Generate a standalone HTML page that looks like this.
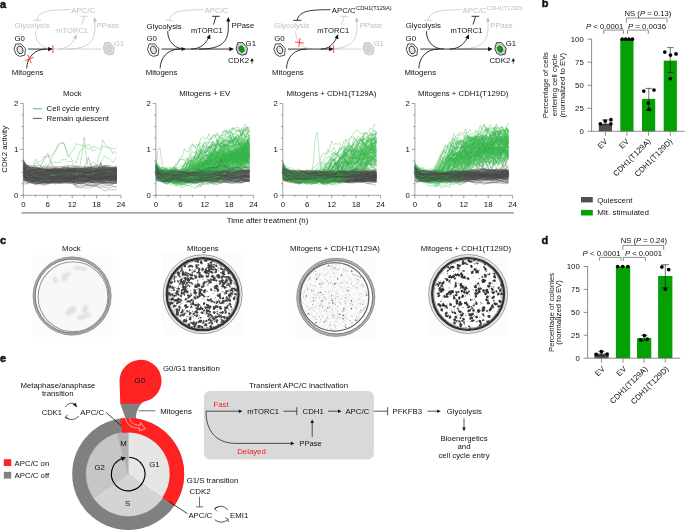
<!DOCTYPE html>
<html><head><meta charset="utf-8"><title>Figure</title>
<style>
html,body{margin:0;padding:0;background:#fff;}
body{width:685px;height:530px;overflow:hidden;font-family:"Liberation Sans",sans-serif;}
svg{display:block;font-family:"Liberation Sans",sans-serif;will-change:transform;}
</style></head><body>
<svg width="685" height="530" viewBox="0 0 685 530">
<defs>
<marker id="ab" markerWidth="7" markerHeight="6" refX="3.4" refY="2.1" orient="auto" markerUnits="userSpaceOnUse"><path d="M0,0 L4.6,2.1 L0,4.2 Z" fill="#111"/></marker>
<marker id="ag" markerWidth="7" markerHeight="6" refX="3.4" refY="2.1" orient="auto" markerUnits="userSpaceOnUse"><path d="M0,0 L4.4,2.0 L0,4.0 Z" fill="#c0c0c0"/></marker>
<filter id="bl" x="-5%" y="-5%" width="110%" height="110%"><feGaussianBlur stdDeviation="0.42"/></filter>
<filter id="bl2" x="-5%" y="-5%" width="110%" height="110%"><feGaussianBlur stdDeviation="0.8"/></filter>
</defs>
<g id="panel-a">
<text x="0.0" y="8.2" font-size="11" fill="#111" text-anchor="start" font-weight="bold" stroke="#111" stroke-width="0.45">a</text>
<text x="71.2" y="12.8" font-size="7.8" fill="#c0c0c0" text-anchor="start" >APC/C</text>
<text x="14.5" y="28.2" font-size="7.8" fill="#c0c0c0" text-anchor="start" >Glycolysis</text>
<text x="56.2" y="33.0" font-size="7.8" fill="#c0c0c0" text-anchor="start" textLength="31.9" lengthAdjust="spacingAndGlyphs" >mTORC1</text>
<text x="96.7" y="28.1" font-size="7.8" fill="#c0c0c0" text-anchor="start" textLength="22.6" lengthAdjust="spacingAndGlyphs" >PPase</text>
<text x="14.5" y="40.8" font-size="7.8" fill="#111" text-anchor="start" >G0</text>
<text x="11.8" y="75.3" font-size="7.8" fill="#111" text-anchor="start" >Mitogens</text>
<path d="M70.5,9.7 C51.7,9.7 38.7,10.5 37.0,20" fill="none" stroke="#c0c0c0" stroke-width="0.7"/>
<path d="M33.1,20.3 H41.1" fill="none" stroke="#c0c0c0" stroke-width="0.7"/>
<path d="M81.9,24.6 L84.4,16.4" fill="none" stroke="#c0c0c0" stroke-width="0.7"/>
<path d="M80.5,16.3 L88.1,16.3" fill="none" stroke="#c0c0c0" stroke-width="0.7"/>
<path d="M65.7,49.05 C83.7,49.05 94.9,45 94.9,28 V18.2" fill="none" stroke="#c0c0c0" stroke-width="0.7" marker-end="url(#ag)"/>
<path d="M35.3,31.2 C35.3,42 42.7,49.05 52.7,49.05" fill="none" stroke="#c0c0c0" stroke-width="0.7"/>
<path d="M52.7,49.05 H101.7" fill="none" stroke="#c0c0c0" stroke-width="0.7"/>
<path d="M104.7,42.6 L110.0,42.6 L114.2,47.7 L113.4,54.0 L108.9,55.1 L105.1,53.4 L103.3,48.3 Z" fill="#dbdbdb" stroke="#c8c8c8" stroke-width="1.0" stroke-linejoin="round"/>
<ellipse cx="108.7" cy="48.7" rx="2.6" ry="3.6" transform="rotate(-25 108.7 48.7)" fill="#d6d6d6" stroke="#c2c2c2" stroke-width="0.5"/>
<text x="113.7" y="46.0" font-size="7.8" fill="#c0c0c0" text-anchor="start" >G1</text>
<path d="M57.7,49.05 C67.2,49.05 72.9,43.5 76.3,35.4" fill="none" stroke="#c0c0c0" stroke-width="0.7" marker-end="url(#ag)"/>
<path d="M28.1,49.05 H51.5" fill="none" stroke="#111" stroke-width="0.85" marker-end="url(#ab)"/>
<path d="M52.9,45.2 V52.9" stroke="#ff7a7a" stroke-width="1.5"/>
<path d="M26.7,68.4 C27.1,58 33.7,49.05 46.7,49.05" fill="none" stroke="#111" stroke-width="0.85"/>
<path d="M15.7,44.0 L21.2,43.9 L25.5,48.8 L24.7,55.2 L19.8,56.4 L16.2,54.4 L14.1,49.4 Z" fill="#fff" stroke="#111" stroke-width="0.75" stroke-linejoin="round"/>
<ellipse cx="20.0" cy="49.9" rx="2.9" ry="4.0" transform="rotate(-18 20.0 49.9)" fill="#e4e4e4" stroke="#111" stroke-width="0.75"/>
<g transform="translate(29.5,58.9) rotate(-22)" stroke="#ff2626" stroke-width="0.8"><path d="M-4.5,0 H4.5 M0,-4.5 V4.5"/></g>
<text x="204.6" y="12.8" font-size="7.8" fill="#c0c0c0" text-anchor="start" >APC/C</text>
<text x="146.6" y="28.9" font-size="7.8" fill="#111" text-anchor="start" >Glycolysis</text>
<text x="190.9" y="32.6" font-size="7.8" fill="#111" text-anchor="start" textLength="31.9" lengthAdjust="spacingAndGlyphs" >mTORC1</text>
<text x="231.6" y="28.1" font-size="7.8" fill="#111" text-anchor="start" textLength="22.6" lengthAdjust="spacingAndGlyphs" >PPase</text>
<text x="146.4" y="40.8" font-size="7.8" fill="#111" text-anchor="start" >G0</text>
<text x="145.7" y="75.3" font-size="7.8" fill="#111" text-anchor="start" >Mitogens</text>
<path d="M203.9,9.7 C185.1,9.7 171.1,10.5 169.4,20" fill="none" stroke="#c0c0c0" stroke-width="0.7"/>
<path d="M165.5,20.3 H173.5" fill="none" stroke="#c0c0c0" stroke-width="0.7"/>
<path d="M213.5,24.6 L216.0,16.4" fill="none" stroke="#111" stroke-width="0.85"/>
<path d="M212.1,16.3 L219.7,16.3" fill="none" stroke="#111" stroke-width="0.85"/>
<path d="M199.1,49.05 C217.1,49.05 228.3,45 228.3,28 V18.2" fill="none" stroke="#111" stroke-width="0.85" marker-end="url(#ab)"/>
<path d="M167.7,31.2 C167.7,42 175.1,49.05 185.1,49.05" fill="none" stroke="#111" stroke-width="0.85"/>
<path d="M191.1,49.05 C200.6,49.05 206.3,43.5 209.7,35.4" fill="none" stroke="#111" stroke-width="0.85" marker-end="url(#ab)"/>
<path d="M161.5,49.05 H232.7" fill="none" stroke="#111" stroke-width="0.85" marker-end="url(#ab)"/>
<path d="M181.6,47.1 L185.4,49.05 L181.6,50.9 Z" fill="#111"/>
<path d="M237.8,42.7 L242.9,42.7 L247.5,48.2 L246.4,54.1 L241.8,55.2 L238.2,53.5 L236.1,48.7 Z" fill="#fff" stroke="#111" stroke-width="0.85" stroke-linejoin="round"/>
<path d="M238.6,44.0 L242.7,44.0 L246.4,48.4 L245.5,53.1 L241.8,54.0 L239.0,52.6 L237.3,48.8 Z" fill="#e4e4e4" stroke="#8a8a8a" stroke-width="0.5" stroke-linejoin="round"/>
<ellipse cx="241.5" cy="49.1" rx="2.6" ry="3.5" transform="rotate(-25 241.5 49.1)" fill="#0a9a12" stroke="#075c0c" stroke-width="0.5"/>
<text x="245.6" y="45.7" font-size="7.8" fill="#111" text-anchor="start" >G1</text>
<text x="228.1" y="63.4" font-size="7.8" fill="#111" text-anchor="start" textLength="21.0" lengthAdjust="spacingAndGlyphs" >CDK2</text>
<path d="M252.0,63.7 V60" stroke="#111" stroke-width="0.7"/><path d="M250.2,61.2 L252.0,58.0 L253.8,61.2 Z" fill="#111"/>
<path d="M160.1,68.4 C160.5,58 167.1,49.05 180.1,49.05" fill="none" stroke="#111" stroke-width="0.85"/>
<path d="M149.1,44.0 L154.6,43.9 L158.9,48.8 L158.1,55.2 L153.2,56.4 L149.6,54.4 L147.5,49.4 Z" fill="#fff" stroke="#111" stroke-width="0.75" stroke-linejoin="round"/>
<ellipse cx="153.4" cy="49.9" rx="2.9" ry="4.0" transform="rotate(-18 153.4 49.9)" fill="#e4e4e4" stroke="#111" stroke-width="0.75"/>
<text x="331.8" y="12.8" font-size="7.8" fill="#111" text-anchor="start" >APC/C</text>
<text x="356.1" y="9.9" font-size="5.6" fill="#111" text-anchor="start" >CDH1(T129A)</text>
<text x="274.3" y="28.2" font-size="7.8" fill="#c0c0c0" text-anchor="start" >Glycolysis</text>
<text x="317.3" y="33.0" font-size="7.8" fill="#111" text-anchor="start" textLength="31.9" lengthAdjust="spacingAndGlyphs" >mTORC1</text>
<text x="359.7" y="28.1" font-size="7.8" fill="#c0c0c0" text-anchor="start" textLength="22.6" lengthAdjust="spacingAndGlyphs" >PPase</text>
<text x="274.3" y="40.8" font-size="7.8" fill="#111" text-anchor="start" >G0</text>
<text x="272.1" y="75.3" font-size="7.8" fill="#111" text-anchor="start" >Mitogens</text>
<path d="M330.3,9.7 C311.5,9.7 299.0,10.5 297.3,20" fill="none" stroke="#111" stroke-width="0.85"/>
<path d="M293.4,20.3 H301.4" fill="none" stroke="#111" stroke-width="0.85"/>
<path d="M341.7,24.6 L344.2,16.4" fill="none" stroke="#c0c0c0" stroke-width="0.7"/>
<path d="M340.3,16.3 L347.9,16.3" fill="none" stroke="#c0c0c0" stroke-width="0.7"/>
<path d="M325.5,49.05 C345.7,49.05 356.9,45 356.9,28 V18.2" fill="none" stroke="#c0c0c0" stroke-width="0.7" marker-end="url(#ag)"/>
<path d="M295.6,31.2 C295.6,42 303.0,49.05 313.0,49.05" fill="none" stroke="#c0c0c0" stroke-width="0.7"/>
<path d="M333.6,49.05 H361.5" fill="none" stroke="#c0c0c0" stroke-width="0.7"/>
<path d="M364.5,42.6 L369.8,42.6 L374.0,47.7 L373.2,54.0 L368.7,55.1 L364.9,53.4 L363.1,48.3 Z" fill="#dbdbdb" stroke="#c8c8c8" stroke-width="1.0" stroke-linejoin="round"/>
<ellipse cx="368.5" cy="48.7" rx="2.6" ry="3.6" transform="rotate(-25 368.5 48.7)" fill="#d6d6d6" stroke="#c2c2c2" stroke-width="0.5"/>
<text x="373.5" y="46.0" font-size="7.8" fill="#c0c0c0" text-anchor="start" >G1</text>
<path d="M320.7,49.05 C329.4,49.05 334.3,43.5 337.7,35.4" fill="none" stroke="#111" stroke-width="0.85" marker-end="url(#ab)"/>
<path d="M287.9,49.05 H332.4" fill="none" stroke="#111" stroke-width="0.85" marker-end="url(#ab)"/>
<path d="M333.6,45.1 V53.0" stroke="#f22" stroke-width="0.8"/>
<path d="M286.5,68.4 C286.9,58 293.5,49.05 306.5,49.05" fill="none" stroke="#111" stroke-width="0.85"/>
<path d="M275.5,44.0 L281.0,43.9 L285.3,48.8 L284.5,55.2 L279.6,56.4 L276.0,54.4 L273.9,49.4 Z" fill="#fff" stroke="#111" stroke-width="0.75" stroke-linejoin="round"/>
<ellipse cx="279.8" cy="49.9" rx="2.9" ry="4.0" transform="rotate(-18 279.8 49.9)" fill="#e4e4e4" stroke="#111" stroke-width="0.75"/>
<g transform="translate(299.4,42.5) rotate(8)" stroke="#ff2626" stroke-width="0.8"><path d="M-4.5,0 H4.5 M0,-4.5 V4.5"/></g>
<text x="462.6" y="12.8" font-size="7.8" fill="#c0c0c0" text-anchor="start" >APC/C</text>
<text x="486.8" y="9.9" font-size="5.6" fill="#c0c0c0" text-anchor="start" >CDH1(T129D)</text>
<text x="405.8" y="28.2" font-size="7.8" fill="#111" text-anchor="start" >Glycolysis</text>
<text x="450.6" y="33.0" font-size="7.8" fill="#111" text-anchor="start" textLength="31.9" lengthAdjust="spacingAndGlyphs" >mTORC1</text>
<text x="490.3" y="28.1" font-size="7.8" fill="#c0c0c0" text-anchor="start" textLength="22.6" lengthAdjust="spacingAndGlyphs" >PPase</text>
<text x="405.6" y="40.8" font-size="7.8" fill="#111" text-anchor="start" >G0</text>
<text x="404.4" y="75.3" font-size="7.8" fill="#111" text-anchor="start" >Mitogens</text>
<path d="M462.6,9.7 C443.8,9.7 429.8,10.5 428.1,20" fill="none" stroke="#c0c0c0" stroke-width="0.7"/>
<path d="M424.2,20.3 H432.2" fill="none" stroke="#c0c0c0" stroke-width="0.7"/>
<path d="M473.0,24.6 L475.5,16.4" fill="none" stroke="#111" stroke-width="0.85"/>
<path d="M471.6,16.3 L479.2,16.3" fill="none" stroke="#111" stroke-width="0.85"/>
<path d="M457.8,49.05 C476.8,49.05 488.0,45 488.0,28 V18.2" fill="none" stroke="#c0c0c0" stroke-width="0.7" marker-end="url(#ag)"/>
<path d="M426.4,31.2 C426.4,42 433.8,49.05 443.8,49.05" fill="none" stroke="#111" stroke-width="0.85"/>
<path d="M449.8,49.05 C459.3,49.05 465.0,43.5 468.4,35.4" fill="none" stroke="#111" stroke-width="0.85" marker-end="url(#ab)"/>
<path d="M420.2,49.05 H491.4" fill="none" stroke="#111" stroke-width="0.85" marker-end="url(#ab)"/>
<path d="M496.5,42.7 L501.6,42.7 L506.2,48.2 L505.1,54.1 L500.5,55.2 L496.9,53.5 L494.8,48.7 Z" fill="#fff" stroke="#111" stroke-width="0.85" stroke-linejoin="round"/>
<path d="M497.3,44.0 L501.4,44.0 L505.1,48.4 L504.2,53.1 L500.5,54.0 L497.7,52.6 L496.0,48.8 Z" fill="#e4e4e4" stroke="#8a8a8a" stroke-width="0.5" stroke-linejoin="round"/>
<ellipse cx="500.2" cy="49.1" rx="2.6" ry="3.5" transform="rotate(-25 500.2 49.1)" fill="#0a9a12" stroke="#075c0c" stroke-width="0.5"/>
<text x="505.8" y="45.7" font-size="7.8" fill="#111" text-anchor="start" >G1</text>
<text x="489.4" y="63.4" font-size="7.8" fill="#111" text-anchor="start" textLength="21.0" lengthAdjust="spacingAndGlyphs" >CDK2</text>
<path d="M513.3,63.7 V60" stroke="#111" stroke-width="0.7"/><path d="M511.5,61.2 L513.3,58.0 L515.0,61.2 Z" fill="#111"/>
<path d="M418.8,68.4 C419.2,58 425.8,49.05 438.8,49.05" fill="none" stroke="#111" stroke-width="0.85"/>
<path d="M407.8,44.0 L413.3,43.9 L417.6,48.8 L416.8,55.2 L411.9,56.4 L408.3,54.4 L406.2,49.4 Z" fill="#fff" stroke="#111" stroke-width="0.75" stroke-linejoin="round"/>
<ellipse cx="412.1" cy="49.9" rx="2.9" ry="4.0" transform="rotate(-18 412.1 49.9)" fill="#e4e4e4" stroke="#111" stroke-width="0.75"/>
</g>
<g id="plots">
<path transform="translate(23.30,195.3) scale(2.03542,-0.22950)" d="M0,117L1,106L2,102L3,107L4,107L5,129L6,159L7,142L8,147L9,151L10,168L11,168L12,166L13,171L14,175L15,185L16,200L17,220L18,226L19,225L20,226L21,198L22,167L23,180L24,193L25,202L26,225L27,222L28,221L29,216L30,218L31,216L32,223L33,211L34,210L35,211L36,207L37,205L38,198L39,214L40,212L41,208L42,209L43,205L44,205L45,202L46,210M0,112L1,101L2,93L3,93L4,93L5,90L6,97L7,101L8,100L9,104L10,98L11,108L12,129L13,140L14,162L15,179L16,195L17,209L18,223L19,233L20,227L21,201L22,178L23,167L24,152L25,150L26,140L27,172L28,196L29,199L30,213L31,210L32,200L33,207L34,193L35,196L36,195M0,106L1,102L2,101L3,99L4,104L5,120L6,140L7,140L8,134L9,127L10,123L11,135L12,130L13,132L14,143L15,145L16,143L17,143L18,145L19,157L20,154L21,158L22,146L23,148L24,146L25,123L26,101M26,112L27,120L28,135L29,189L30,253L31,159L32,119L33,131L34,144L35,144L36,129L37,164L38,191L39,242L40,225L41,215L42,204L43,201L44,181L45,191L46,184" fill="none" stroke="#36b44a" stroke-width="0.34" stroke-linejoin="round" vector-effect="non-scaling-stroke" opacity="1.0"/>
<path transform="translate(23.30,195.3) scale(2.03542,-0.22950)" d="M0,83L1,77L2,71L3,71L4,77L6,78L8,81L10,79L12,79L14,78L16,69L18,75L20,76L22,78L24,69L26,63L28,63L30,65L32,70L34,71L36,74L38,71L40,73L42,75L44,72L46,80M0,110L1,102L2,101L3,99L4,95L6,90L8,90L10,98L12,93L14,96L16,98L18,91L20,94L22,101L24,91L26,92L28,94L30,92L32,97L34,98L36,92L38,99L40,102L42,106L44,110L46,108M0,122L1,110L2,104L3,103L4,111L6,100L8,97L10,102L12,111L14,112L16,102L18,93L20,100L22,100L24,98L26,106L28,111L30,110L32,110L34,111L36,116L38,115L40,114L42,113L44,104L46,110M0,128L1,102L2,94L3,96L4,87L6,94L8,95L10,92L12,93L14,95L16,94L18,98L20,93L22,91L24,96L26,95L28,91L30,96L32,102L34,97L36,90L38,92L40,93L42,93L44,101L46,95M0,102L1,95L2,89L3,85L4,83L6,83L8,81L10,81L12,83L14,81L16,84L18,84L20,91L22,88L24,82L26,80L28,79L30,83L32,80L34,82L36,89L38,74L40,71L42,76L44,79L46,80M0,126L1,119L2,111L3,108L4,106L6,127L8,118L10,97L12,105L14,100L16,102L18,108L20,111L22,116L24,104L26,104L28,103L30,107L32,112L34,98L36,106L38,100L40,106L42,100L44,103L46,110M0,126L1,115L2,117L3,108L4,101L6,101L8,100L10,102L12,102L14,106L16,110L18,100L20,93L22,96L24,97L26,96L28,92L30,86L32,93L34,88L36,90L38,94L40,97L42,94L44,100L46,88M0,144L1,132L2,129L3,130L4,123L6,116L8,121L10,107L12,107L14,106L16,107L18,109L20,123L22,120L24,115L26,110L28,116L30,114L32,120L34,112L36,114L38,117L40,116L42,119L44,114L46,113M0,122L1,118L2,118L3,112L4,116L6,111L8,106L10,107L12,114L14,113L16,113L18,113L20,113L22,110L24,104L26,109L28,107L30,108L32,104L34,107L36,110L38,110L40,108L42,109L44,110L46,119M0,132L1,120L2,106L3,103L4,101L6,96L8,93L10,96L12,105L14,102L16,110L18,100L20,102L22,108L24,115L26,108L28,108L30,109L32,106L34,107L36,107L38,108L40,104L42,99L44,104L46,104M0,102L1,83L2,78L3,70L4,54L6,57L8,61L10,59L12,56L14,61L16,60L18,64L20,61L22,68L24,72L26,69L28,66L30,65L32,61L34,74L36,99L38,64L40,71L42,67L44,68L46,66M0,118L1,98L2,95L3,96L4,83L6,78L8,80L10,80L12,78L14,75L16,86L18,88L20,79L22,73L24,83L26,86L28,91L30,90L32,82L34,82L36,71L38,71L40,74L42,78L44,75L46,76M0,67L1,66L2,62L3,57L4,54L6,56L8,56L10,58L12,58L14,60L16,59L18,54L20,58L22,64L24,64L26,62L28,64L30,59L32,52L34,56L36,54L38,61L40,57L42,48L44,50L46,62M0,98L1,90L2,92L3,90L4,85L6,85L8,90L10,90L12,91L14,82L16,81L18,84L20,81L22,86L24,86L26,88L28,85L30,94L32,95L34,89L36,86L38,96L40,89L42,90L44,91L46,88M0,92L1,80L2,78L3,75L4,72L6,70L8,67L10,70L12,64L14,62L16,63L18,58L20,59L22,53L24,55L26,62L28,66L30,66L32,65L34,59L36,69L38,70L40,73L42,66L44,65L46,57M0,122L1,97L2,83L3,79L4,78L6,74L8,78L10,82L12,86L14,88L16,93L18,95L20,85L22,82L24,78L26,76L28,79L30,81L32,84L34,77L36,74L38,78L40,79L42,79L44,81L46,78M0,110L1,93L2,91L3,95L4,90L6,95L8,98L10,93L12,96L14,97L16,101L18,105L20,104L22,100L24,101L26,102L28,107L30,107L32,104L34,99L36,100L38,100L40,98L42,101L44,102L46,105M0,157L1,138L2,132L3,114L4,111L6,112L8,115L10,125L12,122L14,125L16,124L18,124L20,122L22,118L24,119L26,112L28,118L30,112L32,114L34,123L36,118L38,117L40,120L42,118L44,112L46,114M0,115L1,97L2,88L3,80L4,84L6,76L8,79L10,75L12,73L14,78L16,83L18,81L20,77L22,81L24,80L26,81L28,87L30,89L32,83L34,92L36,88L38,88L40,83L42,82L44,75L46,86M0,135L1,114L2,104L3,98L4,95L6,89L8,91L10,86L12,89L14,92L16,95L18,94L20,90L22,93L24,92L26,100L28,102L30,99L32,95L34,93L36,90L38,91L40,94L42,97L44,100L46,108M0,148L1,131L2,122L3,118L4,114L6,113L8,112L10,115L12,105L14,103L16,107L18,104L20,102L22,109L24,107L26,112L28,115L30,115L32,116L34,114L36,107L38,109L40,112L42,110L44,111L46,115M0,148L1,131L2,130L3,124L4,123L6,115L8,114L10,114L12,106L14,115L16,118L18,108L20,114L22,113L24,115L26,116L28,108L30,109L32,117L34,113L36,109L38,104L40,103L42,108L44,118L46,118M0,111L1,106L2,96L3,90L4,93L6,94L8,89L10,90L12,90L14,94L16,94L18,94L20,93L22,99L24,103L26,99L28,101L30,96L32,96L34,99L36,105L38,100L40,98L42,98L44,91L46,93M0,133L1,117L2,104L3,104L4,99L6,94L8,96L10,89L12,88L14,91L16,97L18,95L20,97L22,93L24,95L26,103L28,97L30,106L32,99L34,98L36,97L38,101L40,93L42,85L44,92L46,96M0,73L1,70L2,75L3,65L4,63L6,48L8,58L10,59L12,66L14,75L16,71L18,68L20,65L22,62L24,62L26,67L28,67L30,68L32,68L34,72L36,73L38,71L40,74L42,72L44,66L46,74M0,71L1,71L2,67L3,67L4,64L6,61L8,53L10,60L12,60L14,59L16,61L18,62L20,64L22,62L24,62L26,53L28,55L30,61L32,68L34,65L36,64L38,72L40,68L42,70L44,76L46,72M0,118L1,120L2,128L3,119L4,114L6,115L8,110L10,113L12,116L14,113L16,115L18,108L20,113L22,106L24,106L26,106L28,107L30,114L32,114L34,112L36,115L38,121L40,118L42,118L44,122L46,120M0,148L1,132L2,125L3,121L4,115L6,107L8,108L10,113L12,107L14,103L16,106L18,99L20,102L22,103L24,108L26,106L28,104L30,105L32,107L34,105L36,107L38,112L40,117L42,122L44,114L46,111M0,100L1,87L2,88L3,87L4,78L6,82L8,88L10,79L12,85L14,86L16,88L18,88L20,93L22,89L24,91L26,87L28,89L30,84L32,84L34,92L36,91L38,87L40,81L42,79L44,82L46,87M0,94L1,80L2,79L3,76L4,72L6,69L8,69L10,73L12,74L14,68L16,72L18,73L20,69L22,75L24,73L26,73L28,77L30,82L32,77L34,79L36,74L38,85L40,80L42,84L44,79L46,82M0,87L1,79L2,87L3,83L4,73L6,78L8,70L10,77L12,74L14,76L16,82L18,80L20,72L22,67L24,76L26,79L28,74L30,79L32,80L34,81L36,69L38,71L40,77L42,80L44,82L46,69M0,150L1,133L2,127L3,119L4,121L6,114L8,115L10,113L12,114L14,112L16,106L18,115L20,117L22,114L24,116L26,121L28,116L30,116L32,119L34,121L36,119L38,110L40,119L42,121L44,121L46,120M0,112L1,100L2,91L3,93L4,87L6,91L8,87L10,91L12,98L14,97L16,93L18,93L20,94L22,87L24,88L26,91L28,91L30,93L32,98L34,101L36,103L38,103L40,100L42,99L44,97L46,96M0,87L1,86L2,88L3,86L4,95L6,80L8,81L10,75L12,83L14,96L16,81L18,83L20,86L22,85L24,88L26,77L28,84L30,86L32,86L34,83L36,87L38,84L40,86L42,83L44,74L46,79M0,104L1,96L2,97L3,101L4,91L6,80L8,86L10,93L12,94L14,95L16,89L18,85L20,89L22,84L24,77L26,77L28,92L30,99L32,91L34,87L36,88L38,85L40,92L42,90L44,84L46,92M0,107L1,101L2,93L3,86L4,86L6,89L8,94L10,97L12,101L14,102L16,99L18,97L20,90L22,94L24,100L26,104L28,103L30,103L32,107L34,106L36,109L38,110L40,109L42,113L44,107L46,105M0,100L1,85L2,80L3,76L4,76L6,65L8,62L10,65L12,71L14,70L16,64L18,64L20,62L22,60L24,70L26,67L28,67L30,78L32,79L34,77L36,72L38,73L40,79L42,79L44,82L46,78M0,86L1,76L2,73L3,67L4,66L6,69L8,77L10,76L12,74L14,65L16,75L18,72L20,71L22,65L24,66L26,63L28,66L30,69L32,69L34,71L36,67L38,74L40,70L42,62L44,65L46,64M0,125L1,121L2,116L3,110L4,108L6,105L8,104L10,107L12,106L14,95L16,99L18,97L20,103L22,101L24,104L26,114L28,106L30,101L32,97L34,90L36,89L38,97L40,98L42,94L44,93L46,101M0,102L1,91L2,81L3,76L4,80L6,80L8,73L10,73L12,71L14,70L16,66L18,60L20,60L22,56L24,65L26,68L28,62L30,70L32,72L34,62L36,89L38,141L40,107L42,69L44,69L46,70M0,131L1,121L2,120L3,118L4,113L6,113L8,109L10,107L12,106L14,109L16,106L18,101L20,98L22,110L24,99L26,101L28,101L30,102L32,98L34,103L36,104L38,100L40,100L42,96L44,101L46,110M0,71L1,75L2,71L3,69L4,62L6,63L8,65L10,62L12,59L14,62L16,65L18,62L20,67L22,65L24,67L26,73L28,68L30,67L32,66L34,65L36,67L38,60L40,64L42,59L44,59L46,66M0,98L1,81L2,70L3,75L4,64L6,61L8,63L10,59L12,54L14,57L16,58L18,51L20,52L22,52L24,54L26,58L28,62L30,56L32,57L34,55L36,50L38,57L40,56L42,56L44,49L46,55M0,103L1,87L2,82L3,81L4,75L6,79L8,79L10,81L12,83L14,91L16,85L18,79L20,80L22,78L24,68L26,80L28,81L30,73L32,72L34,76L36,76L38,76L40,78L42,83L44,86L46,85M0,109L1,98L2,89L3,84L4,84L6,74L8,73L10,80L12,82L14,79L16,82L18,90L20,94L22,85L24,83L26,75L28,77L30,74L32,75L34,80L36,81L38,81L40,76L42,83L44,83L46,78M0,103L1,97L2,93L3,87L4,81L6,75L8,74L10,81L12,84L14,84L16,82L18,82L20,85L22,75L24,77L26,81L28,78L30,79L32,81L34,78L36,76L38,75L40,75L42,80L44,86L46,86M0,114L1,108L2,109L3,107L4,105L6,104L8,100L10,104L12,103L14,100L16,102L18,106L20,106L22,96L24,97L26,101L28,105L30,102L32,105L34,109L36,110L38,102L40,102L42,102L44,103L46,105M0,129L1,108L2,100L3,102L4,105L6,106L8,96L10,103L12,100L14,103L16,100L18,104L20,101L22,100L24,99L26,95L28,97L30,101L32,96L34,98L36,95L38,92L40,89L42,102L44,103L46,101M0,115L1,104L2,104L3,104L4,110L6,105L8,105L10,107L12,108L14,109L16,108L18,103L20,110L22,116L24,113L26,108L28,112L30,107L32,108L34,102L36,110L38,105L40,108L42,106L44,105L46,102M0,132L1,125L2,121L3,120L4,120L6,118L8,118L10,119L12,111L14,111L16,112L18,112L20,115L22,110L24,106L26,107L28,112L30,110L32,102L34,113L36,120L38,122L40,119L42,118L44,113L46,111M0,128L1,122L2,125L3,122L4,116L6,112L8,116L10,112L12,108L14,112L16,114L18,111L20,109L22,113L24,106L26,107L28,108L30,119L32,114L34,117L36,116L38,121L40,125L42,121L44,120L46,115M0,117L1,104L2,96L3,84L4,85L6,86L8,87L10,88L12,93L14,101L16,91L18,86L20,90L22,80L24,79L26,79L28,78L30,77L32,76L34,77L36,83L38,92L40,83L42,87L44,89L46,90M0,133L1,128L2,121L3,111L4,110L6,113L8,109L10,111L12,105L14,110L16,111L18,110L20,109L22,109L24,115L26,118L28,106L30,103L32,105L34,107L36,103L38,110L40,121L42,111L44,106L46,108M0,77L1,72L2,69L3,66L4,68L6,67L8,68L10,66L12,73L14,71L16,69L18,75L20,72L22,71L24,70L26,61L28,67L30,106L32,87L34,70L36,66L38,61L40,65L42,64L44,71L46,67M0,108L1,100L2,87L3,81L4,74L6,78L8,71L10,75L12,81L14,85L16,78L18,83L20,78L22,75L24,71L26,79L28,87L30,82L32,78L34,78L36,90L38,91L40,85L42,76L44,76L46,84M0,98L1,98L2,90L3,95L4,86L6,83L8,88L10,86L12,92L14,92L16,88L18,93L20,97L22,87L24,98L26,98L28,100L30,90L32,88L34,89L36,96L38,89L40,88L42,82L44,86L46,92M0,100L1,83L2,70L3,64L4,62L6,64L8,65L10,73L12,72L14,65L16,73L18,75L20,72L22,67L24,59L26,58L28,66L30,63L32,59L34,64L36,67L38,70L40,72L42,77L44,70L46,74M0,73L1,69L2,71L3,72L4,69L6,64L8,60L10,59L12,59L14,61L16,74L18,72L20,72L22,64L24,62L26,103L28,118L30,61L32,66L34,62L36,66L38,54L40,57L42,60L44,61L46,64M0,155L1,138L2,125L3,121L4,121L6,117L8,117L10,153L12,182L14,137L16,114L18,117L20,124L22,131L24,129L26,125L28,126L30,124L32,117L34,126L36,131L38,122L40,130L42,129L44,125L46,118M0,105L1,96L2,99L3,100L4,98L6,99L8,96L10,96L12,97L14,99L16,98L18,97L20,97L22,94L24,105L26,105L28,104L30,112L32,112L34,100L36,102L38,105L40,110L42,112L44,110L46,100M0,125L1,114L2,110L3,109L4,106L6,100L8,107L10,113L12,110L14,112L16,111L18,112L20,111L22,106L24,108L26,111L28,105L30,114L32,120L34,122L36,124L38,120L40,113L42,107L44,103L46,104M0,126L1,104L2,94L3,89L4,84L6,79L8,77L10,73L12,75L14,75L16,77L18,73L20,74L22,75L24,78L26,72L28,75L30,80L32,80L34,77L36,74L38,73L40,77L42,83L44,79L46,74M0,113L1,106L2,94L3,89L4,92L6,86L8,89L10,92L12,91L14,87L16,89L18,89L20,92L22,89L24,95L26,87L28,89L30,90L32,96L34,92L36,95L38,92L40,96L42,102L44,97L46,98M0,72L1,65L2,65L3,66L4,65L6,52L8,51L10,59L12,52L14,59L16,66L18,66L20,67L22,62L24,55L26,56L28,56L30,57L32,61L34,59L36,60L38,62L40,61L42,69L44,67L46,65M0,76L1,64L2,59L3,55L4,60L6,52L8,56L10,56L12,51L14,53L16,54L18,57L20,55L22,57L24,49L26,47L28,54L30,60L32,59L34,55L36,61L38,50L40,49L42,55L44,59L46,54M0,119L1,115L2,98L3,105L4,107L6,96L8,103L10,95L12,104L14,106L16,116L18,109L20,108L22,112L24,107L26,104L28,104L30,105L32,101L34,106L36,110L38,110L40,117L42,113L44,117L46,112M0,112L1,108L2,106L3,104L4,96L6,99L8,100L10,102L12,100L14,103L16,109L18,108L20,106L22,113L24,116L26,117L28,119L30,114L32,112L34,116L36,111L38,110L40,111L42,112L44,110L46,114M0,86L1,69L2,59L3,56L4,59L6,65L8,57L10,59L12,55L14,54L16,55L18,59L20,60L22,65L24,58L26,62L28,65L30,63L32,63L34,59L36,54L38,71L40,78L42,68L44,62L46,68M0,98L1,87L2,85L3,93L4,87L6,81L8,79L10,83L12,79L14,75L16,82L18,76L20,71L22,75L24,78L26,73L28,70L30,77L32,78L34,72L36,84L38,91L40,97L42,93L44,87L46,85M0,116L1,95L2,85L3,85L4,76L6,79L8,78L10,83L12,77L14,77L16,75L18,84L20,85L22,79L24,77L26,79L28,78L30,81L32,75L34,74L36,85L38,88L40,81L42,88L44,90L46,77M0,120L1,118L2,105L3,107L4,110L6,105L8,113L10,112L12,106L14,108L16,106L18,112L20,109L22,108L24,117L26,113L28,112L30,112L32,110L34,115L36,110L38,110L40,120L42,110L44,108L46,111M0,99L1,86L2,76L3,87L4,85L6,76L8,84L10,87L12,80L14,72L16,84L18,81L20,78L22,80L24,78L26,84L28,80L30,80L32,83L34,88L36,82L38,79L40,87L42,85L44,88L46,87M0,98L1,105L2,96L3,93L4,96L6,101L8,96L10,96L12,93L14,90L16,99L18,98L20,96L22,98L24,102L26,106L28,104L30,103L32,103L34,106L36,105L38,97L40,98L42,96L44,105L46,103M0,86L1,83L2,85L3,78L4,74L6,79L8,77L10,78L12,82L14,76L16,81L18,78L20,75L22,74L24,85L26,85L28,84L30,78L32,85L34,77L36,75L38,82L40,85L42,81L44,83L46,80M0,86L1,75L2,72L3,67L4,70L6,73L8,76L10,84L12,77L14,80L16,80L18,80L20,73L22,75L24,76L26,75L28,76L30,71L32,71L34,75L36,73L38,76L40,82L42,80L44,76L46,78M0,108L1,94L2,88L3,74L4,75L6,76L8,73L10,68L12,73L14,72L16,77L18,74L20,74L22,78L24,81L26,83L28,78L30,86L32,78L34,74L36,74L38,80L40,80L42,87L44,86L46,85M0,117L1,105L2,101L3,105L4,106L6,105L8,106L10,101L12,101L14,99L16,97L18,97L20,95L22,98L24,103L26,104L28,104L30,119L32,164L34,107L36,93L38,102L40,104L42,94L44,99L46,99M0,106L1,91L2,88L3,81L4,78L6,76L8,85L10,89L12,85L14,76L16,79L18,80L20,82L22,84L24,81L26,85L28,87L30,85L32,82L34,79L36,98L38,142L40,83L42,76L44,72L46,78M0,90L1,74L2,66L3,64L4,62L6,56L8,63L10,57L12,63L14,65L16,56L18,62L20,62L22,58L24,67L26,70L28,56L30,62L32,59L34,52L36,58L38,53L40,55L42,57L44,57L46,54M0,100L1,85L2,76L3,67L4,53L6,53L8,53L10,53L12,57L14,61L16,59L18,65L20,66L22,69L24,71L26,74L28,69L30,64L32,65L34,70L36,59L38,65L40,63L42,67L44,69L46,66M0,128L1,115L2,107L3,101L4,95L6,101L8,104L10,103L12,103L14,109L16,109L18,110L20,108L22,111L24,108L26,104L28,109L30,111L32,107L34,109L36,110L38,112L40,125L42,120L44,116L46,113M0,92L1,91L2,92L3,96L4,103L6,97L8,90L10,85L12,92L14,88L16,88L18,92L20,91L22,91L24,91L26,82L28,84L30,88L32,83L34,79L36,85L38,85L40,88L42,80L44,83L46,81M0,87L1,79L2,78L3,73L4,79L6,77L8,70L10,65L12,66L14,59L16,69L18,69L20,68L22,70L24,69L26,76L28,80L30,80L32,79L34,80L36,78L38,75L40,78L42,76L44,77L46,81M0,136L1,124L2,113L3,106L4,102L6,105L8,99L10,105L12,110L14,100L16,104L18,108L20,102L22,105L24,104L26,107L28,110L30,110L32,97L34,103L36,111L38,104L40,115L42,109L44,102L46,97M0,97L1,89L2,83L3,87L4,87L6,93L8,93L10,91L12,94L14,99L16,94L18,93L20,90L22,87L24,84L26,85L28,81L30,84L32,85L34,88L36,93L38,100L40,94L42,92L44,93L46,89M0,88L1,78L2,72L3,70L4,63L6,65L8,70L10,72L12,75L14,75L16,76L18,69L20,67L22,60L24,74L26,80L28,75L30,70L32,71L34,66L36,72L38,80L40,68L42,65L44,71L46,75M0,79L1,76L2,75L3,82L4,72L6,79L8,72L10,69L12,64L14,67L16,74L18,75L20,77L22,75L24,78L26,73L28,78L30,78L32,75L34,83L36,90L38,85L40,90L42,90L44,92L46,93M0,140L1,129L2,113L3,115L4,111L6,109L8,112L10,112L12,112L14,109L16,106L18,106L20,106L22,104L24,112L26,118L28,108L30,107L32,112L34,101L36,108L38,109L40,112L42,115L44,118L46,109M0,129L1,121L2,118L3,119L4,106L6,110L8,106L10,104L12,103L14,106L16,110L18,104L20,107L22,106L24,102L26,107L28,102L30,101L32,102L34,103L36,100L38,99L40,106L42,106L44,106L46,105M0,81L1,76L2,69L3,67L4,82L6,74L8,78L10,77L12,76L14,66L16,79L18,101L20,97L22,71L24,66L26,76L28,82L30,71L32,70L34,68L36,70L38,64L40,61L42,66L44,65L46,73M0,101L1,96L2,89L3,89L4,96L6,91L8,84L10,85L12,82L14,81L16,84L18,86L20,84L22,88L24,86L26,80L28,86L30,84L32,90L34,86L36,88L38,89L40,76L42,74L44,74L46,85M0,82L1,69L2,64L3,63L4,63L6,64L8,62L10,58L12,57L14,61L16,54L18,52L20,55L22,56L24,58L26,49L28,54L30,57L32,63L34,56L36,59L38,64L40,67L42,72L44,75L46,67M0,103L1,86L2,79L3,73L4,78L6,78L8,83L10,82L12,77L14,82L16,77L18,75L20,76L22,77L24,83L26,79L28,80L30,80L32,75L34,72L36,75L38,79L40,81L42,83L44,83L46,81M0,107L1,95L2,88L3,85L4,85L6,82L8,82L10,76L12,81L14,79L16,84L18,73L20,75L22,80L24,72L26,76L28,80L30,83L32,77L34,82L36,84L38,80L40,85L42,85L44,85L46,83M0,77L1,67L2,66L3,61L4,61L6,61L8,59L10,48L12,52L14,55L16,56L18,53L20,60L22,58L24,55L26,52L28,55L30,51L32,49L34,60L36,64L38,65L40,67L42,65L44,54L46,60M0,122L1,101L2,92L3,90L4,85L6,87L8,84L10,86L12,84L14,77L16,74L18,91L20,88L22,91L24,93L26,96L28,93L30,86L32,85L34,76L36,78L38,84L40,75L42,79L44,85L46,90M0,128L1,119L2,101L3,102L4,99L6,92L8,100L10,85L12,87L14,89L16,98L18,103L20,107L22,101L24,101L26,102L28,100L30,97L32,94L34,90L36,85L38,95L40,91L42,82L44,86L46,88M0,99L1,98L2,95L3,97L4,110L6,106L8,99L10,106L12,106L14,106L16,105L18,106L20,105L22,108L24,108L26,109L28,102L30,100L32,96L34,101L36,103L38,99L40,101L42,110L44,111L46,100M0,82L1,78L2,70L3,73L4,72L6,72L8,69L10,63L12,61L14,63L16,62L18,54L20,65L22,62L24,63L26,68L28,59L30,69L32,67L34,71L36,69L38,71L40,71L42,71L44,63L46,60M0,91L1,87L2,87L3,77L4,78L6,77L8,76L10,74L12,73L14,71L16,70L18,85L20,90L22,86L24,87L26,81L28,69L30,66L32,73L34,83L36,82L38,78L40,79L42,76L44,73L46,76M0,118L1,112L2,103L3,109L4,95L6,96L8,90L10,91L12,93L14,97L16,101L18,97L20,92L22,93L24,96L26,94L28,99L30,106L32,97L34,99L36,104L38,94L40,97L42,98L44,93L46,102M0,80L1,75L2,72L3,64L4,62L6,63L8,52L10,66L12,64L14,61L16,55L18,61L20,63L22,62L24,62L26,61L28,60L30,63L32,62L34,68L36,68L38,69L40,71L42,76L44,76L46,75M0,88L1,80L2,71L3,66L4,70L6,76L8,77L10,70L12,71L14,73L16,70L18,73L20,73L22,70L24,67L26,73L28,76L30,72L32,72L34,113L36,104L38,77L40,82L42,78L44,73L46,78M0,121L1,103L2,90L3,85L4,76L6,80L8,77L10,83L12,87L14,83L16,78L18,81L20,85L22,79L24,80L26,77L28,86L30,87L32,78L34,78L36,80L38,79L40,81L42,84L44,84L46,82M0,92L1,84L2,85L3,87L4,86L6,84L8,73L10,72L12,84L14,79L16,86L18,92L20,92L22,92L24,96L26,95L28,94L30,98L32,96L34,105L36,96L38,94L40,94L42,95L44,93L46,103M0,86L1,81L2,73L3,75L4,68L6,69L8,65L10,74L12,76L14,84L16,79L18,76L20,74L22,128L24,80L26,77L28,75L30,78L32,79L34,74L36,73L38,67L40,67L42,69L44,77L46,76M0,112L1,108L2,112L3,108L4,109L6,103L8,102L10,98L12,100L14,106L16,107L18,105L20,108L22,106L24,107L26,108L28,109L30,97L32,95L34,103L36,103L38,114L40,109L42,105L44,111L46,111M0,81L1,75L2,71L3,71L4,75L6,72L8,74L10,72L12,77L14,65L16,68L18,72L20,70L22,77L24,78L26,84L28,86L30,86L32,82L34,77L36,77L38,76L40,79L42,78L44,92L46,82M0,89L1,76L2,75L3,73L4,64L6,67L8,65L10,64L12,69L14,72L16,70L18,80L20,79L22,73L24,74L26,72L28,63L30,59L32,58L34,72L36,71L38,70L40,68L42,74L44,73L46,79M0,77L1,74L2,66L3,66L4,65L6,65L8,74L10,75L12,79L14,81L16,82L18,83L20,77L22,79L24,76L26,73L28,79L30,87L32,78L34,84L36,84L38,77L40,78L42,79L44,79L46,76M0,85L1,79L2,67L3,65L4,65L6,68L8,67L10,68L12,67L14,75L16,62L18,63L20,74L22,72L24,62L26,64L28,59L30,60L32,64L34,73L36,73L38,74L40,77L42,75L44,69L46,69M0,96L1,88L2,88L3,87L4,88L6,94L8,94L10,92L12,86L14,83L16,87L18,85L20,88L22,84L24,87L26,88L28,93L30,90L32,88L34,90L36,90L38,97L40,93L42,89L44,88L46,91M0,121L1,100L2,84L3,80L4,79L6,67L8,70L10,66L12,72L14,80L16,83L18,74L20,81L22,83L24,79L26,81L28,86L30,81L32,80L34,77L36,82L38,72L40,81L42,76L44,81L46,74M0,140L1,121L2,119L3,112L4,111L6,108L8,115L10,110L12,109L14,116L16,113L18,114L20,108L22,109L24,99L26,103L28,103L30,99L32,97L34,107L36,110L38,104L40,114L42,110L44,109L46,111M0,104L1,84L2,85L3,81L4,80L6,78L8,78L10,73L12,70L14,69L16,70L18,74L20,69L22,78L24,74L26,72L28,76L30,77L32,75L34,70L36,68L38,64L40,73L42,78L44,85L46,83M0,132L1,133L2,117L3,110L4,107L6,113L8,119L10,116L12,119L14,118L16,119L18,116L20,116L22,117L24,122L26,130L28,118L30,121L32,121L34,125L36,128L38,128L40,129L42,122L44,115L46,125M0,75L1,70L2,61L3,64L4,59L6,55L8,50L10,52L12,59L14,56L16,49L18,62L20,68L22,67L24,61L26,55L28,49L30,55L32,62L34,56L36,56L38,56L40,55L42,58L44,67L46,60M0,90L1,94L2,90L3,87L4,89L6,86L8,84L10,86L12,94L14,93L16,95L18,88L20,82L22,94L24,92L26,86L28,89L30,94L32,87L34,86L36,91L38,89L40,95L42,100L44,100L46,97M0,78L1,80L2,88L3,80L4,79L6,80L8,81L10,77L12,74L14,79L16,80L18,80L20,75L22,78L24,80L26,78L28,80L30,88L32,75L34,78L36,73L38,69L40,71L42,76L44,77L46,72M0,108L1,112L2,104L3,102L4,99L6,97L8,99L10,99L12,103L14,98L16,94L18,106L20,105L22,108L24,112L26,112L28,109L30,101L32,96L34,105L36,108L38,110L40,102L42,95L44,96L46,96M0,141L1,131L2,124L3,115L4,118L6,123L8,114L10,113L12,109L14,103L16,111L18,115L20,120L22,120L24,110L26,112L28,111L30,109L32,107L34,115L36,115L38,125L40,124L42,114L44,120L46,125M0,146L1,121L2,110L3,102L4,109L6,113L8,110L10,104L12,106L14,109L16,102L18,100L20,103L22,109L24,109L26,111L28,105L30,96L32,102L34,101L36,104L38,104L40,108L42,105L44,112L46,111M0,70L1,61L2,67L3,65L4,65L6,64L8,59L10,56L12,54L14,61L16,62L18,69L20,67L22,72L24,69L26,60L28,68L30,66L32,69L34,67L36,63L38,63L40,57L42,54L44,53L46,54M0,111L1,92L2,85L3,77L4,75L6,72L8,69L10,70L12,64L14,69L16,69L18,66L20,67L22,72L24,70L26,74L28,76L30,83L32,75L34,75L36,78L38,84L40,82L42,84L44,75L46,74M0,149L1,125L2,122L3,119L4,125L6,121L8,117L10,110L12,112L14,118L16,120L18,124L20,125L22,122L24,123L26,122L28,115L30,124L32,124L34,118L36,120L38,122L40,126L42,130L44,114L46,120M0,119L1,104L2,90L3,85L4,85L6,88L8,96L10,93L12,88L14,77L16,86L18,86L20,86L22,83L24,88L26,81L28,85L30,87L32,90L34,96L36,93L38,93L40,96L42,88L44,88L46,90M0,68L1,57L2,51L3,54L4,57L6,61L8,64L10,60L12,65L14,67L16,66L18,66L20,59L22,62L24,57L26,54L28,56L30,59L32,60L34,60L36,57L38,61L40,59L42,55L44,59L46,68M0,98L1,81L2,74L3,82L4,75L6,74L8,72L10,61L12,58L14,55L16,61L18,64L20,73L22,69L24,69L26,69L28,69L30,79L32,76L34,79L36,81L38,73L40,75L42,71L44,71L46,71M0,147L1,139L2,131L3,129L4,129L6,127L8,130L10,118L12,125L14,121L16,111L18,110L20,106L22,110L24,106L26,106L28,111L30,114L32,112L34,113L36,114L38,115L40,116L42,116L44,120L46,112M0,104L1,100L2,103L3,99L4,96L6,97L8,95L10,87L12,92L14,92L16,91L18,96L20,97L22,94L24,86L26,83L28,89L30,92L32,97L34,98L36,97L38,92L40,90L42,93L44,91L46,98M0,139L1,117L2,109L3,103L4,98L6,90L8,85L10,95L12,101L14,110L16,99L18,102L20,101L22,104L24,100L26,103L28,106L30,106L32,110L34,105L36,110L38,103L40,109L42,93L44,96L46,94M0,75L1,60L2,54L3,61L4,60L6,49L8,53L10,49L12,58L14,62L16,57L18,62L20,56L22,60L24,61L26,58L28,51L30,52L32,43L34,46L36,42L38,53L40,50L42,42L44,50L46,54M0,65L1,47L2,52L3,57L4,53L6,47L8,50L10,44L12,48L14,54L16,61L18,59L20,58L22,60L24,64L26,58L28,51L30,49L32,45L34,45L36,48L38,51L40,53L42,53L44,52L46,54M0,142L1,136L2,128L3,124L4,118L6,121L8,117L10,112L12,113L14,112L16,118L18,116L20,117L22,116L24,118L26,115L28,121L30,114L32,114L34,113L36,118L38,119L40,121L42,119L44,116L46,113M0,75L1,69L2,63L3,58L4,60L6,63L8,72L10,69L12,75L14,78L16,68L18,72L20,74L22,76L24,71L26,72L28,67L30,66L32,65L34,73L36,69L38,71L40,69L42,64L44,66L46,68M0,116L1,105L2,96L3,88L4,90L6,93L8,92L10,94L12,88L14,94L16,97L18,98L20,95L22,97L24,98L26,103L28,103L30,103L32,99L34,103L36,107L38,103L40,105L42,105L44,104L46,98M0,120L1,113L2,111L3,112L4,112L6,108L8,111L10,112L12,115L14,111L16,110L18,109L20,106L22,109L24,112L26,118L28,114L30,115L32,119L34,116L36,115L38,115L40,111L42,108L44,115L46,116M0,85L1,73L2,76L3,79L4,81L6,73L8,74L10,68L12,71L14,68L16,69L18,75L20,74L22,71L24,70L26,71L28,68L30,69L32,71L34,77L36,65L38,61L40,59L42,66L44,78L46,75M0,110L1,99L2,90L3,85L4,87L6,83L8,88L10,87L12,88L14,98L16,91L18,93L20,86L22,91L24,93L26,90L28,92L30,96L32,98L34,92L36,89L38,92L40,83L42,81L44,84L46,87M0,66L1,64L2,65L3,63L4,64L6,67L8,62L10,61L12,55L14,65L16,61L18,56L20,64L22,64L24,70L26,68L28,77L30,77L32,75L34,73L36,71L38,74L40,82L42,76L44,69L46,73" fill="none" stroke="#4a4a4a" stroke-width="0.34" stroke-linejoin="round" vector-effect="non-scaling-stroke" opacity="1.0"/>
<path transform="translate(23.30,195.3) scale(2.03542,-0.22950)" d="M34,103L35,121L36,128L37,122L38,140L39,161L40,172L41,161L42,163L43,155L44,142L45,156L46,167M0,98L1,92L2,88L3,77L4,81L5,88L6,83L7,81L8,83L9,77L10,78L11,77L12,79L13,87L14,91L15,87L16,87L17,93L18,95L19,95L20,88L21,94L22,88L23,100L24,97L25,99L26,108L27,109L28,107L29,107L30,108L31,106L32,110L33,119L34,109L35,111L36,116L37,120L38,121L39,115L40,119L41,120L42,117L43,122L44,121L45,127L46,126" fill="none" stroke="#36b44a" stroke-width="0.34" stroke-linejoin="round" vector-effect="non-scaling-stroke" opacity="1.0"/>
<path transform="translate(23.30,195.3) scale(2.03542,-0.22950)" d="M24,60L26,36L28,45L30,40L32,42L34,43L36,37L38,34L40,41L42,42L44,40L46,34M24,60L26,34L28,35L30,32L32,31L34,37L36,42L38,31L40,19L42,25L44,24L46,24M24,60L26,44L28,35L30,41L32,44L34,38L36,46L38,44L40,35L42,31L44,38L46,38" fill="none" stroke="#4a4a4a" stroke-width="0.3" stroke-linejoin="round" vector-effect="non-scaling-stroke" opacity="1.0"/>
<path d="M23.3,103.5 V195.3M20.1,195.3 H23.3M21.5,183.8 H23.3M21.5,172.4 H23.3M21.5,160.9 H23.3M20.1,149.4 H23.3M21.5,137.9 H23.3M21.5,126.5 H23.3M21.5,115.0 H23.3M20.1,103.5 H23.3M22.5,195.3 H121.0M23.3,195.3 V198.5M35.5,195.3 V197.1M47.7,195.3 V198.5M59.9,195.3 V197.1M72.2,195.3 V198.5M84.4,195.3 V197.1M96.6,195.3 V198.5M108.8,195.3 V197.1M121.0,195.3 V198.5" fill="none" stroke="#666" stroke-width="0.6"/>
<text x="18.3" y="198.1" font-size="7.8" fill="#111" text-anchor="end" >0</text>
<text x="18.3" y="152.2" font-size="7.8" fill="#111" text-anchor="end" >1</text>
<text x="18.3" y="106.3" font-size="7.8" fill="#111" text-anchor="end" >2</text>
<text x="23.3" y="207.4" font-size="7.8" fill="#111" text-anchor="middle" >0</text>
<text x="47.7" y="207.4" font-size="7.8" fill="#111" text-anchor="middle" >6</text>
<text x="72.2" y="207.4" font-size="7.8" fill="#111" text-anchor="middle" >12</text>
<text x="96.6" y="207.4" font-size="7.8" fill="#111" text-anchor="middle" >18</text>
<text x="121.0" y="207.4" font-size="7.8" fill="#111" text-anchor="middle" >24</text>
<text x="72.4" y="95.6" font-size="7.8" fill="#111" text-anchor="middle" >Mock</text>
<path d="M32.9,108.8 H41.9" stroke="#36b44a" stroke-width="0.9"/>
<path d="M32.9,118.4 H41.9" stroke="#4a4a4a" stroke-width="0.9"/>
<text x="46.5" y="111.1" font-size="7.8" fill="#111" text-anchor="start" >Cell cycle entry</text>
<text x="46.5" y="120.9" font-size="7.8" fill="#111" text-anchor="start" >Remain quiescent</text>
<text transform="translate(7.0,149.3) rotate(-90)" font-size="7.8" fill="#111" text-anchor="middle">CDK2 activity</text>
<path transform="translate(155.90,195.3) scale(2.03542,-0.22950)" d="M0,85L1,81L2,76L3,75L4,76L6,84L8,75L10,79L12,84L14,76L16,78L18,88L20,89L22,73L24,76L26,71L28,77L30,77L32,78L34,78L36,83L38,83L40,81L42,83L44,88L46,85M0,111L1,102L2,96L3,91L4,102L6,103L8,97L10,97L12,94L14,104L16,105L18,96L20,100L22,106L24,106L26,108L28,107L30,108L32,109L34,106L36,109L38,111L40,111L42,109L44,106L46,110M0,103L1,86L2,86L3,76L4,71L6,80L8,75L10,74L12,67L14,66L16,64L18,68L20,63L22,73L24,73L26,71L28,71L30,76L32,83L34,79L36,85L38,89L40,91L42,87L44,77L46,81M0,115L1,96L2,91L3,94L4,91L6,85L8,95L10,83L12,81L14,86L16,85L18,77L20,84L22,91L24,89L26,97L28,99L30,103L32,94L34,96L36,104L38,111L40,112L42,108L44,107L46,103M0,119L1,113L2,103L3,98L4,85L6,86L8,97L10,88L12,79L14,83L16,83L18,85L20,82L22,80L24,79L26,86L28,88L30,92L32,87L34,91L36,89L38,90L40,94L42,93L44,90L46,83M0,83L1,76L2,79L3,85L4,82L6,74L8,75L10,70L12,73L14,84L16,84L18,81L20,85L22,81L24,82L26,82L28,83L30,75L32,80L34,83L36,72L38,63L40,65L42,77L44,78L46,81M0,101L1,96L2,94L3,91L4,86L6,90L8,89L10,92L12,78L14,85L16,74L18,79L20,78L22,80L24,80L26,80L28,82L30,84L32,80L34,70L36,72L38,78L40,76L42,81L44,80L46,77M0,91L1,82L2,78L3,85L4,87L6,83L8,79L10,81L12,75L14,75L16,76L18,67L20,75L22,80L24,84L26,76L28,71L30,71L32,68L34,81L36,75L38,75L40,76L42,79L44,84L46,76M0,95L1,94L2,84L3,86L4,89L6,81L8,76L10,78L12,73L14,79L16,80L18,76L20,74L22,78L24,72L26,81L28,76L30,76L32,72L34,81L36,83L38,86L40,85L42,82L44,87L46,86M0,75L1,62L2,71L3,61L4,52L6,53L8,65L10,69L12,63L14,64L16,63L18,54L20,55L22,59L24,65L26,58L28,50L30,47L32,54L34,57L36,59L38,61L40,59L42,54L44,59L46,61M0,118L1,113L2,98L3,95L4,93L6,94L8,107L10,99L12,96L14,93L16,95L18,98L20,94L22,102L24,106L26,106L28,104L30,102L32,96L34,102L36,99L38,100L40,108L42,104L44,104L46,110M0,122L1,113L2,101L3,104L4,110L6,106L8,106L10,99L12,109L14,108L16,102L18,107L20,101L22,102L24,96L26,108L28,120L30,114L32,112L34,111L36,111L38,116L40,123L42,118L44,121L46,113M0,104L1,96L2,91L3,91L4,80L6,78L8,79L10,77L12,84L14,79L16,83L18,88L20,76L22,74L24,73L26,75L28,80L30,81L32,83L34,82L36,83L38,87L40,90L42,86L44,86L46,84M0,85L1,73L2,67L3,63L4,57L6,67L8,81L10,70L12,64L14,69L16,71L18,64L20,58L22,65L24,59L26,70L28,69L30,71L32,72L34,70L36,71L38,72L40,79L42,77L44,77L46,75M0,108L1,92L2,90L3,87L4,82L6,77L8,71L10,74L12,74L14,68L16,67L18,80L20,81L22,84L24,84L26,82L28,85L30,90L32,87L34,89L36,93L38,89L40,90L42,87L44,92L46,90M0,127L1,110L2,108L3,100L4,108L6,110L8,109L10,100L12,101L14,98L16,92L18,99L20,111L22,106L24,109L26,114L28,107L30,105L32,107L34,110L36,104L38,107L40,107L42,113L44,105L46,105M0,125L1,109L2,107L3,106L4,106L6,100L8,95L10,94L12,97L14,97L16,99L18,100L20,95L22,91L24,99L26,96L28,89L30,100L32,94L34,91L36,97L38,92L40,89L42,97L44,93L46,105M0,64L1,62L2,60L3,61L4,65L6,58L8,55L10,48L12,60L14,60L16,60L18,60L20,65L22,64L24,67L26,63L28,61L30,60L32,52L34,60L36,53L38,51L40,57L42,58L44,62L46,68M0,103L1,87L2,84L3,77L4,73L6,70L8,76L10,62L12,71L14,75L16,73L18,74L20,68L22,73L24,85L26,75L28,79L30,75L32,71L34,68L36,67L38,62L40,59L42,70L44,69L46,71M0,119L1,107L2,91L3,85L4,79L6,83L8,100L10,107L12,81L14,83L16,83L18,80L20,82L22,80L24,85L26,87L28,82L30,85L32,84L34,80L36,77L38,72L40,71L42,77L44,84L46,81M0,103L1,100L2,97L3,91L4,91L6,92L8,86L10,95L12,91L14,85L16,87L18,89L20,95L22,99L24,94L26,90L28,89L30,89L32,85L34,88L36,95L38,98L40,94L42,88L44,93L46,99M0,103L1,85L2,73L3,70L4,73L6,72L8,73L10,69L12,66L14,72L16,70L18,72L20,67L22,62L24,64L26,66L28,52L30,54L32,60L34,61L36,58L38,61L40,65L42,71L44,61L46,63M0,117L1,110L2,107L3,106L4,99L6,92L8,94L10,95L12,94L14,88L16,95L18,99L20,104L22,104L24,102L26,97L28,97L30,95L32,97L34,96L36,104L38,103L40,106L42,105L44,104L46,96M0,128L1,116L2,106L3,101L4,103L6,101L8,109L10,94L12,91L14,103L16,103L18,93L20,85L22,85L24,84L26,82L28,87L30,91L32,90L34,94L36,95L38,102L40,96L42,99L44,101L46,106M0,107L1,98L2,88L3,91L4,84L6,74L8,73L10,76L12,83L14,81L16,80L18,84L20,79L22,86L24,88L26,83L28,85L30,84L32,82L34,87L36,87L38,93L40,93L42,86L44,90L46,95M0,113L1,98L2,97L3,95L4,104L6,100L8,91L10,91L12,100L14,97L16,97L18,101L20,106L22,109L24,105L26,99L28,98L30,103L32,97L34,101L36,110L38,104L40,109L42,106L44,104L46,109M0,88L1,75L2,67L3,75L4,75L6,70L8,72L10,78L12,74L14,74L16,77L18,73L20,68L22,74L24,74L26,75L28,72L30,77L32,81L34,80L36,79L38,75L40,74L42,71L44,75L46,78M0,89L1,74L2,74L3,79L4,74L6,72L8,77L10,78L12,74L14,71L16,72L18,75L20,78L22,83L24,79L26,83L28,85L30,84L32,88L34,87L36,89L38,86L40,83L42,84L44,94L46,95M0,114L1,103L2,96L3,96L4,89L6,84L8,91L10,87L12,84L14,93L16,97L18,98L20,97L22,92L24,96L26,96L28,93L30,96L32,99L34,98L36,102L38,103L40,97L42,100L44,98L46,106M0,85L1,77L2,74L3,69L4,72L6,67L8,65L10,72L12,69L14,68L16,79L18,82L20,77L22,78L24,73L26,70L28,70L30,76L32,79L34,75L36,67L38,77L40,75L42,81L44,84L46,88M0,90L1,79L2,80L3,75L4,76L6,76L8,79L10,90L12,83L14,76L16,73L18,77L20,80L22,84L24,79L26,76L28,79L30,88L32,91L34,93L36,93L38,95L40,90L42,94L44,95L46,97M0,95L1,83L2,79L3,71L4,73L6,78L8,80L10,75L12,76L14,74L16,65L18,76L20,81L22,76L24,84L26,89L28,98L30,96L32,100L34,94L36,91L38,100L40,100L42,104L44,99L46,97M0,113L1,102L2,101L3,107L4,102L6,100L8,98L10,100L12,106L14,107L16,107L18,107L20,105L22,108L24,116L26,108L28,117L30,104L32,99L34,106L36,107L38,119L40,119L42,111L44,113L46,116M0,124L1,111L2,92L3,91L4,86L6,86L8,90L10,89L12,89L14,81L16,85L18,95L20,91L22,94L24,96L26,106L28,98L30,101L32,98L34,98L36,98L38,91L40,97L42,95L44,98L46,103M0,105L1,100L2,85L3,82L4,80L6,75L8,75L10,72L12,74L14,74L16,74L18,81L20,75L22,77L24,74L26,74L28,75L30,76L32,78L34,75L36,79L38,73L40,70L42,70L44,79L46,84M0,122L1,104L2,93L3,83L4,87L6,91L8,87L10,93L12,96L14,98L16,100L18,95L20,98L22,100L24,96L26,96L28,91L30,95L32,92L34,97L36,99L38,99L40,103L42,101L44,109L46,108M0,98L1,91L2,83L3,83L4,75L6,70L8,69L10,71L12,68L14,66L16,73L18,79L20,78L22,76L24,82L26,74L28,79L30,81L32,84L34,85L36,89L38,90L40,88L42,91L44,85L46,87M0,81L1,74L2,75L3,75L4,74L6,57L8,61L10,65L12,66L14,63L16,69L18,67L20,68L22,70L24,75L26,72L28,67L30,71L32,72L34,64L36,65L38,69L40,63L42,73L44,68L46,75M0,88L1,82L2,86L3,86L4,94L6,81L8,88L10,87L12,80L14,75L16,76L18,80L20,79L22,88L24,86L26,82L28,79L30,76L32,79L34,80L36,78L38,82L40,80L42,80L44,86L46,90M0,97L1,83L2,78L3,73L4,73L6,72L8,71L10,67L12,70L14,74L16,68L18,69L20,74L22,113L24,113L26,81L28,73L30,75L32,74L34,84L36,75L38,78L40,77L42,70L44,69L46,65M0,109L1,97L2,83L3,80L4,87L6,79L8,79L10,84L12,80L14,80L16,70L18,76L20,75L22,81L24,79L26,77L28,79L30,77L32,75L34,83L36,85L38,82L40,84L42,85L44,84L46,82M0,72L1,68L2,68L3,62L4,62L6,66L8,66L10,64L12,64L14,62L16,67L18,64L20,57L22,55L24,60L26,63L28,61L30,57L32,60L34,58L36,58L38,61L40,59L42,63L44,61L46,60M0,93L1,79L2,76L3,74L4,63L6,63L8,61L10,67L12,70L14,67L16,77L18,72L20,82L22,76L24,74L26,81L28,75L30,72L32,78L34,76L36,77L38,71L40,80L42,82L44,81L46,82M0,114L1,102L2,96L3,92L4,83L6,76L8,81L10,83L12,87L14,85L16,81L18,85L20,83L22,78L24,79L26,79L28,79L30,81L32,89L34,100L36,104L38,98L40,101L42,98L44,98L46,95M0,134L1,115L2,108L3,99L4,97L6,100L8,102L10,93L12,99L14,94L16,98L18,101L20,98L22,98L24,98L26,101L28,105L30,110L32,108L34,114L36,106L38,112L40,108L42,109L44,107L46,106M0,95L1,79L2,74L3,67L4,64L6,63L8,67L10,69L12,61L14,58L16,60L18,64L20,67L22,64L24,72L26,67L28,71L30,73L32,75L34,71L36,69L38,60L40,53L42,54L44,60L46,65M0,90L1,76L2,68L3,64L4,73L6,67L8,65L10,66L12,72L14,71L16,75L18,77L20,73L22,64L24,65L26,64L28,77L30,74L32,71L34,76L36,78L38,75L40,82L42,86L44,85L46,81M0,70L1,68L2,81L3,70L4,61L6,65L8,63L10,62L12,67L14,66L16,70L18,71L20,74L22,72L24,60L26,69L28,61L30,68L32,69L34,62L36,65L38,70L40,65L42,66L44,64L46,61M0,111L1,107L2,105L3,105L4,96L6,103L8,100L10,91L12,100L14,98L16,101L18,104L20,104L22,109L24,109L26,109L28,107L30,109L32,107L34,111L36,119L38,123L40,123L42,116L44,122L46,126M0,101L1,92L2,90L3,100L4,101L6,89L8,91L10,98L12,94L14,97L16,97L18,90L20,90L22,98L24,103L26,99L28,104L30,99L32,100L34,100L36,95L38,99L40,99L42,89L44,91L46,93M0,130L1,112L2,103L3,96L4,93L6,91L8,86L10,83L12,87L14,94L16,96L18,103L20,94L22,94L24,93L26,101L28,108L30,103L32,105L34,103L36,98L38,100L40,97L42,107L44,109L46,113M0,64L1,63L2,66L3,72L4,64L6,67L8,68L10,66L12,65L14,68L16,71L18,73L20,70L22,65L24,73L26,78L28,74L30,74L32,78L34,70L36,74L38,86L40,84L42,79L44,88L46,85M0,117L1,99L2,99L3,95L4,99L6,88L8,88L10,97L12,93L14,87L16,88L18,91L20,94L22,102L24,107L26,111L28,110L30,105L32,102L34,97L36,106L38,111L40,110L42,105L44,109L46,111M0,106L1,103L2,101L3,96L4,102L6,102L8,105L10,106L12,105L14,104L16,98L18,91L20,91L22,97L24,103L26,104L28,104L30,112L32,107L34,99L36,95L38,98L40,105L42,109L44,108L46,112M0,91L1,79L2,72L3,73L4,83L6,75L8,70L10,74L12,78L14,75L16,76L18,80L20,72L22,75L24,80L26,85L28,89L30,86L32,79L34,86L36,89L38,85L40,89L42,93L44,90L46,79M0,90L1,88L2,93L3,84L4,88L6,84L8,87L10,87L12,93L14,88L16,92L18,89L20,91L22,92L24,98L26,90L28,87L30,97L32,99L34,106L36,100L38,101L40,104L42,111L44,108L46,105M0,86L1,76L2,81L3,76L4,74L6,75L8,79L10,79L12,73L14,70L16,76L18,74L20,71L22,75L24,79L26,85L28,75L30,70L32,68L34,70L36,68L38,74L40,61L42,68L44,66L46,66M0,108L1,90L2,84L3,74L4,68L6,68L8,72L10,73L12,70L14,65L16,61L18,73L20,75L22,71L24,77L26,77L28,74L30,71L32,77L34,76L36,82L38,80L40,74L42,71L44,69L46,71M0,112L1,99L2,98L3,90L4,89L6,86L8,86L10,88L12,97L14,95L16,88L18,89L20,95L22,97L24,97L26,105L28,106L30,102L32,105L34,95L36,95L38,92L40,94L42,102L44,98L46,104M0,121L1,103L2,95L3,90L4,88L6,86L8,81L10,82L12,85L14,82L16,87L18,95L20,86L22,85L24,86L26,89L28,90L30,88L32,90L34,92L36,92L38,100L40,99L42,92L44,87L46,94" fill="none" stroke="#4a4a4a" stroke-width="0.34" stroke-linejoin="round" vector-effect="non-scaling-stroke" opacity="1.0"/>
<path transform="translate(155.90,195.3) scale(2.03542,-0.22950)" d="M0,106L1,93L2,82L3,79L4,79L5,75L6,73L7,75L8,67L9,68L10,66L11,65L12,76L13,79L14,85L15,92L16,102L17,137L18,125L19,128L20,142L21,114L22,133L23,147L24,140L25,139L26,133L27,156L28,146L29,131L30,128L31,127L32,139L33,146L34,165L35,140L36,151L37,151L38,156L39,150L40,149L41,161L42,179L43,155L44,166L45,154L46,168M0,103L1,100L2,99L3,95L4,100L5,93L6,87L7,92L8,84L9,86L10,91L11,92L12,94L13,93L14,92L15,85L16,94L17,93L18,104L19,115L20,135L21,139L22,144L23,163L24,172L25,165L26,162L27,165L28,157L29,147L30,146L31,137L32,177L33,166L34,179L35,153L36,155L37,187L38,184L39,162L40,163L41,146L42,131L43,170L44,170L45,178L46,198M0,101L1,92L2,82L3,63L4,74L5,73L6,71L7,78L8,64L9,65L10,62L11,66L12,72L13,72L14,75L15,82L16,96L17,110L18,123L19,131L20,122L21,133L22,121L23,132L24,135L25,149L26,174L27,177L28,189L29,186L30,179L31,193L32,194L33,179L34,187L35,192L36,204L37,214L38,205L39,220L40,193L41,227L42,210L43,222L44,245L45,237L46,215M0,101L1,85L2,70L3,64L4,58L5,62L6,58L7,56L8,66L9,63L10,64L11,48L12,51L13,55L14,57L15,57L16,55L17,48L18,55L19,53L20,55L21,62L22,73L23,68L24,87L25,63L26,75L27,70L28,79L29,95L30,111L31,118L32,118L33,129L34,112L35,120L36,114L37,102L38,111L39,126L40,135L41,155L42,139L43,120L44,126L45,154L46,126M0,97L1,82L2,69L3,67L4,69L5,72L6,64L7,61L8,66L9,53L10,66L11,57L12,58L13,65L14,67L15,74L16,77L17,56L18,75L19,95L20,126L21,114L22,106L23,110L24,96L25,107L26,114L27,108L28,106L29,153L30,166L31,158L32,171L33,175L34,137L35,154L36,156L37,182L38,173L39,171L40,171L41,169L42,137L43,168L44,152L45,173L46,186M0,95L1,82L2,72L3,69L4,66L5,62L6,66L7,75L8,65L9,62L10,55L11,56L12,47L13,32L14,40L15,42L16,43L17,46L18,53L19,62L20,68L21,79L22,88L23,131L24,137L25,137L26,150L27,155L28,150L29,161L30,133L31,126L32,132L33,164L34,168L35,154L36,147L37,151L38,161L39,173L40,198L41,202L42,203L43,200L44,224L45,204L46,198M0,95L1,94L2,97L3,91L4,90L5,92L6,85L7,87L8,82L9,78L10,71L11,71L12,64L13,62L14,58L15,64L16,66L17,72L18,66L19,68L20,71L21,80L22,85L23,93L24,99L25,127L26,155L27,132L28,134L29,142L30,142L31,144L32,162L33,146L34,145L35,166L36,166L37,163L38,153L39,182L40,178L41,166L42,184L43,195L44,198L45,205L46,195M0,122L1,96L2,94L3,91L4,89L5,86L6,89L7,84L8,81L9,71L10,77L11,80L12,80L13,90L14,90L15,83L16,80L17,81L18,83L19,88L20,93L21,98L22,102L23,126L24,150L25,140L26,138L27,133L28,108L29,136L30,128L31,141L32,143L33,127L34,147L35,152L36,167L37,186L38,170L39,181L40,184L41,155L42,155L43,147L44,144L45,176L46,196M0,80L1,70L2,72L3,71L4,76L5,70L6,76L7,72L8,78L9,79L10,82L11,91L12,75L13,71L14,66L15,68L16,65L17,60L18,59L19,76L20,79L21,91L22,100L23,114L24,101L25,114L26,132L27,141L28,154L29,151L30,153L31,142L32,161L33,169L34,183L35,159L36,182L37,183L38,167L39,156L40,151L41,142L42,159L43,183L44,188L45,192L46,197M0,112L1,103L2,100L3,108L4,103L5,98L6,93L7,95L8,90L9,92L10,84L11,80L12,78L13,80L14,92L15,84L16,83L17,91L18,92L19,90L20,98L21,120L22,133L23,125L24,109L25,87L26,91L27,115L28,127L29,123L30,112L31,111L32,121L33,133L34,158L35,139L36,171L37,197L38,165L39,161L40,178L41,185L42,188L43,197L44,197L45,213L46,195M0,126L1,110L2,93L3,80L4,69L5,70L6,58L7,57L8,61L9,72L10,89L11,101L12,104L13,101L14,118L15,132L16,153L17,151L18,122L19,147L20,167L21,195L22,214L23,218L24,216L25,208L26,214L27,180L28,206L29,192L30,226L31,222L32,203L33,208L34,226L35,215L36,222L37,224L38,227L39,247L40,266L41,246L42,240L43,291L44,288L45,284L46,277M0,99L1,86L2,84L3,85L4,80L5,73L6,72L7,73L8,74L9,64L10,65L11,65L12,67L13,71L14,70L15,71L16,70L17,69L18,67L19,68L20,74L21,73L22,67L23,64L24,68L25,65L26,66L27,71L28,70L29,75L30,89L31,95L32,114L33,136L34,145L35,126L36,158L37,153L38,170L39,162L40,181L41,176L42,198L43,176L44,191L45,188L46,205M0,126L1,116L2,111L3,112L4,101L5,108L6,104L7,105L8,103L9,103L10,97L11,91L12,92L13,102L14,97L15,92L16,87L17,85L18,95L19,98L20,92L21,111L22,105L23,123L24,146L25,155L26,158L27,142L28,130L29,146L30,146L31,156L32,169L33,179L34,136L35,140L36,173L37,162L38,187L39,170L40,175L41,173L42,199L43,185L44,165L45,154L46,145M0,103L1,101L2,94L3,89L4,87L5,89L6,86L7,84L8,80L9,82L10,86L11,92L12,100L13,110L14,114L15,126L16,145L17,154L18,149L19,155L20,161L21,188L22,201L23,194L24,197L25,168L26,187L27,183L28,206L29,198L30,216L31,249L32,254L33,239L34,234L35,236L36,249L37,275L38,259L39,245L40,263L41,254L42,255L43,281L44,283L45,289L46,300M0,70L1,62L2,73L3,69L4,55L5,55L6,63L7,62L8,55L9,53L10,49L11,50L12,47L13,46L14,46L15,44L16,43L17,39L18,39L19,30L20,34L21,46L22,39L23,57L24,73L25,77L26,84L27,92L28,133L29,119L30,142L31,145L32,162L33,147L34,171L35,155L36,153L37,170L38,185L39,171L40,155L41,165L42,182L43,194L44,196L45,205L46,215M0,80L1,72L2,69L3,76L4,73L5,68L6,68L7,63L8,69L9,76L10,79L11,84L12,77L13,71L14,70L15,72L16,73L17,63L18,63L19,68L20,67L21,68L22,60L23,54L24,61L25,66L26,78L27,79L28,85L29,86L30,97L31,115L32,111L33,111L34,127L35,112L36,128L37,125L38,153L39,156L40,162L41,178L42,177L43,146L44,149L45,164L46,179M0,104L1,90L2,78L3,84L4,76L5,75L6,71L7,69L8,62L9,63L10,70L11,73L12,69L13,77L14,67L15,60L16,61L17,61L18,67L19,75L20,76L21,81L22,83L23,92L24,75L25,89L26,75L27,81L28,95L29,93L30,95L31,97L32,92L33,109L34,115L35,116L36,129L37,128L38,124L39,158L40,170L41,164L42,166L43,163L44,171L45,165L46,188M0,101L1,96L2,97L3,96L4,91L5,101L6,97L7,102L8,109L9,110L10,101L11,96L12,100L13,103L14,112L15,120L16,139L17,127L18,150L19,122L20,115L21,146L22,160L23,136L24,139L25,145L26,169L27,147L28,163L29,156L30,155L31,151L32,178L33,196L34,191L35,164L36,162L37,159L38,179L39,157L40,168L41,188L42,195L43,191L44,209L45,203L46,209M0,119L1,113L2,116L3,109L4,112L5,113L6,103L7,103L8,101L9,112L10,108L11,106L12,109L13,98L14,97L15,107L16,112L17,102L18,111L19,113L20,110L21,117L22,111L23,104L24,111L25,104L26,116L27,112L28,102L29,99L30,105L31,107L32,106L33,112L34,120L35,137L36,157L37,135L38,137L39,126L40,121L41,137L42,149L43,158L44,132L45,163L46,177M0,115L1,100L2,86L3,83L4,75L5,59L6,63L7,64L8,70L9,79L10,88L11,98L12,114L13,128L14,126L15,156L16,154L17,167L18,191L19,182L20,200L21,222L22,228L23,225L24,202L25,201L26,194L27,210L28,223L29,223L30,208L31,222L32,234L33,233L34,236L35,253L36,255L37,273L38,288L39,293L40,298L41,289L42,268L43,223L44,223L45,224L46,226M0,110L1,85L2,77L3,70L4,76L5,72L6,60L7,60L8,65L9,68L10,67L11,57L12,57L13,57L14,54L15,57L16,64L17,67L18,65L19,75L20,62L21,58L22,72L23,98L24,109L25,121L26,143L27,116L28,133L29,146L30,170L31,149L32,194L33,178L34,171L35,174L36,172L37,188L38,194L39,189L40,164L41,172L42,179L43,186L44,183L45,189L46,194M0,108L1,103L2,110L3,107L4,105L5,105L6,101L7,105L8,97L9,96L10,95L11,92L12,89L13,86L14,81L15,85L16,92L17,94L18,103L19,94L20,88L21,88L22,87L23,95L24,88L25,83L26,84L27,92L28,99L29,103L30,112L31,115L32,125L33,153L34,160L35,182L36,167L37,179L38,201L39,186L40,183L41,176L42,193L43,190L44,174L45,166L46,184M0,77L1,90L2,82L3,72L4,67L5,55L6,62L7,68L8,71L9,67L10,71L11,63L12,62L13,64L14,66L15,60L16,67L17,78L18,85L19,74L20,100L21,95L22,111L23,130L24,142L25,143L26,140L27,151L28,146L29,151L30,147L31,141L32,151L33,179L34,177L35,180L36,193L37,171L38,184L39,177L40,180L41,205L42,224L43,245L44,221L45,200L46,211M0,116L1,112L2,99L3,99L4,96L5,96L6,97L7,94L8,93L9,93L10,95L11,101L12,95L13,91L14,104L15,102L16,101L17,92L18,98L19,104L20,105L21,93L22,105L23,115L24,126L25,147L26,163L27,141L28,146L29,155L30,169L31,175L32,200L33,189L34,175L35,174L36,169L37,160L38,166L39,170L40,149L41,153L42,151L43,177L44,182L45,179L46,176M0,116L1,105L2,103L3,95L4,101L5,100L6,94L7,95L8,91L9,92L10,87L11,96L12,98L13,92L14,93L15,90L16,82L17,83L18,86L19,83L20,99L21,121L22,127L23,130L24,138L25,154L26,150L27,155L28,183L29,175L30,185L31,175L32,187L33,189L34,217L35,220L36,215L37,215L38,239L39,250L40,244L41,223L42,228L43,249L44,251L45,230L46,241M0,90L1,74L2,59L3,63L4,64L5,62L6,57L7,65L8,54L9,51L10,53L11,55L12,57L13,49L14,54L15,59L16,55L17,59L18,56L19,55L20,55L21,63L22,71L23,88L24,107L25,117L26,125L27,105L28,106L29,117L30,120L31,116L32,108L33,129L34,140L35,102L36,153L37,159L38,158L39,171L40,173L41,190L42,173L43,181L44,185L45,153L46,185M0,101L1,96L2,81L3,91L4,86L5,91L6,91L7,82L8,84L9,82L10,84L11,83L12,85L13,86L14,89L15,92L16,87L17,95L18,96L19,108L20,128L21,145L22,162L23,158L24,175L25,141L26,120L27,142L28,173L29,178L30,163L31,148L32,162L33,174L34,160L35,167L36,173L37,172L38,148L39,150L40,166L41,205L42,227L43,218L44,204L45,214L46,209M0,86L1,72L2,68L3,75L4,70L5,67L6,69L7,65L8,64L9,66L10,65L11,63L12,61L13,58L14,64L15,81L16,76L17,66L18,76L19,80L20,75L21,70L22,68L23,70L24,64L25,66L26,56L27,54L28,53L29,55L30,59L31,73L32,83L33,101L34,132L35,135L36,146L37,146L38,152L39,148L40,149L41,161L42,186L43,188L44,186L45,184L46,169M0,89L1,87L2,91L3,81L4,82L5,76L6,68L7,71L8,76L9,79L10,84L11,83L12,70L13,76L14,82L15,79L16,76L17,85L18,92L19,90L20,106L21,133L22,145L23,145L24,96L25,118L26,135L27,149L28,155L29,145L30,154L31,158L32,164L33,180L34,184L35,178L36,167L37,148L38,186L39,185L40,204L41,207L42,207L43,213L44,212L45,234L46,220M0,105L1,91L2,79L3,72L4,70L5,61L6,54L7,46L8,46L9,43L10,44L11,41L12,34L13,45L14,49L15,55L16,61L17,50L18,54L19,48L20,38L21,37L22,38L23,51L24,50L25,50L26,64L27,78L28,89L29,119L30,115L31,106L32,90L33,92L34,99L35,111L36,124L37,161L38,178L39,174L40,181L41,175L42,178L43,182L44,217L45,197L46,184M0,106L1,93L2,87L3,80L4,85L5,82L6,79L7,72L8,79L9,75L10,68L11,76L12,75L13,71L14,75L15,70L16,69L17,74L18,74L19,84L20,94L21,106L22,104L23,99L24,107L25,108L26,125L27,135L28,147L29,157L30,147L31,151L32,163L33,187L34,191L35,191L36,220L37,206L38,222L39,224L40,199L41,199L42,211L43,192L44,216L45,206L46,212M0,116L1,94L2,89L3,83L4,77L5,69L6,67L7,66L8,62L9,56L10,54L11,52L12,62L13,67L14,64L15,60L16,61L17,65L18,62L19,62L20,69L21,66L22,64L23,71L24,69L25,68L26,62L27,75L28,87L29,96L30,105L31,129L32,135L33,139L34,147L35,155L36,175L37,173L38,171L39,168L40,180L41,169L42,174L43,164L44,179L45,190L46,198M0,119L1,112L2,112L3,103L4,92L5,92L6,85L7,85L8,86L9,94L10,90L11,88L12,86L13,97L14,93L15,95L16,88L17,85L18,99L19,90L20,91L21,92L22,93L23,95L24,91L25,97L26,95L27,91L28,92L29,90L30,88L31,90L32,84L33,92L34,103L35,99L36,118L37,127L38,132L39,137L40,126L41,123L42,147L43,155L44,181L45,212L46,200M0,86L1,95L2,93L3,98L4,94L5,89L6,90L7,93L8,78L9,76L10,80L11,86L12,84L13,80L14,82L15,80L16,67L17,62L18,70L19,69L20,76L21,82L22,70L23,74L24,68L25,83L26,83L27,94L28,98L29,104L30,112L31,106L32,115L33,168L34,164L35,150L36,184L37,191L38,186L39,187L40,164L41,162L42,154L43,187L44,203L45,202L46,185M0,121L1,107L2,103L3,96L4,93L5,89L6,99L7,90L8,91L9,86L10,84L11,90L12,90L13,89L14,79L15,80L16,93L17,96L18,80L19,94L20,100L21,99L22,110L23,109L24,140L25,168L26,186L27,169L28,178L29,198L30,184L31,187L32,176L33,186L34,212L35,209L36,241L37,229L38,236L39,253L40,230L41,241L42,215L43,210L44,209L45,235L46,217M0,140L1,113L2,102L3,101L4,87L5,75L6,88L7,80L8,86L9,87L10,81L11,78L12,82L13,79L14,85L15,89L16,100L17,121L18,128L19,121L20,122L21,122L22,154L23,165L24,153L25,145L26,150L27,154L28,184L29,169L30,156L31,153L32,150L33,168L34,168L35,160L36,159L37,149L38,152L39,155L40,182L41,163L42,183L43,179L44,162L45,191L46,190M0,126L1,110L2,92L3,95L4,97L5,89L6,94L7,90L8,82L9,85L10,84L11,81L12,84L13,80L14,80L15,82L16,85L17,86L18,73L19,74L20,82L21,86L22,85L23,95L24,90L25,108L26,112L27,116L28,96L29,92L30,104L31,114L32,116L33,116L34,140L35,129L36,140L37,153L38,156L39,155L40,136L41,164L42,181L43,161L44,149L45,139L46,126M0,116L1,105L2,93L3,82L4,81L5,79L6,81L7,78L8,72L9,67L10,67L11,60L12,59L13,66L14,71L15,73L16,84L17,95L18,100L19,110L20,127L21,120L22,154L23,171L24,150L25,142L26,159L27,168L28,185L29,189L30,186L31,178L32,187L33,195L34,185L35,184L36,189L37,186L38,176L39,191L40,175L41,184L42,181L43,190L44,215L45,246L46,246M0,104L1,98L2,90L3,82L4,83L5,77L6,88L7,84L8,80L9,84L10,89L11,97L12,112L13,109L14,123L15,123L16,118L17,133L18,144L19,154L20,170L21,163L22,188L23,215L24,190L25,187L26,193L27,180L28,195L29,200L30,203L31,216L32,213L33,210L34,224L35,228L36,238L37,253L38,233L39,239L40,256L41,253L42,250L43,254L44,258L45,257L46,247M0,104L1,92L2,82L3,71L4,61L5,51L6,55L7,61L8,66L9,72L10,61L11,63L12,58L13,49L14,51L15,50L16,55L17,60L18,60L19,67L20,73L21,67L22,69L23,73L24,68L25,63L26,62L27,59L28,62L29,66L30,62L31,69L32,73L33,94L34,102L35,123L36,128L37,109L38,100L39,108L40,94L41,117L42,113L43,144L44,125L45,108L46,127M0,97L1,97L2,93L3,92L4,94L5,89L6,97L7,94L8,89L9,90L10,83L11,87L12,94L13,84L14,85L15,87L16,83L17,78L18,76L19,72L20,80L21,76L22,81L23,80L24,92L25,96L26,104L27,113L28,111L29,108L30,126L31,125L32,114L33,125L34,144L35,143L36,165L37,150L38,124L39,123L40,155L41,146L42,152L43,160L44,171L45,196L46,210M0,121L1,91L2,82L3,86L4,80L5,88L6,90L7,88L8,85L9,80L10,76L11,76L12,69L13,77L14,86L15,90L16,86L17,92L18,86L19,74L20,76L21,83L22,78L23,82L24,83L25,79L26,74L27,77L28,82L29,87L30,101L31,118L32,133L33,143L34,177L35,183L36,186L37,171L38,160L39,150L40,143L41,146L42,150L43,134L44,154L45,158L46,162M0,109L1,106L2,106L3,98L4,96L5,100L6,99L7,97L8,98L9,87L10,87L11,92L12,94L13,94L14,84L15,84L16,76L17,79L18,88L19,92L20,102L21,111L22,116L23,118L24,128L25,132L26,182L27,190L28,167L29,177L30,169L31,167L32,164L33,181L34,180L35,158L36,165L37,165L38,145L39,168L40,184L41,202L42,169L43,150L44,189L45,199L46,187M0,96L1,81L2,75L3,71L4,59L5,51L6,49L7,54L8,53L9,49L10,41L11,44L12,57L13,51L14,63L15,49L16,58L17,72L18,75L19,79L20,99L21,88L22,89L23,80L24,117L25,134L26,160L27,169L28,178L29,178L30,185L31,170L32,169L33,159L34,188L35,174L36,179L37,201L38,213L39,224L40,225L41,231L42,224L43,216L44,214L45,208L46,192M0,146L1,134L2,114L3,109L4,115L5,118L6,111L7,103L8,99L9,103L10,97L11,104L12,97L13,102L14,104L15,103L16,115L17,107L18,123L19,144L20,151L21,164L22,184L23,190L24,188L25,190L26,208L27,212L28,232L29,215L30,220L31,240L32,222L33,241L34,242L35,259L36,250L37,254L38,237L39,257L40,258L41,264L42,258L43,280L44,283L45,299L46,284M0,105L1,100L2,100L3,94L4,90L5,93L6,98L7,103L8,113L9,104L10,99L11,97L12,102L13,101L14,96L15,101L16,100L17,98L18,106L19,110L20,105L21,106L22,103L23,101L24,98L25,99L26,97L27,100L28,105L29,104L30,96L31,106L32,113L33,129L34,142L35,147L36,171L37,156L38,160L39,172L40,173L41,173L42,158L43,183L44,164L45,130L46,137M0,102L1,91L2,82L3,84L4,81L5,83L6,78L7,71L8,84L9,87L10,96L11,104L12,106L13,121L14,92L15,102L16,124L17,136L18,127L19,122L20,118L21,138L22,159L23,141L24,140L25,146L26,135L27,164L28,152L29,164L30,164L31,165L32,157L33,148L34,170L35,185L36,194L37,185L38,176L39,180L40,173L41,178L42,169L43,207L44,190L45,149L46,161M0,124L1,115L2,121L3,107L4,115L5,107L6,104L7,93L8,93L9,93L10,88L11,86L12,89L13,99L14,108L15,102L16,97L17,96L18,106L19,101L20,101L21,111L22,108L23,103L24,108L25,113L26,114L27,141L28,140L29,139L30,134L31,140L32,150L33,178L34,161L35,154L36,154L37,165L38,169L39,166L40,180L41,174L42,171L43,155L44,149L45,157L46,173M0,132L1,120L2,116L3,111L4,100L5,99L6,99L7,104L8,91L9,80L10,86L11,90L12,94L13,96L14,95L15,96L16,96L17,91L18,93L19,92L20,95L21,98L22,85L23,80L24,77L25,78L26,71L27,101L28,98L29,107L30,101L31,113L32,130L33,154L34,162L35,140L36,157L37,156L38,156L39,148L40,128L41,136L42,130L43,135L44,164L45,165L46,173M0,108L1,106L2,108L3,96L4,99L5,93L6,85L7,89L8,84L9,75L10,77L11,84L12,91L13,83L14,91L15,89L16,88L17,83L18,80L19,77L20,79L21,78L22,71L23,72L24,72L25,81L26,82L27,88L28,90L29,76L30,74L31,79L32,72L33,77L34,73L35,75L36,90L37,100L38,102L39,106L40,109L41,93L42,125L43,136L44,157L45,191L46,186M0,120L1,119L2,113L3,122L4,117L5,115L6,112L7,104L8,101L9,96L10,90L11,95L12,100L13,114L14,135L15,136L16,144L17,151L18,133L19,151L20,123L21,128L22,164L23,168L24,172L25,192L26,205L27,208L28,205L29,192L30,202L31,220L32,232L33,214L34,225L35,231L36,230L37,252L38,229L39,234L40,239L41,226L42,189L43,212L44,211L45,232L46,224M0,114L1,98L2,85L3,83L4,83L5,79L6,77L7,75L8,67L9,59L10,61L11,65L12,67L13,67L14,66L15,70L16,65L17,76L18,71L19,66L20,69L21,73L22,84L23,83L24,96L25,123L26,128L27,110L28,120L29,112L30,128L31,111L32,145L33,173L34,174L35,172L36,175L37,151L38,153L39,169L40,204L41,205L42,229L43,221L44,239L45,234L46,227M0,100L1,96L2,93L3,97L4,86L5,90L6,87L7,81L8,79L9,78L10,73L11,71L12,75L13,84L14,92L15,99L16,92L17,101L18,108L19,113L20,121L21,112L22,112L23,145L24,156L25,143L26,164L27,208L28,217L29,204L30,244L31,214L32,208L33,218L34,218L35,235L36,238L37,242L38,238L39,232L40,221L41,216L42,219L43,214L44,211L45,221L46,255M0,117L1,92L2,90L3,88L4,76L5,78L6,75L7,77L8,77L9,72L10,67L11,64L12,72L13,74L14,81L15,76L16,77L17,78L18,81L19,89L20,80L21,75L22,88L23,98L24,111L25,110L26,102L27,98L28,104L29,113L30,129L31,135L32,123L33,148L34,172L35,173L36,177L37,182L38,192L39,185L40,176L41,194L42,178L43,185L44,170L45,167L46,174M0,119L1,116L2,112L3,104L4,102L5,101L6,93L7,92L8,93L9,96L10,93L11,91L12,94L13,84L14,84L15,88L16,86L17,87L18,95L19,99L20,94L21,92L22,93L23,101L24,102L25,97L26,93L27,91L28,86L29,89L30,88L31,99L32,112L33,124L34,142L35,159L36,177L37,196L38,180L39,176L40,200L41,192L42,201L43,202L44,233L45,210L46,197M0,87L1,89L2,82L3,85L4,82L5,85L6,83L7,72L8,71L9,71L10,72L11,72L12,70L13,75L14,70L15,75L16,79L17,78L18,73L19,80L20,92L21,108L22,127L23,129L24,122L25,142L26,146L27,171L28,180L29,174L30,191L31,170L32,198L33,196L34,222L35,210L36,208L37,222L38,218L39,219L40,232L41,226L42,210L43,214L44,228L45,223L46,223M0,98L1,98L2,89L3,94L4,89L5,101L6,108L7,108L8,99L9,118L10,140L11,149L12,166L13,167L14,202L15,190L16,189L17,217L18,223L19,216L20,199L21,223L22,197L23,195L24,194L25,215L26,231L27,246L28,256L29,249L30,272L31,254L32,247L33,248L34,262L35,265L36,284L37,251L38,270L39,270L40,287L41,280L42,260L43,290L44,298L45,276L46,278M0,88L1,86L2,79L3,78L4,76L5,74L6,73L7,71L8,70L9,64L10,66L11,64L12,65L13,74L14,62L15,69L16,59L17,67L18,67L19,63L20,64L21,73L22,75L23,81L24,95L25,69L26,67L27,79L28,92L29,80L30,113L31,132L32,143L33,120L34,111L35,112L36,140L37,179L38,160L39,147L40,145L41,137L42,126L43,129L44,122L45,120L46,150M0,79L1,81L2,66L3,74L4,66L5,65L6,60L7,65L8,67L9,60L10,56L11,58L12,61L13,65L14,68L15,69L16,72L17,71L18,67L19,65L20,65L21,68L22,70L23,70L24,80L25,70L26,91L27,110L28,111L29,137L30,127L31,135L32,174L33,171L34,169L35,168L36,165L37,158L38,142L39,153L40,143L41,124L42,146L43,148L44,161L45,166L46,177M0,109L1,105L2,105L3,107L4,105L5,102L6,100L7,90L8,91L9,96L10,96L11,90L12,95L13,95L14,88L15,99L16,108L17,112L18,115L19,137L20,138L21,130L22,134L23,133L24,152L25,155L26,153L27,181L28,190L29,160L30,179L31,200L32,192L33,201L34,220L35,213L36,229L37,224L38,236L39,223L40,234L41,257L42,270L43,265L44,256L45,259L46,266M0,118L1,110L2,109L3,99L4,92L5,91L6,94L7,96L8,93L9,84L10,86L11,87L12,84L13,76L14,70L15,80L16,80L17,82L18,85L19,94L20,90L21,84L22,88L23,97L24,99L25,103L26,119L27,111L28,113L29,119L30,91L31,88L32,95L33,79L34,111L35,104L36,127L37,136L38,127L39,126L40,135L41,146L42,163L43,146L44,146L45,166L46,171M0,110L1,91L2,84L3,73L4,83L5,96L6,87L7,88L8,81L9,74L10,65L11,59L12,68L13,72L14,69L15,67L16,75L17,77L18,80L19,80L20,81L21,94L22,79L23,81L24,74L25,74L26,67L27,77L28,82L29,92L30,103L31,105L32,122L33,121L34,119L35,130L36,166L37,170L38,137L39,148L40,147L41,130L42,148L43,164L44,163L45,154L46,170M0,102L1,88L2,88L3,85L4,80L5,70L6,69L7,58L8,56L9,49L10,53L11,55L12,62L13,60L14,62L15,54L16,62L17,65L18,71L19,73L20,67L21,69L22,66L23,65L24,77L25,83L26,92L27,93L28,107L29,96L30,110L31,101L32,136L33,139L34,126L35,141L36,138L37,143L38,143L39,177L40,193L41,157L42,159L43,153L44,147L45,175L46,161M0,85L1,81L2,81L3,70L4,74L5,74L6,84L7,83L8,83L9,87L10,91L11,94L12,90L13,115L14,120L15,110L16,147L17,142L18,140L19,144L20,147L21,168L22,200L23,172L24,184L25,191L26,209L27,210L28,234L29,216L30,208L31,203L32,215L33,223L34,245L35,238L36,242L37,228L38,241L39,254L40,249L41,217L42,247L43,244L44,231L45,229L46,242M0,109L1,95L2,85L3,75L4,72L5,77L6,80L7,80L8,73L9,67L10,78L11,85L12,97L13,99L14,91L15,92L16,92L17,112L18,113L19,101L20,94L21,113L22,133L23,146L24,144L25,153L26,131L27,135L28,126L29,133L30,135L31,132L32,152L33,157L34,180L35,179L36,174L37,163L38,158L39,173L40,178L41,206L42,208L43,194L44,180L45,178L46,199M0,152L1,134L2,121L3,113L4,107L5,104L6,102L7,109L8,111L9,102L10,100L11,108L12,104L13,104L14,110L15,103L16,106L17,102L18,105L19,102L20,105L21,107L22,114L23,105L24,108L25,108L26,99L27,106L28,114L29,118L30,109L31,101L32,111L33,116L34,119L35,112L36,130L37,99L38,101L39,120L40,101L41,128L42,132L43,139L44,143L45,149L46,146M0,89L1,95L2,89L3,86L4,80L5,90L6,86L7,87L8,73L9,77L10,77L11,72L12,73L13,72L14,78L15,79L16,76L17,74L18,83L19,84L20,82L21,81L22,81L23,83L24,89L25,104L26,104L27,101L28,94L29,102L30,105L31,110L32,119L33,126L34,141L35,139L36,136L37,140L38,136L39,149L40,140L41,131L42,166L43,139L44,135L45,155L46,158M0,114L1,111L2,117L3,110L4,108L5,107L6,106L7,114L8,117L9,117L10,115L11,111L12,108L13,109L14,106L15,110L16,107L17,100L18,98L19,104L20,107L21,106L22,97L23,98L24,92L25,99L26,113L27,121L28,130L29,138L30,140L31,137L32,143L33,171L34,203L35,181L36,167L37,160L38,159L39,173L40,177L41,177L42,191L43,184L44,182L45,199L46,197M0,140L1,131L2,120L3,121L4,122L5,118L6,110L7,103L8,104L9,108L10,102L11,95L12,95L13,87L14,87L15,95L16,91L17,91L18,96L19,104L20,114L21,132L22,135L23,131L24,139L25,165L26,173L27,173L28,175L29,194L30,235L31,218L32,230L33,221L34,220L35,221L36,226L37,231L38,259L39,242L40,211L41,232L42,223L43,214L44,222L45,213L46,220M0,109L1,87L2,81L3,72L4,74L5,83L6,90L7,81L8,77L9,77L10,84L11,87L12,83L13,92L14,106L15,112L16,114L17,143L18,152L19,149L20,162L21,162L22,174L23,193L24,172L25,201L26,197L27,208L28,221L29,219L30,219L31,214L32,223L33,229L34,238L35,231L36,227L37,238L38,226L39,232L40,239L41,225L42,227L43,224L44,229L45,223L46,242M0,124L1,110L2,106L3,98L4,94L5,94L6,97L7,99L8,98L9,98L10,94L11,85L12,79L13,77L14,81L15,74L16,83L17,85L18,87L19,90L20,89L21,81L22,93L23,96L24,103L25,114L26,96L27,117L28,108L29,115L30,129L31,119L32,165L33,154L34,156L35,135L36,153L37,168L38,166L39,151L40,175L41,158L42,161L43,174L44,173L45,171L46,164M0,120L1,105L2,88L3,81L4,77L5,85L6,79L7,78L8,77L9,85L10,84L11,85L12,80L13,81L14,86L15,88L16,79L17,81L18,83L19,84L20,91L21,87L22,89L23,103L24,117L25,122L26,132L27,140L28,141L29,133L30,147L31,160L32,163L33,191L34,181L35,151L36,170L37,192L38,170L39,167L40,150L41,134L42,144L43,122L44,115L45,145L46,180M0,123L1,107L2,102L3,89L4,91L5,86L6,80L7,72L8,81L9,77L10,83L11,77L12,76L13,78L14,66L15,85L16,91L17,98L18,105L19,121L20,132L21,131L22,140L23,138L24,127L25,172L26,187L27,198L28,190L29,213L30,225L31,225L32,215L33,245L34,222L35,235L36,259L37,250L38,218L39,193L40,199L41,199L42,204L43,195L44,211L45,242L46,230M0,93L1,92L2,88L3,92L4,91L5,92L6,83L7,80L8,76L9,85L10,91L11,95L12,89L13,89L14,88L15,94L16,113L17,116L18,126L19,124L20,125L21,131L22,107L23,113L24,123L25,148L26,131L27,135L28,128L29,153L30,146L31,186L32,183L33,171L34,158L35,172L36,155L37,154L38,153L39,161L40,185L41,188L42,181L43,193L44,192L45,200L46,209M0,138L1,117L2,112L3,103L4,97L5,92L6,91L7,87L8,80L9,86L10,87L11,86L12,88L13,91L14,92L15,84L16,83L17,76L18,81L19,89L20,94L21,92L22,88L23,86L24,88L25,85L26,79L27,85L28,88L29,95L30,92L31,92L32,97L33,99L34,99L35,89L36,99L37,102L38,110L39,99L40,95L41,95L42,115L43,133L44,144L45,150L46,143M0,116L1,107L2,102L3,103L4,102L5,100L6,99L7,106L8,103L9,106L10,94L11,94L12,94L13,96L14,91L15,87L16,95L17,90L18,90L19,92L20,94L21,91L22,81L23,88L24,90L25,87L26,88L27,83L28,86L29,88L30,92L31,93L32,100L33,111L34,124L35,133L36,120L37,107L38,144L39,154L40,106L41,116L42,144L43,124L44,145L45,140L46,138M0,130L1,128L2,112L3,106L4,99L5,102L6,104L7,114L8,106L9,107L10,105L11,103L12,109L13,115L14,108L15,122L16,120L17,131L18,124L19,134L20,139L21,169L22,155L23,174L24,169L25,175L26,179L27,153L28,154L29,142L30,161L31,181L32,193L33,169L34,157L35,155L36,166L37,177L38,182L39,182L40,184L41,201L42,191L43,171L44,200L45,174L46,179M0,88L1,95L2,93L3,88L4,93L5,88L6,88L7,87L8,87L9,81L10,84L11,80L12,74L13,78L14,81L15,74L16,77L17,73L18,75L19,80L20,83L21,75L22,69L23,66L24,64L25,70L26,81L27,73L28,72L29,72L30,77L31,81L32,78L33,77L34,73L35,79L36,85L37,94L38,109L39,103L40,124L41,106L42,134L43,155L44,179L45,151L46,166M0,110L1,82L2,75L3,59L4,58L5,63L6,70L7,61L8,65L9,60L10,49L11,59L12,60L13,63L14,65L15,67L16,61L17,64L18,62L19,62L20,58L21,64L22,69L23,73L24,89L25,93L26,118L27,115L28,118L29,123L30,146L31,153L32,160L33,148L34,169L35,186L36,167L37,166L38,183L39,196L40,175L41,170L42,183L43,185L44,196L45,189L46,184M0,91L1,92L2,90L3,86L4,84L5,88L6,92L7,74L8,70L9,58L10,59L11,61L12,60L13,67L14,70L15,73L16,66L17,67L18,72L19,73L20,68L21,70L22,102L23,97L24,97L25,108L26,127L27,130L28,120L29,118L30,125L31,125L32,133L33,121L34,127L35,121L36,114L37,118L38,136L39,138L40,141L41,141L42,141L43,139L44,136L45,109L46,124M0,97L1,90L2,84L3,83L4,83L5,82L6,78L7,78L8,70L9,61L10,59L11,50L12,50L13,54L14,63L15,64L16,60L17,63L18,63L19,69L20,79L21,77L22,92L23,73L24,78L25,94L26,103L27,96L28,72L29,63L30,63L31,81L32,118L33,111L34,133L35,121L36,123L37,129L38,160L39,156L40,122L41,118L42,134L43,133L44,147L45,144L46,149M0,125L1,121L2,111L3,108L4,112L5,114L6,106L7,106L8,100L9,88L10,89L11,83L12,84L13,89L14,86L15,87L16,83L17,81L18,88L19,102L20,106L21,122L22,132L23,136L24,133L25,153L26,156L27,158L28,174L29,192L30,178L31,197L32,206L33,225L34,242L35,243L36,229L37,250L38,258L39,245L40,238L41,242L42,260L43,263L44,289L45,265L46,281M0,89L1,86L2,84L3,82L4,73L5,77L6,81L7,74L8,75L9,77L10,77L11,78L12,70L13,67L14,70L15,73L16,77L17,71L18,67L19,65L20,64L21,73L22,79L23,71L24,91L25,104L26,118L27,129L28,140L29,140L30,132L31,156L32,161L33,161L34,160L35,146L36,152L37,175L38,178L39,167L40,175L41,164L42,194L43,175L44,197L45,235L46,243M0,122L1,116L2,108L3,108L4,106L5,108L6,108L7,106L8,110L9,112L10,107L11,110L12,105L13,103L14,107L15,113L16,121L17,147L18,155L19,170L20,177L21,162L22,186L23,198L24,211L25,219L26,230L27,233L28,215L29,231L30,239L31,239L32,224L33,240L34,256L35,287L36,282L37,290L38,293L39,287L40,281L41,277L42,286L43,303L44,310L45,281L46,281M0,91L1,86L2,81L3,74L4,78L5,85L6,84L7,82L8,82L9,77L10,78L11,84L12,84L13,79L14,80L15,84L16,84L17,87L18,85L19,82L20,78L21,84L22,94L23,109L24,124L25,122L26,105L27,105L28,137L29,109L30,114L31,131L32,152L33,142L34,151L35,148L36,153L37,148L38,158L39,165L40,157L41,171L42,153L43,132L44,128L45,150L46,147M0,79L1,68L2,67L3,66L4,68L5,71L6,67L7,59L8,62L9,56L10,55L11,51L12,55L13,64L14,56L15,55L16,60L17,61L18,72L19,71L20,71L21,72L22,68L23,64L24,62L25,66L26,83L27,89L28,99L29,117L30,128L31,129L32,140L33,137L34,139L35,126L36,136L37,165L38,173L39,159L40,147L41,153L42,144L43,158L44,166L45,190L46,177M0,110L1,106L2,105L3,105L4,118L5,117L6,115L7,117L8,122L9,125L10,110L11,108L12,107L13,112L14,111L15,116L16,111L17,104L18,101L19,100L20,103L21,104L22,108L23,114L24,121L25,115L26,113L27,123L28,112L29,112L30,106L31,107L32,118L33,120L34,122L35,149L36,147L37,173L38,184L39,199L40,180L41,225L42,207L43,191L44,199L45,197L46,198M0,84L1,80L2,79L3,84L4,79L5,75L6,72L7,75L8,77L9,78L10,76L11,70L12,70L13,71L14,68L15,71L16,77L17,74L18,69L19,70L20,73L21,69L22,74L23,74L24,70L25,66L26,74L27,74L28,74L29,84L30,79L31,75L32,77L33,72L34,73L35,75L36,64L37,65L38,62L39,71L40,74L41,83L42,99L43,118L44,150L45,155L46,139M0,85L1,77L2,76L3,79L4,71L5,69L6,72L7,70L8,65L9,67L10,65L11,68L12,64L13,70L14,71L15,75L16,62L17,62L18,60L19,63L20,77L21,86L22,92L23,102L24,93L25,103L26,97L27,126L28,126L29,126L30,147L31,152L32,137L33,130L34,139L35,157L36,154L37,142L38,138L39,143L40,139L41,135L42,168L43,168L44,182L45,139L46,169M0,103L1,85L2,76L3,75L4,71L5,73L6,80L7,85L8,88L9,90L10,81L11,78L12,83L13,80L14,73L15,69L16,65L17,74L18,75L19,76L20,73L21,87L22,82L23,84L24,80L25,105L26,120L27,127L28,163L29,157L30,179L31,161L32,161L33,144L34,138L35,159L36,155L37,163L38,167L39,176L40,180L41,162L42,159L43,153L44,143L45,159L46,143M0,95L1,93L2,96L3,96L4,96L5,95L6,91L7,83L8,77L9,87L10,87L11,82L12,84L13,88L14,95L15,111L16,119L17,126L18,130L19,135L20,135L21,162L22,171L23,183L24,196L25,209L26,204L27,224L28,239L29,200L30,186L31,202L32,226L33,225L34,207L35,193L36,190L37,189L38,165L39,193L40,190L41,172L42,172L43,170L44,157L45,157L46,189M0,140L1,132L2,118L3,109L4,102L5,101L6,101L7,101L8,103L9,102L10,101L11,101L12,84L13,85L14,80L15,88L16,100L17,93L18,101L19,100L20,104L21,99L22,101L23,109L24,125L25,137L26,114L27,115L28,114L29,108L30,127L31,111L32,110L33,94L34,102L35,107L36,129L37,154L38,163L39,165L40,169L41,165L42,172L43,171L44,203L45,202L46,193M0,88L1,85L2,78L3,73L4,76L5,81L6,87L7,78L8,70L9,64L10,64L11,60L12,61L13,58L14,53L15,68L16,69L17,71L18,73L19,87L20,88L21,85L22,86L23,106L24,112L25,142L26,151L27,146L28,140L29,133L30,130L31,127L32,139L33,152L34,149L35,172L36,155L37,142L38,145L39,143L40,144L41,181L42,207L43,227L44,205L45,206L46,200M0,68L1,74L2,72L3,70L4,73L5,72L6,74L7,80L8,86L9,79L10,70L11,79L12,83L13,79L14,74L15,75L16,68L17,72L18,70L19,68L20,67L21,63L22,70L23,77L24,79L25,91L26,89L27,102L28,84L29,111L30,106L31,105L32,120L33,124L34,134L35,131L36,146L37,146L38,144L39,129L40,135L41,153L42,172L43,174L44,192L45,197L46,212M0,81L1,76L2,67L3,73L4,73L5,73L6,75L7,70L8,71L9,73L10,71L11,57L12,54L13,69L14,72L15,78L16,82L17,96L18,101L19,131L20,140L21,143L22,139L23,134L24,154L25,145L26,139L27,134L28,146L29,174L30,170L31,166L32,168L33,157L34,176L35,181L36,199L37,205L38,201L39,183L40,190L41,199L42,192L43,183L44,180L45,173L46,169M0,104L1,90L2,87L3,83L4,88L5,81L6,80L7,71L8,77L9,85L10,82L11,84L12,80L13,83L14,83L15,74L16,76L17,76L18,66L19,71L20,70L21,78L22,80L23,76L24,85L25,89L26,83L27,83L28,74L29,71L30,73L31,83L32,90L33,89L34,90L35,111L36,137L37,134L38,140L39,164L40,183L41,190L42,185L43,223L44,194L45,205L46,225M0,91L1,84L2,79L3,77L4,70L5,73L6,73L7,72L8,69L9,67L10,69L11,68L12,65L13,59L14,63L15,76L16,87L17,100L18,109L19,122L20,123L21,98L22,106L23,124L24,135L25,151L26,164L27,154L28,182L29,200L30,222L31,238L32,263L33,257L34,276L35,276L36,273L37,282L38,265L39,230L40,244L41,244L42,247L43,238L44,255L45,273L46,276M0,125L1,114L2,107L3,98L4,93L5,93L6,97L7,96L8,99L9,98L10,99L11,99L12,94L13,82L14,78L15,81L16,77L17,83L18,80L19,84L20,95L21,115L22,124L23,125L24,134L25,153L26,143L27,178L28,173L29,173L30,151L31,172L32,197L33,192L34,183L35,190L36,192L37,196L38,218L39,213L40,186L41,166L42,199L43,204L44,210L45,196L46,201M0,127L1,112L2,110L3,111L4,107L5,93L6,94L7,93L8,89L9,78L10,69L11,66L12,68L13,74L14,72L15,76L16,84L17,92L18,94L19,112L20,116L21,120L22,97L23,108L24,103L25,95L26,84L27,71L28,113L29,132L30,151L31,180L32,173L33,195L34,189L35,186L36,177L37,173L38,178L39,203L40,195L41,189L42,192L43,190L44,222L45,228L46,253M0,116L1,112L2,103L3,100L4,102L5,89L6,92L7,95L8,88L9,91L10,90L11,92L12,93L13,93L14,83L15,80L16,81L17,90L18,84L19,82L20,88L21,100L22,107L23,112L24,129L25,138L26,156L27,153L28,149L29,140L30,166L31,168L32,178L33,185L34,210L35,201L36,188L37,197L38,191L39,203L40,191L41,202L42,217L43,202L44,191L45,228L46,222M0,96L1,92L2,92L3,89L4,90L5,95L6,91L7,85L8,90L9,98L10,95L11,97L12,83L13,76L14,76L15,77L16,83L17,82L18,104L19,115L20,116L21,136L22,117L23,120L24,122L25,127L26,145L27,134L28,155L29,167L30,173L31,186L32,178L33,156L34,170L35,184L36,205L37,197L38,204L39,220L40,215L41,217L42,211L43,205L44,220L45,235L46,235M0,74L1,73L2,71L3,70L4,70L5,64L6,67L7,79L8,97L9,114L10,127L11,142L12,158L13,157L14,158L15,164L16,157L17,134L18,145L19,165L20,161L21,175L22,183L23,168L24,149L25,133L26,159L27,176L28,179L29,145L30,142L31,151L32,146L33,138L34,159L35,158L36,165L37,181L38,177L39,180L40,183L41,209L42,200L43,203L44,207L45,218L46,196M0,100L1,93L2,90L3,80L4,76L5,82L6,80L7,79L8,82L9,78L10,70L11,67L12,65L13,65L14,68L15,75L16,68L17,72L18,76L19,71L20,70L21,68L22,67L23,68L24,69L25,72L26,69L27,70L28,78L29,83L30,88L31,97L32,87L33,111L34,85L35,87L36,83L37,83L38,74L39,104L40,107L41,119L42,130L43,160L44,165L45,164L46,146M0,106L1,106L2,98L3,91L4,95L5,97L6,92L7,81L8,86L9,86L10,81L11,79L12,76L13,72L14,82L15,75L16,85L17,74L18,77L19,82L20,85L21,83L22,95L23,109L24,110L25,91L26,106L27,103L28,121L29,146L30,169L31,167L32,145L33,142L34,119L35,126L36,128L37,120L38,108L39,109L40,126L41,131L42,133L43,146L44,172L45,177L46,173M0,93L1,94L2,86L3,81L4,92L5,90L6,91L7,95L8,87L9,83L10,79L11,78L12,87L13,101L14,117L15,118L16,113L17,97L18,111L19,145L20,161L21,147L22,172L23,175L24,181L25,174L26,148L27,186L28,172L29,185L30,167L31,162L32,145L33,172L34,178L35,174L36,175L37,178L38,204L39,212L40,223L41,224L42,242L43,203L44,210L45,220L46,210M0,112L1,111L2,109L3,105L4,100L5,98L6,97L7,98L8,88L9,87L10,96L11,96L12,98L13,94L14,85L15,87L16,87L17,92L18,101L19,100L20,90L21,106L22,119L23,133L24,159L25,180L26,165L27,167L28,142L29,156L30,148L31,155L32,159L33,160L34,152L35,186L36,183L37,164L38,178L39,165L40,163L41,182L42,186L43,188L44,213L45,225L46,207M0,93L1,95L2,90L3,92L4,92L5,94L6,88L7,84L8,83L9,81L10,78L11,74L12,79L13,77L14,85L15,92L16,98L17,117L18,121L19,119L20,118L21,114L22,126L23,149L24,148L25,145L26,166L27,177L28,178L29,188L30,180L31,186L32,188L33,218L34,218L35,213L36,180L37,168L38,154L39,151L40,176L41,203L42,207L43,225L44,234L45,244L46,217M0,98L1,86L2,75L3,69L4,70L5,70L6,55L7,64L8,56L9,59L10,53L11,57L12,58L13,59L14,60L15,62L16,63L17,65L18,64L19,64L20,59L21,48L22,50L23,61L24,66L25,68L26,71L27,90L28,75L29,107L30,123L31,96L32,86L33,91L34,97L35,92L36,75L37,86L38,97L39,91L40,92L41,84L42,118L43,112L44,113L45,109L46,93M0,125L1,122L2,114L3,111L4,108L5,106L6,105L7,112L8,114L9,112L10,112L11,103L12,101L13,104L14,104L15,95L16,102L17,105L18,98L19,98L20,103L21,112L22,103L23,107L24,117L25,120L26,122L27,120L28,124L29,144L30,154L31,137L32,138L33,174L34,132L35,137L36,133L37,125L38,114L39,166L40,147L41,158L42,148L43,166L44,175L45,187L46,165M0,105L1,83L2,81L3,78L4,71L5,66L6,66L7,69L8,70L9,71L10,80L11,78L12,80L13,70L14,67L15,65L16,63L17,65L18,67L19,72L20,72L21,74L22,83L23,81L24,85L25,87L26,98L27,107L28,124L29,118L30,124L31,126L32,121L33,113L34,124L35,137L36,140L37,119L38,133L39,135L40,152L41,166L42,150L43,141L44,149L45,158L46,127M0,119L1,114L2,113L3,97L4,92L5,100L6,96L7,100L8,100L9,107L10,94L11,92L12,93L13,86L14,79L15,83L16,79L17,83L18,84L19,92L20,99L21,120L22,124L23,126L24,135L25,152L26,104L27,111L28,124L29,126L30,145L31,108L32,119L33,93L34,96L35,126L36,124L37,111L38,119L39,105L40,108L41,144L42,120L43,111L44,118L45,148L46,168M0,72L1,68L2,65L3,65L4,68L5,58L6,55L7,59L8,56L9,63L10,64L11,52L12,47L13,49L14,48L15,48L16,56L17,57L18,61L19,77L20,62L21,87L22,141L23,139L24,122L25,138L26,103L27,101L28,89L29,79L30,71L31,75L32,101L33,114L34,121L35,125L36,114L37,115L38,106L39,112L40,108L41,135L42,148L43,146L44,156L45,138L46,145M0,112L1,111L2,111L3,102L4,102L5,111L6,106L7,98L8,95L9,94L10,93L11,89L12,93L13,85L14,88L15,82L16,85L17,88L18,91L19,95L20,91L21,94L22,106L23,121L24,116L25,119L26,130L27,151L28,153L29,158L30,162L31,192L32,187L33,175L34,158L35,154L36,169L37,172L38,171L39,170L40,184L41,180L42,162L43,197L44,199L45,202L46,188M0,130L1,115L2,99L3,96L4,91L5,88L6,89L7,81L8,85L9,81L10,76L11,81L12,86L13,88L14,78L15,80L16,85L17,88L18,84L19,96L20,115L21,126L22,118L23,116L24,85L25,114L26,107L27,105L28,106L29,113L30,115L31,118L32,128L33,151L34,162L35,150L36,155L37,166L38,159L39,142L40,142L41,165L42,204L43,192L44,153L45,146L46,180M0,114L1,108L2,101L3,101L4,100L5,97L6,94L7,82L8,83L9,90L10,90L11,86L12,95L13,92L14,96L15,108L16,120L17,134L18,104L19,134L20,127L21,85L22,110L23,94L24,92L25,121L26,137L27,148L28,182L29,153L30,160L31,172L32,150L33,162L34,151L35,146L36,161L37,150L38,156L39,135L40,160L41,159L42,139L43,134L44,144L45,154L46,166M0,102L1,90L2,87L3,91L4,92L5,84L6,82L7,81L8,83L9,84L10,81L11,85L12,82L13,81L14,75L15,78L16,84L17,84L18,90L19,87L20,92L21,89L22,90L23,87L24,82L25,87L26,85L27,84L28,91L29,93L30,90L31,104L32,112L33,130L34,140L35,150L36,159L37,147L38,154L39,163L40,188L41,182L42,197L43,209L44,228L45,224L46,221M0,92L1,83L2,78L3,77L4,82L5,79L6,74L7,83L8,79L9,87L10,82L11,82L12,77L13,75L14,85L15,105L16,120L17,123L18,134L19,118L20,123L21,137L22,133L23,136L24,144L25,132L26,148L27,180L28,196L29,189L30,204L31,197L32,212L33,210L34,189L35,218L36,180L37,184L38,200L39,217L40,222L41,223L42,222L43,220L44,225L45,242L46,248M0,123L1,120L2,107L3,95L4,92L5,97L6,101L7,96L8,99L9,96L10,97L11,99L12,103L13,120L14,132L15,154L16,165L17,190L18,222L19,208L20,222L21,217L22,248L23,253L24,246L25,247L26,268L27,241L28,264L29,257L30,264L31,257L32,261L33,273L34,286L35,274L36,270L37,280L38,296L39,277L40,285L41,282L42,278L43,287L44,289L45,297L46,276M0,94L1,89L2,86L3,91L4,78L5,81L6,84L7,76L8,89L9,86L10,85L11,82L12,79L13,80L14,76L15,73L16,76L17,78L18,72L19,75L20,72L21,77L22,73L23,69L24,71L25,68L26,76L27,86L28,87L29,85L30,86L31,90L32,83L33,95L34,99L35,107L36,115L37,120L38,128L39,128L40,134L41,151L42,169L43,157L44,172L45,162L46,183M0,106L1,92L2,68L3,72L4,76L5,81L6,83L7,76L8,112L9,123L10,111L11,97L12,79L13,88L14,97L15,88L16,113L17,131L18,126L19,115L20,127L21,126L22,127L23,160L24,136L25,140L26,142L27,140L28,150L29,154L30,126L31,102L32,109L33,125L34,145L35,139L36,157L37,170L38,199L39,190L40,173L41,175L42,186L43,167L44,182L45,187L46,151M0,92L1,79L2,68L3,72L4,59L5,48L6,49L7,64L8,51L9,53L10,49L11,46L12,50L13,50L14,51L15,58L16,59L17,55L18,56L19,54L20,51L21,57L22,56L23,50L24,56L25,50L26,47L27,54L28,47L29,56L30,55L31,58L32,58L33,61L34,64L35,71L36,81L37,100L38,129L39,114L40,126L41,165L42,207L43,210L44,180L45,206L46,216M0,126L1,118L2,107L3,99L4,103L5,99L6,101L7,100L8,96L9,91L10,87L11,78L12,96L13,106L14,107L15,132L16,142L17,150L18,156L19,165L20,192L21,201L22,183L23,189L24,186L25,186L26,214L27,211L28,197L29,184L30,182L31,186L32,176L33,174L34,204L35,199L36,188L37,190L38,184L39,181L40,188L41,185L42,203L43,214L44,218L45,207L46,216M0,146L1,122L2,112L3,95L4,92L5,94L6,97L7,98L8,95L9,91L10,88L11,89L12,91L13,96L14,87L15,90L16,90L17,95L18,103L19,110L20,113L21,116L22,132L23,142L24,109L25,124L26,121L27,127L28,144L29,160L30,178L31,166L32,161L33,170L34,151L35,157L36,154L37,163L38,189L39,185L40,215L41,193L42,168L43,181L44,178L45,180L46,188M0,99L1,84L2,88L3,73L4,82L5,83L6,81L7,89L8,84L9,82L10,84L11,83L12,81L13,80L14,82L15,72L16,83L17,79L18,77L19,86L20,85L21,85L22,87L23,97L24,120L25,149L26,133L27,123L28,129L29,131L30,134L31,116L32,128L33,144L34,149L35,159L36,177L37,148L38,133L39,153L40,166L41,146L42,161L43,182L44,187L45,185L46,174M0,100L1,81L2,66L3,72L4,76L5,75L6,65L7,64L8,62L9,72L10,66L11,68L12,74L13,73L14,70L15,65L16,65L17,66L18,70L19,67L20,72L21,79L22,71L23,81L24,88L25,111L26,118L27,145L28,141L29,148L30,116L31,134L32,160L33,152L34,172L35,164L36,150L37,164L38,179L39,204L40,192L41,196L42,191L43,197L44,198L45,198L46,200M0,104L1,92L2,80L3,78L4,78L5,72L6,63L7,71L8,77L9,78L10,79L11,85L12,97L13,103L14,117L15,127L16,140L17,120L18,131L19,114L20,117L21,115L22,117L23,134L24,136L25,145L26,155L27,185L28,167L29,148L30,173L31,147L32,148L33,171L34,171L35,177L36,198L37,215L38,208L39,206L40,210L41,187L42,217L43,195L44,215L45,243L46,217M0,107L1,100L2,93L3,86L4,80L5,84L6,81L7,81L8,81L9,82L10,86L11,82L12,76L13,76L14,75L15,78L16,70L17,66L18,60L19,67L20,60L21,60L22,62L23,57L24,66L25,68L26,76L27,81L28,84L29,90L30,83L31,82L32,78L33,75L34,85L35,100L36,104L37,105L38,105L39,97L40,136L41,142L42,137L43,158L44,152L45,186L46,169M0,130L1,105L2,98L3,92L4,92L5,93L6,84L7,89L8,84L9,81L10,81L11,83L12,79L13,82L14,86L15,82L16,74L17,84L18,78L19,93L20,102L21,120L22,125L23,136L24,139L25,141L26,175L27,169L28,156L29,167L30,175L31,187L32,191L33,199L34,217L35,212L36,216L37,213L38,222L39,219L40,235L41,256L42,268L43,270L44,264L45,270L46,254M0,93L1,90L2,79L3,76L4,80L5,67L6,74L7,72L8,70L9,62L10,56L11,63L12,67L13,71L14,72L15,80L16,76L17,68L18,69L19,62L20,71L21,82L22,95L23,94L24,114L25,124L26,114L27,143L28,150L29,182L30,186L31,179L32,180L33,172L34,177L35,196L36,201L37,182L38,173L39,198L40,205L41,198L42,214L43,201L44,187L45,175L46,191M0,88L1,79L2,70L3,65L4,58L5,62L6,62L7,63L8,63L9,61L10,62L11,69L12,76L13,70L14,69L15,58L16,51L17,58L18,62L19,58L20,53L21,60L22,72L23,72L24,92L25,90L26,122L27,145L28,130L29,144L30,148L31,133L32,134L33,147L34,167L35,171L36,174L37,131L38,166L39,141L40,176L41,167L42,154L43,179L44,172L45,176L46,165M0,112L1,113L2,107L3,107L4,107L5,102L6,106L7,101L8,96L9,95L10,97L11,93L12,92L13,94L14,94L15,98L16,98L17,103L18,101L19,98L20,106L21,115L22,109L23,105L24,109L25,100L26,90L27,85L28,87L29,90L30,95L31,97L32,92L33,105L34,114L35,120L36,131L37,139L38,124L39,159L40,160L41,157L42,152L43,152L44,159L45,175L46,174M0,109L1,102L2,93L3,84L4,83L5,68L6,74L7,65L8,60L9,66L10,66L11,62L12,53L13,57L14,57L15,60L16,61L17,63L18,58L19,70L20,63L21,68L22,73L23,77L24,80L25,82L26,92L27,98L28,110L29,109L30,114L31,122L32,152L33,145L34,164L35,174L36,154L37,169L38,138L39,147L40,163L41,198L42,191L43,174L44,205L45,208L46,208M0,99L1,84L2,66L3,59L4,66L5,64L6,65L7,57L8,56L9,63L10,55L11,55L12,56L13,46L14,55L15,55L16,61L17,66L18,68L19,72L20,73L21,75L22,83L23,87L24,90L25,87L26,112L27,114L28,90L29,98L30,99L31,146L32,142L33,145L34,142L35,156L36,149L37,147L38,169L39,152L40,153L41,114L42,149L43,161L44,169L45,163L46,158M0,122L1,103L2,97L3,96L4,93L5,85L6,83L7,78L8,80L9,81L10,82L11,81L12,81L13,69L14,81L15,86L16,95L17,114L18,105L19,105L20,138L21,132L22,129L23,159L24,152L25,141L26,128L27,140L28,159L29,193L30,197L31,172L32,188L33,206L34,207L35,216L36,235L37,238L38,235L39,243L40,244L41,232L42,235L43,226L44,207L45,225L46,214M0,130L1,121L2,117L3,109L4,107L5,105L6,101L7,99L8,98L9,91L10,96L11,91L12,84L13,82L14,78L15,73L16,92L17,106L18,117L19,133L20,145L21,175L22,189L23,180L24,185L25,194L26,189L27,205L28,217L29,202L30,185L31,195L32,207L33,223L34,218L35,221L36,217L37,237L38,226L39,221L40,242L41,248L42,245L43,244L44,265L45,252L46,260M0,127L1,110L2,108L3,106L4,106L5,109L6,106L7,106L8,109L9,125L10,134L11,140L12,158L13,155L14,153L15,130L16,132L17,143L18,170L19,167L20,151L21,148L22,170L23,166L24,158L25,164L26,148L27,160L28,155L29,171L30,185L31,183L32,204L33,213L34,214L35,220L36,228L37,228L38,245L39,245L40,238L41,228L42,195L43,172L44,204L45,218L46,203M0,105L1,97L2,85L3,79L4,79L5,81L6,68L7,71L8,67L9,65L10,67L11,80L12,85L13,96L14,111L15,111L16,103L17,95L18,113L19,116L20,140L21,142L22,131L23,109L24,126L25,139L26,131L27,140L28,151L29,160L30,175L31,177L32,177L33,178L34,196L35,203L36,188L37,177L38,181L39,179L40,154L41,182L42,193L43,197L44,184L45,191L46,219M0,112L1,99L2,103L3,94L4,91L5,82L6,79L7,76L8,79L9,73L10,74L11,81L12,91L13,85L14,87L15,78L16,79L17,82L18,86L19,84L20,84L21,92L22,101L23,112L24,128L25,147L26,140L27,141L28,167L29,166L30,168L31,150L32,168L33,186L34,153L35,181L36,187L37,180L38,197L39,206L40,193L41,175L42,180L43,203L44,194L45,195L46,201M0,112L1,89L2,78L3,78L4,70L5,68L6,77L7,73L8,88L9,68L10,76L11,81L12,74L13,75L14,69L15,65L16,69L17,81L18,78L19,76L20,66L21,72L22,73L23,68L24,76L25,86L26,98L27,90L28,102L29,130L30,142L31,133L32,139L33,165L34,151L35,142L36,159L37,160L38,159L39,152L40,133L41,147L42,150L43,163L44,157L45,144L46,130M0,100L1,86L2,90L3,86L4,80L5,85L6,69L7,66L8,75L9,71L10,64L11,67L12,69L13,73L14,69L15,75L16,65L17,72L18,66L19,67L20,60L21,74L22,69L23,74L24,70L25,73L26,72L27,76L28,84L29,74L30,77L31,81L32,89L33,107L34,131L35,135L36,118L37,118L38,119L39,134L40,131L41,139L42,156L43,137L44,143L45,144L46,139M0,98L1,84L2,76L3,78L4,77L5,71L6,67L7,60L8,68L9,62L10,65L11,62L12,58L13,60L14,61L15,66L16,66L17,71L18,61L19,58L20,59L21,47L22,44L23,48L24,47L25,50L26,51L27,58L28,56L29,63L30,57L31,68L32,73L33,68L34,56L35,54L36,64L37,103L38,105L39,114L40,120L41,138L42,156L43,163L44,176L45,166L46,169M0,107L1,93L2,85L3,87L4,83L5,84L6,79L7,74L8,79L9,73L10,71L11,72L12,73L13,66L14,60L15,68L16,56L17,57L18,71L19,77L20,80L21,84L22,90L23,92L24,112L25,107L26,90L27,99L28,130L29,126L30,122L31,131L32,155L33,157L34,157L35,148L36,163L37,138L38,145L39,158L40,181L41,165L42,197L43,206L44,206L45,215L46,227M0,98L1,102L2,97L3,104L4,101L5,99L6,90L7,95L8,90L9,79L10,73L11,73L12,73L13,73L14,72L15,62L16,61L17,67L18,66L19,67L20,73L21,73L22,66L23,70L24,72L25,69L26,77L27,87L28,105L29,126L30,153L31,162L32,173L33,158L34,182L35,167L36,168L37,167L38,183L39,194L40,216L41,228L42,216L43,186L44,189L45,211L46,235M0,98L1,76L2,68L3,64L4,56L5,67L6,72L7,78L8,77L9,67L10,63L11,65L12,73L13,71L14,65L15,69L16,66L17,67L18,69L19,72L20,81L21,91L22,97L23,111L24,126L25,117L26,119L27,138L28,126L29,118L30,123L31,102L32,131L33,122L34,139L35,158L36,152L37,159L38,158L39,160L40,158L41,163L42,174L43,199L44,175L45,184L46,171M0,131L1,110L2,107L3,99L4,93L5,88L6,84L7,82L8,87L9,86L10,82L11,76L12,78L13,81L14,80L15,85L16,81L17,90L18,89L19,86L20,79L21,74L22,79L23,80L24,77L25,89L26,104L27,124L28,128L29,124L30,147L31,153L32,161L33,165L34,170L35,163L36,170L37,165L38,167L39,166L40,181L41,151L42,153L43,169L44,157L45,176L46,168M0,89L1,75L2,77L3,68L4,64L5,68L6,66L7,63L8,64L9,68L10,61L11,66L12,60L13,56L14,64L15,63L16,68L17,60L18,54L19,57L20,66L21,58L22,57L23,64L24,70L25,81L26,91L27,95L28,83L29,68L30,84L31,51L32,52L33,79L34,69L35,78L36,92L37,94L38,91L39,94L40,83L41,98L42,103L43,98L44,109L45,110L46,127M0,111L1,102L2,93L3,94L4,100L5,99L6,83L7,86L8,89L9,85L10,84L11,77L12,85L13,101L14,107L15,123L16,145L17,137L18,126L19,136L20,150L21,134L22,143L23,166L24,166L25,175L26,173L27,183L28,181L29,175L30,179L31,196L32,200L33,213L34,225L35,212L36,202L37,203L38,227L39,220L40,232L41,249L42,288L43,271L44,258L45,240L46,210M0,128L1,117L2,110L3,93L4,91L5,87L6,94L7,100L8,102L9,101L10,93L11,90L12,81L13,89L14,97L15,110L16,120L17,142L18,163L19,164L20,154L21,150L22,143L23,141L24,149L25,145L26,152L27,160L28,185L29,202L30,221L31,223L32,211L33,202L34,200L35,209L36,219L37,244L38,246L39,249L40,254L41,239L42,238L43,225L44,222L45,232L46,257M0,125L1,119L2,113L3,112L4,117L5,119L6,120L7,120L8,117L9,120L10,113L11,113L12,108L13,108L14,113L15,109L16,114L17,118L18,119L19,122L20,119L21,104L22,97L23,99L24,104L25,96L26,107L27,108L28,114L29,115L30,113L31,141L32,162L33,162L34,191L35,180L36,181L37,175L38,182L39,202L40,199L41,190L42,201L43,215L44,222L45,216L46,229M0,97L1,91L2,88L3,93L4,79L5,86L6,85L7,86L8,75L9,87L10,82L11,84L12,81L13,96L14,91L15,82L16,74L17,76L18,82L19,86L20,88L21,94L22,90L23,83L24,83L25,84L26,88L27,85L28,89L29,83L30,91L31,95L32,98L33,96L34,106L35,132L36,113L37,106L38,111L39,125L40,147L41,153L42,169L43,177L44,149L45,156L46,160M0,137L1,118L2,112L3,95L4,96L5,94L6,89L7,94L8,91L9,87L10,86L11,95L12,99L13,112L14,135L15,138L16,152L17,155L18,147L19,172L20,188L21,167L22,194L23,213L24,226L25,227L26,243L27,245L28,257L29,267L30,239L31,256L32,236L33,280L34,279L35,278L36,258L37,261L38,266L39,266L40,274L41,285L42,260L43,278L44,275L45,270L46,258M0,91L1,80L2,79L3,76L4,70L5,70L6,69L7,67L8,73L9,86L10,85L11,89L12,101L13,78L14,81L15,95L16,127L17,103L18,137L19,144L20,140L21,146L22,128L23,120L24,140L25,157L26,148L27,136L28,137L29,169L30,172L31,195L32,206L33,214L34,204L35,195L36,212L37,187L38,170L39,192L40,153L41,172L42,184L43,155L44,170L45,170L46,184M0,87L1,86L2,90L3,92L4,81L5,81L6,84L7,83L8,74L9,78L10,78L11,90L12,82L13,85L14,77L15,77L16,77L17,76L18,87L19,76L20,73L21,71L22,73L23,77L24,80L25,79L26,77L27,74L28,91L29,99L30,116L31,125L32,152L33,167L34,162L35,139L36,132L37,165L38,189L39,202L40,193L41,178L42,173L43,172L44,168L45,187L46,174M0,100L1,95L2,89L3,90L4,93L5,85L6,84L7,69L8,71L9,68L10,65L11,71L12,70L13,78L14,87L15,95L16,82L17,72L18,90L19,97L20,111L21,136L22,119L23,135L24,124L25,120L26,108L27,88L28,119L29,122L30,92L31,114L32,133L33,163L34,141L35,155L36,126L37,132L38,160L39,170L40,176L41,185L42,179L43,179L44,188L45,172L46,152M0,124L1,110L2,104L3,98L4,98L5,103L6,103L7,101L8,104L9,103L10,105L11,112L12,112L13,107L14,111L15,107L16,106L17,117L18,125L19,142L20,132L21,120L22,152L23,139L24,134L25,122L26,153L27,138L28,115L29,134L30,156L31,161L32,172L33,195L34,179L35,178L36,173L37,180L38,169L39,187L40,192L41,173L42,190L43,201L44,179L45,191L46,193M0,121L1,109L2,98L3,88L4,83L5,77L6,80L7,68L8,72L9,65L10,75L11,73L12,81L13,79L14,94L15,105L16,99L17,124L18,137L19,162L20,190L21,172L22,196L23,210L24,236L25,211L26,202L27,221L28,201L29,199L30,187L31,197L32,222L33,234L34,212L35,215L36,215L37,209L38,220L39,205L40,212L41,221L42,228L43,231L44,248L45,240L46,250M0,90L1,74L2,78L3,70L4,73L5,70L6,67L7,64L8,67L9,71L10,68L11,66L12,75L13,79L14,76L15,73L16,72L17,71L18,57L19,57L20,65L21,71L22,63L23,68L24,61L25,59L26,73L27,80L28,77L29,72L30,73L31,91L32,105L33,109L34,131L35,131L36,134L37,141L38,134L39,146L40,142L41,157L42,171L43,163L44,178L45,187L46,196M0,139L1,130L2,125L3,115L4,105L5,97L6,89L7,94L8,95L9,88L10,92L11,88L12,92L13,89L14,92L15,89L16,89L17,90L18,102L19,109L20,111L21,111L22,119L23,126L24,131L25,115L26,156L27,153L28,144L29,148L30,136L31,150L32,159L33,173L34,175L35,143L36,172L37,187L38,172L39,164L40,152L41,165L42,158L43,159L44,158L45,167L46,183M0,105L1,86L2,75L3,77L4,87L5,85L6,77L7,69L8,81L9,92L10,98L11,121L12,128L13,126L14,141L15,142L16,158L17,172L18,138L19,160L20,193L21,196L22,188L23,175L24,190L25,207L26,214L27,209L28,216L29,217L30,238L31,226L32,199L33,194L34,181L35,170L36,199L37,170L38,194L39,194L40,210L41,207L42,224L43,234L44,256L45,252L46,266M0,90L1,91L2,94L3,88L4,91L5,88L6,88L7,83L8,78L9,76L10,74L11,83L12,78L13,75L14,75L15,80L16,77L17,73L18,83L19,90L20,98L21,118L22,133L23,136L24,129L25,134L26,155L27,136L28,135L29,130L30,142L31,142L32,150L33,163L34,168L35,179L36,179L37,183L38,194L39,155L40,141L41,148L42,136L43,132L44,143L45,159L46,171M0,120L1,196L2,208L3,140L4,100L6,90L10,84L16,100L24,160L32,200L40,220L46,240" fill="none" stroke="#36b44a" stroke-width="0.34" stroke-linejoin="round" vector-effect="non-scaling-stroke" opacity="1.0"/>
<path transform="translate(155.90,195.3) scale(2.03542,-0.22950)" d="M0,107L1,92L2,85L3,87L4,87L6,86L8,83L10,76L12,80L14,86L16,89L18,89L20,86L22,84L24,81L26,85L28,81L30,88L32,87L34,81L36,79L38,71L40,69L42,70L44,82L46,76M0,75L1,78L2,84L3,80L4,77L6,75L8,77L10,73L12,73L14,75L16,72L18,73L20,74L22,76L24,70L26,68L28,67L30,74L32,74L34,65L36,62L38,73L40,73L42,67L44,64L46,67M0,100L1,89L2,94L3,91L4,89L6,92L8,91L10,84L12,77L14,80L16,83L18,89L20,75L22,84L24,86L26,91L28,91L30,88L32,87L34,87L36,82L38,81L40,82L42,80L44,74L46,71M0,115L1,102L2,88L3,96L4,87L6,98L8,98L10,93L12,83L14,84L16,94L18,99L20,98L22,89L24,89L26,90L28,93L30,93L32,95L34,88L36,88L38,97L40,90L42,96L44,106L46,104M0,110L1,101L2,97L3,91L4,95L6,93L8,88L10,83L12,95L14,90L16,91L18,90L20,88L22,83L24,86L26,89L28,95L30,93L32,88L34,88L36,92L38,96L40,101L42,100L44,104L46,104M0,83L1,73L2,69L3,68L4,59L6,69L8,74L10,72L12,86L14,85L16,88L18,88L20,86L22,74L24,80L26,79L28,72L30,73L32,76L34,80L36,78L38,75L40,78L42,74L44,74L46,78M0,114L1,99L2,95L3,90L4,92L6,90L8,88L10,91L12,89L14,91L16,96L18,92L20,98L22,92L24,93L26,87L28,90L30,100L32,102L34,107L36,99L38,97L40,102L42,107L44,110L46,102M0,75L1,65L2,62L3,58L4,57L6,61L8,70L10,67L12,65L14,62L16,58L18,63L20,64L22,66L24,64L26,69L28,65L30,70L32,68L34,73L36,69L38,73L40,75L42,74L44,81L46,79M0,101L1,94L2,96L3,83L4,82L6,87L8,84L10,85L12,90L14,82L16,82L18,85L20,81L22,73L24,72L26,76L28,79L30,87L32,90L34,79L36,84L38,86L40,90L42,85L44,80L46,80M0,93L1,75L2,77L3,64L4,62L6,61L8,58L10,58L12,61L14,72L16,69L18,65L20,66L22,70L24,65L26,64L28,57L30,64L32,68L34,74L36,66L38,76L40,77L42,72L44,69L46,68M0,104L1,96L2,90L3,87L4,85L6,92L8,95L10,90L12,90L14,97L16,94L18,101L20,100L22,101L24,90L26,96L28,98L30,100L32,102L34,103L36,100L38,104L40,103L42,98L44,96L46,100M0,114L1,109L2,88L3,82L4,77L6,79L8,84L10,88L12,79L14,84L16,76L18,78L20,78L22,81L24,76L26,82L28,80L30,79L32,77L34,73L36,78L38,79L40,80L42,87L44,80L46,78M0,90L1,74L2,69L3,61L4,63L6,64L8,69L10,70L12,70L14,75L16,75L18,68L20,65L22,68L24,76L26,72L28,70L30,70L32,73L34,71L36,71L38,68L40,65L42,63L44,67L46,65M0,127L1,106L2,99L3,100L4,108L6,109L8,110L10,107L12,102L14,103L16,93L18,100L20,101L22,105L24,100L26,98L28,98L30,102L32,106L34,105L36,109L38,112L40,107L42,109L44,104L46,106M0,99L1,83L2,77L3,75L4,70L6,64L8,61L10,70L12,66L14,63L16,60L18,54L20,55L22,60L24,59L26,58L28,62L30,65L32,63L34,65L36,60L38,66L40,61L42,61L44,63L46,62M0,132L1,109L2,104L3,94L4,96L6,97L8,104L10,105L12,100L14,102L16,98L18,97L20,94L22,88L24,94L26,86L28,89L30,95L32,96L34,90L36,90L38,96L40,101L42,107L44,96L46,99M0,114L1,96L2,88L3,81L4,86L6,78L8,76L10,78L12,79L14,91L16,90L18,85L20,89L22,90L24,91L26,90L28,92L30,86L32,83L34,85L36,83L38,90L40,100L42,103L44,101L46,100M0,123L1,108L2,104L3,100L4,97L6,93L8,86L10,88L12,94L14,99L16,104L18,97L20,93L22,98L24,96L26,108L28,106L30,97L32,96L34,104L36,95L38,98L40,94L42,104L44,102L46,98M0,129L1,108L2,95L3,84L4,84L6,80L8,77L10,85L12,86L14,81L16,88L18,86L20,87L22,86L24,90L26,90L28,86L30,88L32,85L34,85L36,92L38,84L40,80L42,80L44,80L46,88M0,129L1,113L2,109L3,107L4,106L6,105L8,110L10,104L12,104L14,100L16,98L18,98L20,97L22,98L24,93L26,93L28,91L30,87L32,87L34,87L36,89L38,84L40,86L42,84L44,84L46,88M0,101L1,87L2,91L3,83L4,81L6,84L8,85L10,94L12,94L14,92L16,96L18,94L20,90L22,96L24,102L26,104L28,96L30,104L32,99L34,102L36,105L38,113L40,100L42,96L44,103L46,104M0,94L1,107L2,93L3,93L4,96L6,99L8,104L10,102L12,99L14,100L16,94L18,94L20,108L22,106L24,107L26,117L28,119L30,118L32,156L34,125L36,112L38,118L40,119L42,125L44,122L46,120M0,105L1,81L2,76L3,59L4,65L6,62L8,74L10,122L12,75L14,70L16,64L18,57L20,56L22,63L24,66L26,64L28,66L30,66L32,61L34,63L36,71L38,78L40,72L42,72L44,66L46,70M0,109L1,85L2,79L3,76L4,74L6,67L8,69L10,72L12,71L14,74L16,65L18,64L20,70L22,76L24,77L26,77L28,80L30,86L32,89L34,87L36,84L38,89L40,91L42,93L44,90L46,86M0,81L1,76L2,77L3,77L4,70L6,65L8,71L10,75L12,74L14,69L16,64L18,70L20,69L22,69L24,75L26,81L28,72L30,73L32,82L34,82L36,82L38,86L40,81L42,78L44,83L46,92M0,112L1,98L2,98L3,102L4,101L6,99L8,97L10,102L12,100L14,93L16,101L18,97L20,99L22,99L24,103L26,102L28,106L30,104L32,100L34,97L36,100L38,96L40,101L42,99L44,95L46,93M0,69L1,73L2,67L3,64L4,61L6,67L8,66L10,63L12,64L14,59L16,57L18,80L20,66L22,61L24,71L26,64L28,65L30,59L32,63L34,66L36,70L38,64L40,63L42,63L44,65L46,77M0,136L1,119L2,109L3,106L4,103L6,94L8,100L10,94L12,100L14,103L16,112L18,116L20,116L22,109L24,111L26,120L28,121L30,121L32,131L34,126L36,116L38,121L40,122L42,116L44,126L46,124M0,95L1,84L2,67L3,76L4,75L6,71L8,78L10,83L12,68L14,65L16,57L18,58L20,57L22,63L24,62L26,55L28,60L30,61L32,105L34,111L36,61L38,55L40,55L42,56L44,61L46,63M0,101L1,80L2,75L3,77L4,71L6,71L8,74L10,79L12,67L14,60L16,64L18,68L20,66L22,66L24,64L26,70L28,59L30,63L32,58L34,58L36,55L38,55L40,59L42,62L44,71L46,67" fill="none" stroke="#4a4a4a" stroke-width="0.34" stroke-linejoin="round" vector-effect="non-scaling-stroke" opacity="1.0"/>
<path d="M155.9,103.5 V195.3M152.7,195.3 H155.9M154.1,183.8 H155.9M154.1,172.4 H155.9M154.1,160.9 H155.9M152.7,149.4 H155.9M154.1,137.9 H155.9M154.1,126.5 H155.9M154.1,115.0 H155.9M152.7,103.5 H155.9M155.1,195.3 H253.6M155.9,195.3 V198.5M168.1,195.3 V197.1M180.3,195.3 V198.5M192.5,195.3 V197.1M204.8,195.3 V198.5M217.0,195.3 V197.1M229.2,195.3 V198.5M241.4,195.3 V197.1M253.6,195.3 V198.5" fill="none" stroke="#666" stroke-width="0.6"/>
<text x="150.9" y="198.1" font-size="7.8" fill="#111" text-anchor="end" >0</text>
<text x="150.9" y="152.2" font-size="7.8" fill="#111" text-anchor="end" >1</text>
<text x="150.9" y="106.3" font-size="7.8" fill="#111" text-anchor="end" >2</text>
<text x="155.9" y="207.4" font-size="7.8" fill="#111" text-anchor="middle" >0</text>
<text x="180.3" y="207.4" font-size="7.8" fill="#111" text-anchor="middle" >6</text>
<text x="204.8" y="207.4" font-size="7.8" fill="#111" text-anchor="middle" >12</text>
<text x="229.2" y="207.4" font-size="7.8" fill="#111" text-anchor="middle" >18</text>
<text x="253.6" y="207.4" font-size="7.8" fill="#111" text-anchor="middle" >24</text>
<text x="204.8" y="95.6" font-size="7.8" fill="#111" text-anchor="middle" >Mitogens + EV</text>
<path transform="translate(282.80,195.3) scale(2.03542,-0.22950)" d="M0,91L1,82L2,81L3,84L4,76L6,74L8,68L10,70L12,71L14,76L16,72L18,70L20,71L22,69L24,77L26,64L28,58L30,60L32,66L34,67L36,70L38,63L40,68L42,71L44,77L46,78M0,104L1,100L2,99L3,93L4,91L6,87L8,80L10,84L12,81L14,75L16,76L18,86L20,81L22,88L24,82L26,83L28,86L30,85L32,81L34,83L36,92L38,93L40,91L42,92L44,96L46,98M0,95L1,88L2,81L3,91L4,83L6,88L8,81L10,77L12,73L14,71L16,67L18,69L20,72L22,78L24,71L26,76L28,77L30,78L32,69L34,75L36,80L38,84L40,81L42,86L44,83L46,78M0,103L1,104L2,95L3,98L4,93L6,93L8,96L10,103L12,101L14,97L16,109L18,107L20,92L22,95L24,93L26,93L28,100L30,109L32,105L34,97L36,102L38,101L40,99L42,100L44,95L46,97M0,135L1,115L2,107L3,108L4,106L6,101L8,107L10,107L12,108L14,104L16,107L18,103L20,104L22,101L24,100L26,92L28,98L30,100L32,96L34,96L36,99L38,101L40,90L42,99L44,93L46,102M0,70L1,75L2,68L3,65L4,65L6,58L8,66L10,61L12,70L14,73L16,79L18,72L20,69L22,67L24,70L26,66L28,65L30,56L32,61L34,65L36,75L38,69L40,73L42,74L44,76L46,68M0,85L1,84L2,71L3,66L4,71L6,60L8,50L10,57L12,61L14,69L16,70L18,68L20,64L22,57L24,62L26,61L28,62L30,65L32,57L34,61L36,61L38,72L40,70L42,74L44,68L46,61M0,109L1,86L2,80L3,86L4,82L6,73L8,70L10,78L12,84L14,83L16,74L18,78L20,73L22,72L24,71L26,77L28,79L30,80L32,76L34,73L36,79L38,74L40,73L42,76L44,75L46,79M0,145L1,119L2,106L3,92L4,91L6,90L8,96L10,103L12,112L14,104L16,107L18,103L20,94L22,78L24,85L26,83L28,94L30,92L32,98L34,96L36,100L38,96L40,100L42,108L44,107L46,99M0,118L1,99L2,104L3,101L4,99L6,95L8,103L10,102L12,99L14,102L16,102L18,98L20,95L22,95L24,101L26,93L28,87L30,93L32,99L34,104L36,103L38,94L40,98L42,98L44,93L46,88M0,103L1,94L2,91L3,81L4,78L6,81L8,77L10,82L12,84L14,86L16,81L18,84L20,81L22,81L24,83L26,79L28,79L30,69L32,70L34,77L36,74L38,67L40,66L42,71L44,78L46,81M0,108L1,90L2,81L3,78L4,74L6,79L8,79L10,75L12,77L14,70L16,73L18,73L20,72L22,73L24,75L26,69L28,74L30,88L32,87L34,80L36,80L38,86L40,78L42,85L44,80L46,87M0,103L1,91L2,79L3,81L4,79L6,72L8,75L10,74L12,74L14,70L16,73L18,78L20,74L22,79L24,70L26,74L28,77L30,73L32,76L34,71L36,82L38,83L40,86L42,80L44,70L46,74M0,86L1,80L2,70L3,64L4,68L6,67L8,63L10,58L12,66L14,50L16,59L18,60L20,56L22,60L24,63L26,73L28,70L30,56L32,55L34,62L36,60L38,61L40,62L42,69L44,68L46,65M0,92L1,88L2,86L3,84L4,89L6,87L8,80L10,75L12,73L14,81L16,75L18,83L20,83L22,78L24,74L26,75L28,80L30,79L32,82L34,81L36,86L38,81L40,80L42,75L44,75L46,73M0,124L1,103L2,99L3,98L4,96L6,93L8,89L10,91L12,88L14,89L16,92L18,91L20,97L22,86L24,82L26,91L28,90L30,89L32,89L34,90L36,91L38,94L40,98L42,105L44,92L46,92M0,98L1,89L2,86L3,86L4,79L6,79L8,84L10,87L12,89L14,82L16,79L18,85L20,84L22,84L24,82L26,87L28,86L30,80L32,83L34,82L36,82L38,85L40,86L42,83L44,79L46,79M0,107L1,91L2,77L3,73L4,73L6,73L8,66L10,69L12,67L14,74L16,74L18,81L20,80L22,73L24,78L26,75L28,75L30,76L32,71L34,78L36,78L38,73L40,69L42,75L44,81L46,82M0,82L1,70L2,58L3,65L4,76L6,70L8,69L10,70L12,67L14,75L16,66L18,61L20,69L22,71L24,71L26,68L28,66L30,66L32,67L34,63L36,68L38,74L40,68L42,62L44,64L46,75M0,108L1,97L2,92L3,92L4,94L6,92L8,96L10,89L12,86L14,90L16,92L18,82L20,83L22,88L24,88L26,96L28,87L30,89L32,85L34,80L36,83L38,85L40,86L42,85L44,91L46,86M0,135L1,112L2,104L3,107L4,97L6,101L8,93L10,92L12,95L14,97L16,97L18,98L20,103L22,93L24,91L26,97L28,90L30,90L32,102L34,106L36,104L38,101L40,99L42,94L44,92L46,89M0,112L1,97L2,96L3,93L4,92L6,93L8,98L10,97L12,92L14,93L16,94L18,96L20,99L22,93L24,88L26,92L28,88L30,91L32,103L34,104L36,93L38,89L40,92L42,91L44,94L46,94M0,104L1,86L2,71L3,72L4,75L6,73L8,69L10,62L12,70L14,67L16,69L18,73L20,74L22,76L24,83L26,83L28,76L30,76L32,75L34,71L36,76L38,74L40,76L42,78L44,86L46,79M0,87L1,76L2,67L3,62L4,54L6,55L8,49L10,59L12,62L14,60L16,61L18,62L20,61L22,63L24,62L26,64L28,60L30,61L32,69L34,63L36,59L38,65L40,65L42,65L44,65L46,62M0,82L1,86L2,79L3,81L4,76L6,83L8,81L10,73L12,78L14,72L16,75L18,69L20,70L22,71L24,76L26,63L28,58L30,67L32,71L34,68L36,69L38,61L40,63L42,62L44,69L46,70M0,92L1,86L2,79L3,84L4,78L6,86L8,85L10,78L12,75L14,82L16,86L18,77L20,78L22,81L24,89L26,88L28,83L30,86L32,83L34,78L36,78L38,78L40,78L42,79L44,81L46,78M0,81L1,67L2,64L3,65L4,67L6,69L8,61L10,64L12,69L14,63L16,59L18,61L20,62L22,63L24,70L26,71L28,62L30,68L32,69L34,73L36,71L38,77L40,74L42,71L44,65L46,72M0,88L1,80L2,77L3,80L4,80L6,71L8,71L10,73L12,65L14,73L16,73L18,75L20,69L22,73L24,71L26,69L28,70L30,71L32,64L34,67L36,70L38,63L40,73L42,84L44,82L46,78M0,100L1,90L2,82L3,83L4,86L6,86L8,85L10,87L12,90L14,82L16,82L18,78L20,78L22,78L24,79L26,83L28,76L30,66L32,73L34,81L36,79L38,87L40,94L42,90L44,86L46,87M0,123L1,109L2,103L3,93L4,92L6,98L8,89L10,93L12,99L14,91L16,97L18,98L20,96L22,96L24,95L26,96L28,95L30,92L32,98L34,105L36,101L38,106L40,99L42,93L44,98L46,99M0,101L1,89L2,84L3,67L4,67L6,75L8,82L10,76L12,64L14,71L16,67L18,69L20,69L22,70L24,68L26,75L28,77L30,71L32,67L34,80L36,82L38,81L40,73L42,85L44,78L46,79M0,90L1,85L2,85L3,86L4,90L6,98L8,95L10,104L12,97L14,96L16,94L18,86L20,88L22,89L24,87L26,93L28,95L30,93L32,89L34,92L36,89L38,87L40,87L42,94L44,92L46,92M0,87L1,84L2,77L3,72L4,73L6,72L8,70L10,77L12,73L14,70L16,69L18,77L20,70L22,77L24,77L26,74L28,72L30,70L32,63L34,63L36,61L38,60L40,63L42,71L44,68L46,70M0,97L1,86L2,84L3,81L4,78L6,76L8,76L10,69L12,65L14,68L16,61L18,63L20,64L22,68L24,71L26,77L28,64L30,68L32,70L34,77L36,71L38,73L40,71L42,67L44,69L46,74M0,116L1,110L2,107L3,106L4,108L6,107L8,99L10,92L12,95L14,105L16,103L18,100L20,101L22,104L24,107L26,99L28,103L30,103L32,106L34,109L36,96L38,103L40,104L42,100L44,100L46,105M0,99L1,82L2,79L3,73L4,72L6,58L8,71L10,62L12,57L14,64L16,67L18,64L20,55L22,63L24,66L26,82L28,73L30,63L32,60L34,66L36,66L38,67L40,61L42,60L44,61L46,61M0,97L1,87L2,79L3,79L4,83L6,90L8,97L10,86L12,84L14,84L16,80L18,72L20,74L22,80L24,83L26,78L28,74L30,74L32,70L34,74L36,71L38,74L40,83L42,84L44,89L46,84M0,103L1,103L2,109L3,95L4,97L6,101L8,99L10,105L12,101L14,96L16,99L18,94L20,91L22,94L24,94L26,96L28,108L30,107L32,102L34,104L36,106L38,102L40,108L42,109L44,99L46,103M0,94L1,80L2,74L3,66L4,65L6,64L8,68L10,73L12,73L14,69L16,71L18,62L20,65L22,65L24,73L26,77L28,75L30,74L32,67L34,65L36,70L38,64L40,64L42,64L44,70L46,69M0,108L1,96L2,96L3,92L4,96L6,92L8,82L10,77L12,76L14,74L16,76L18,90L20,84L22,82L24,78L26,87L28,83L30,81L32,78L34,77L36,84L38,86L40,90L42,89L44,82L46,88M0,91L1,83L2,77L3,75L4,78L6,73L8,78L10,72L12,74L14,75L16,71L18,74L20,79L22,80L24,74L26,73L28,66L30,67L32,71L34,67L36,69L38,71L40,66L42,65L44,70L46,70M0,100L1,97L2,96L3,88L4,87L6,91L8,90L10,90L12,92L14,84L16,84L18,89L20,91L22,88L24,85L26,77L28,78L30,89L32,83L34,96L36,94L38,94L40,90L42,85L44,77L46,84M0,94L1,91L2,84L3,79L4,89L6,90L8,91L10,88L12,88L14,84L16,94L18,84L20,84L22,81L24,82L26,86L28,94L30,85L32,84L34,76L36,80L38,85L40,70L42,80L44,77L46,77M0,84L1,88L2,90L3,82L4,80L6,76L8,71L10,67L12,82L14,86L16,84L18,83L20,86L22,84L24,81L26,77L28,85L30,79L32,84L34,87L36,85L38,89L40,92L42,89L44,81L46,85M0,74L1,80L2,89L3,86L4,78L6,84L8,83L10,75L12,67L14,64L16,62L18,71L20,70L22,74L24,78L26,78L28,85L30,81L32,84L34,91L36,93L38,90L40,93L42,86L44,90L46,83M0,116L1,111L2,113L3,112L4,95L6,100L8,103L10,103L12,98L14,95L16,95L18,92L20,103L22,102L24,96L26,96L28,97L30,95L32,94L34,100L36,102L38,95L40,90L42,94L44,99L46,96M0,76L1,67L2,66L3,65L4,74L6,68L8,63L10,60L12,50L14,57L16,71L18,68L20,63L22,58L24,63L26,62L28,57L30,60L32,59L34,66L36,61L38,101L40,120L42,73L44,61L46,61M0,100L1,91L2,75L3,72L4,79L6,82L8,64L10,59L12,71L14,75L16,80L18,65L20,69L22,75L24,80L26,74L28,79L30,82L32,77L34,84L36,87L38,87L40,81L42,81L44,80L46,87M0,94L1,76L2,76L3,71L4,64L6,61L8,59L10,60L12,68L14,63L16,61L18,47L20,55L22,62L24,71L26,64L28,62L30,60L32,55L34,57L36,55L38,57L40,59L42,64L44,63L46,73M0,112L1,107L2,98L3,96L4,104L6,95L8,105L10,103L12,103L14,108L16,106L18,102L20,91L22,92L24,90L26,98L28,99L30,96L32,103L34,107L36,114L38,111L40,101L42,102L44,105L46,108M0,71L1,65L2,64L3,63L4,67L6,64L8,56L10,50L12,58L14,58L16,61L18,68L20,65L22,65L24,59L26,57L28,64L30,71L32,66L34,66L36,68L38,66L40,67L42,66L44,70L46,67M0,118L1,108L2,93L3,86L4,83L6,86L8,85L10,85L12,82L14,83L16,84L18,82L20,91L22,93L24,90L26,92L28,101L30,99L32,93L34,92L36,96L38,96L40,93L42,92L44,87L46,87M0,92L1,78L2,63L3,67L4,61L6,60L8,64L10,69L12,66L14,69L16,63L18,64L20,58L22,63L24,59L26,62L28,55L30,63L32,69L34,63L36,62L38,56L40,56L42,50L44,56L46,57M0,107L1,98L2,88L3,81L4,88L6,88L8,88L10,86L12,85L14,87L16,89L18,84L20,97L22,99L24,87L26,88L28,94L30,90L32,84L34,89L36,87L38,89L40,97L42,95L44,100L46,93M0,89L1,73L2,68L3,68L4,67L6,66L8,68L10,71L12,65L14,65L16,64L18,74L20,73L22,67L24,72L26,77L28,69L30,66L32,71L34,73L36,77L38,83L40,83L42,84L44,79L46,84M0,121L1,99L2,88L3,75L4,76L6,72L8,76L10,76L12,76L14,77L16,78L18,80L20,80L22,87L24,91L26,77L28,86L30,84L32,86L34,82L36,86L38,88L40,85L42,80L44,85L46,87M0,106L1,89L2,81L3,75L4,78L6,74L8,84L10,84L12,82L14,79L16,84L18,81L20,79L22,80L24,85L26,90L28,85L30,78L32,76L34,78L36,83L38,71L40,79L42,82L44,84L46,77M0,103L1,92L2,88L3,87L4,83L6,78L8,85L10,79L12,77L14,79L16,77L18,74L20,81L22,80L24,77L26,75L28,80L30,84L32,83L34,87L36,85L38,90L40,91L42,82L44,82L46,83M0,101L1,94L2,94L3,100L4,99L6,100L8,104L10,100L12,100L14,99L16,103L18,98L20,100L22,96L24,97L26,102L28,97L30,100L32,99L34,100L36,101L38,100L40,101L42,108L44,101L46,95M0,138L1,117L2,106L3,100L4,96L6,92L8,93L10,95L12,97L14,102L16,97L18,98L20,96L22,101L24,97L26,97L28,96L30,103L32,97L34,94L36,96L38,97L40,96L42,104L44,101L46,93M0,94L1,88L2,84L3,87L4,97L6,88L8,85L10,89L12,95L14,94L16,89L18,95L20,91L22,94L24,87L26,80L28,88L30,82L32,78L34,81L36,78L38,83L40,84L42,82L44,80L46,88M0,111L1,101L2,92L3,81L4,71L6,68L8,76L10,73L12,80L14,72L16,76L18,74L20,68L22,72L24,71L26,71L28,63L30,63L32,64L34,67L36,66L38,78L40,75L42,75L44,73L46,79M0,107L1,97L2,86L3,83L4,77L6,76L8,79L10,76L12,74L14,75L16,78L18,80L20,75L22,74L24,71L26,70L28,84L30,87L32,87L34,82L36,85L38,89L40,90L42,89L44,80L46,90M0,72L1,61L2,70L3,80L4,76L6,75L8,71L10,73L12,70L14,68L16,70L18,61L20,70L22,67L24,70L26,71L28,77L30,81L32,70L34,65L36,67L38,60L40,67L42,67L44,64L46,70M0,85L1,76L2,74L3,71L4,62L6,69L8,72L10,76L12,74L14,75L16,66L18,62L20,57L22,68L24,66L26,74L28,75L30,71L32,71L34,68L36,67L38,70L40,74L42,71L44,64L46,72M0,107L1,99L2,93L3,103L4,103L6,95L8,81L10,81L12,84L14,85L16,86L18,81L20,81L22,91L24,86L26,84L28,79L30,79L32,86L34,87L36,84L38,83L40,87L42,84L44,81L46,82M0,96L1,91L2,81L3,89L4,86L6,80L8,79L10,68L12,66L14,60L16,65L18,78L20,78L22,70L24,65L26,70L28,74L30,73L32,80L34,78L36,85L38,84L40,89L42,71L44,75L46,78M0,73L1,72L2,76L3,64L4,62L6,57L8,57L10,62L12,64L14,66L16,69L18,70L20,66L22,66L24,61L26,61L28,63L30,66L32,59L34,67L36,66L38,60L40,62L42,66L44,67L46,65M0,72L1,75L2,64L3,65L4,59L6,54L8,60L10,67L12,66L14,69L16,67L18,73L20,68L22,70L24,71L26,63L28,70L30,66L32,62L34,62L36,68L38,66L40,70L42,65L44,67L46,60M0,80L1,86L2,81L3,82L4,78L6,73L8,73L10,73L12,70L14,72L16,70L18,71L20,61L22,63L24,70L26,74L28,74L30,77L32,84L34,83L36,81L38,79L40,79L42,81L44,69L46,81M0,89L1,91L2,83L3,75L4,76L6,74L8,78L10,80L12,77L14,72L16,75L18,72L20,75L22,79L24,79L26,81L28,80L30,89L32,79L34,76L36,84L38,78L40,83L42,83L44,83L46,77M0,114L1,88L2,84L3,80L4,73L6,80L8,79L10,74L12,72L14,77L16,75L18,80L20,75L22,78L24,80L26,83L28,78L30,75L32,72L34,76L36,68L38,85L40,82L42,87L44,82L46,87M0,72L1,69L2,66L3,63L4,61L6,64L8,54L10,59L12,67L14,62L16,67L18,63L20,61L22,60L24,60L26,58L28,57L30,58L32,55L34,58L36,64L38,60L40,61L42,58L44,55L46,58M0,67L1,70L2,60L3,57L4,61L6,63L8,65L10,63L12,66L14,70L16,59L18,63L20,67L22,62L24,58L26,63L28,66L30,66L32,58L34,62L36,63L38,63L40,69L42,59L44,62L46,62M0,87L1,68L2,62L3,61L4,67L6,65L8,64L10,59L12,60L14,56L16,52L18,58L20,57L22,53L24,61L26,67L28,66L30,58L32,56L34,54L36,58L38,75L40,73L42,69L44,62L46,57M0,85L1,75L2,78L3,76L4,82L6,78L8,75L10,74L12,79L14,80L16,83L18,84L20,82L22,90L24,83L26,80L28,83L30,75L32,77L34,81L36,76L38,68L40,66L42,75L44,87L46,79M0,95L1,77L2,73L3,65L4,66L6,61L8,56L10,57L12,61L14,63L16,61L18,66L20,58L22,52L24,59L26,61L28,62L30,61L32,64L34,65L36,71L38,64L40,59L42,61L44,61L46,62M0,96L1,82L2,74L3,70L4,70L6,68L8,67L10,64L12,59L14,61L16,59L18,62L20,51L22,62L24,67L26,71L28,68L30,60L32,58L34,53L36,57L38,58L40,59L42,51L44,48L46,43M0,89L1,87L2,86L3,84L4,91L6,82L8,86L10,92L12,95L14,87L16,77L18,89L20,97L22,95L24,93L26,95L28,99L30,98L32,95L34,96L36,97L38,106L40,102L42,96L44,104L46,108M0,115L1,108L2,103L3,96L4,94L6,93L8,90L10,85L12,84L14,93L16,88L18,84L20,89L22,88L24,88L26,90L28,90L30,83L32,91L34,92L36,100L38,101L40,95L42,93L44,90L46,82M0,78L1,77L2,66L3,71L4,65L6,72L8,73L10,66L12,71L14,69L16,68L18,63L20,62L22,60L24,59L26,64L28,66L30,70L32,72L34,67L36,68L38,65L40,66L42,67L44,67L46,61M0,104L1,94L2,91L3,94L4,84L6,84L8,88L10,81L12,87L14,93L16,91L18,92L20,89L22,93L24,89L26,89L28,86L30,85L32,92L34,91L36,95L38,86L40,83L42,83L44,95L46,99M0,74L1,71L2,68L3,68L4,58L6,55L8,54L10,65L12,68L14,62L16,65L18,62L20,58L22,56L24,72L26,69L28,67L30,71L32,69L34,62L36,72L38,78L40,76L42,68L44,66L46,66M0,98L1,93L2,81L3,85L4,92L6,92L8,93L10,91L12,83L14,88L16,92L18,87L20,101L22,145L24,132L26,83L28,78L30,79L32,84L34,91L36,86L38,80L40,83L42,88L44,94L46,96M0,89L1,82L2,80L3,83L4,76L6,67L8,69L10,67L12,74L14,72L16,71L18,79L20,76L22,75L24,73L26,70L28,79L30,75L32,68L34,79L36,71L38,68L40,68L42,78L44,73L46,70M0,105L1,87L2,80L3,75L4,68L6,65L8,77L10,80L12,77L14,76L16,80L18,77L20,81L22,68L24,74L26,75L28,71L30,73L32,73L34,69L36,67L38,71L40,74L42,69L44,65L46,75M0,70L1,59L2,65L3,66L4,65L6,58L8,55L10,57L12,65L14,61L16,61L18,65L20,61L22,70L24,71L26,66L28,68L30,79L32,79L34,75L36,66L38,70L40,76L42,74L44,74L46,72M0,98L1,84L2,76L3,74L4,73L6,65L8,68L10,64L12,64L14,65L16,70L18,67L20,62L22,58L24,58L26,64L28,66L30,59L32,66L34,65L36,63L38,69L40,63L42,62L44,67L46,62M0,129L1,114L2,107L3,97L4,95L6,94L8,93L10,92L12,90L14,95L16,97L18,100L20,98L22,95L24,92L26,99L28,94L30,91L32,92L34,98L36,102L38,98L40,97L42,102L44,105L46,106M0,95L1,80L2,70L3,71L4,80L6,72L8,67L10,65L12,58L14,48L16,56L18,59L20,63L22,66L24,63L26,64L28,71L30,66L32,63L34,69L36,59L38,62L40,63L42,74L44,69L46,61M0,94L1,79L2,66L3,69L4,66L6,61L8,51L10,64L12,68L14,67L16,72L18,67L20,61L22,61L24,69L26,70L28,67L30,67L32,68L34,66L36,59L38,63L40,60L42,61L44,63L46,61M0,135L1,127L2,111L3,107L4,105L6,104L8,105L10,104L12,97L14,103L16,108L18,101L20,112L22,105L24,106L26,102L28,108L30,107L32,97L34,109L36,117L38,113L40,108L42,113L44,109L46,102M0,106L1,87L2,72L3,65L4,70L6,70L8,67L10,69L12,71L14,67L16,69L18,76L20,63L22,62L24,68L26,75L28,63L30,69L32,64L34,62L36,62L38,65L40,64L42,64L44,68L46,65M0,120L1,103L2,87L3,82L4,85L6,78L8,75L10,71L12,72L14,79L16,80L18,82L20,88L22,84L24,89L26,92L28,84L30,86L32,85L34,80L36,78L38,73L40,76L42,76L44,84L46,89M0,124L1,112L2,112L3,95L4,97L6,100L8,96L10,98L12,97L14,97L16,100L18,101L20,104L22,106L24,105L26,98L28,103L30,108L32,117L34,110L36,112L38,114L40,118L42,117L44,109L46,113" fill="none" stroke="#4a4a4a" stroke-width="0.34" stroke-linejoin="round" vector-effect="non-scaling-stroke" opacity="1.0"/>
<path transform="translate(282.80,195.3) scale(2.03542,-0.22950)" d="M0,99L1,83L2,71L3,82L4,77L5,61L6,61L7,67L8,60L9,61L10,65L11,60L12,60L13,55L14,65L15,59L16,54L17,73L18,75L19,64L20,61L21,57L22,60L23,62L24,58L25,64L26,73L27,86L28,97L29,98L30,131L31,125L32,161L33,168L34,165L35,207L36,218L37,221L38,238L39,238L40,241L41,241L42,233L43,233L44,266L45,264L46,271M0,122L1,105L2,102L3,94L4,83L5,78L6,89L7,80L8,82L9,77L10,74L11,68L12,68L13,73L14,80L15,67L16,76L17,86L18,97L19,111L20,115L21,139L22,136L23,128L24,147L25,157L26,128L27,143L28,156L29,170L30,176L31,169L32,178L33,153L34,125L35,141L36,164L37,148L38,161L39,158L40,168L41,159L42,192L43,150L44,156L45,168L46,169M0,99L1,82L2,79L3,75L4,81L5,75L6,68L7,66L8,65L9,65L10,66L11,74L12,65L13,72L14,77L15,71L16,67L17,71L18,71L19,84L20,93L21,103L22,117L23,110L24,104L25,130L26,121L27,132L28,126L29,144L30,143L31,160L32,133L33,148L34,164L35,139L36,115L37,139L38,175L39,185L40,181L41,178L42,186L43,174L44,173L45,173L46,165M0,107L1,89L2,82L3,75L4,78L5,80L6,69L7,61L8,68L9,69L10,67L11,72L12,82L13,80L14,78L15,83L16,78L17,76L18,77L19,77L20,74L21,72L22,66L23,56L24,64L25,61L26,58L27,71L28,67L29,72L30,68L31,70L32,72L33,71L34,73L35,76L36,90L37,98L38,102L39,115L40,95L41,63L42,79L43,97L44,109L45,122L46,131M0,98L1,100L2,103L3,98L4,100L5,98L6,88L7,85L8,82L9,82L10,80L11,77L12,72L13,64L14,74L15,75L16,79L17,78L18,79L19,83L20,84L21,81L22,86L23,80L24,85L25,79L26,84L27,92L28,92L29,85L30,87L31,87L32,99L33,113L34,129L35,142L36,169L37,160L38,163L39,154L40,173L41,192L42,214L43,222L44,219L45,211L46,206M0,104L1,102L2,99L3,98L4,98L5,94L6,90L7,86L8,84L9,90L10,86L11,80L12,77L13,76L14,81L15,74L16,78L17,81L18,86L19,77L20,69L21,75L22,68L23,69L24,71L25,78L26,74L27,71L28,70L29,78L30,85L31,96L32,99L33,89L34,113L35,106L36,117L37,111L38,132L39,122L40,118L41,153L42,163L43,158L44,132L45,141L46,159M0,106L1,92L2,83L3,85L4,87L5,81L6,73L7,69L8,68L9,77L10,79L11,78L12,65L13,56L14,65L15,77L16,73L17,71L18,69L19,71L20,76L21,68L22,70L23,68L24,59L25,66L26,69L27,73L28,64L29,59L30,62L31,68L32,74L33,74L34,71L35,73L36,84L37,97L38,102L39,106L40,124L41,115L42,107L43,104L44,104L45,132L46,122M0,88L1,71L2,70L3,65L4,62L5,61L6,63L7,59L8,65L9,62L10,68L11,61L12,54L13,47L14,51L15,54L16,68L17,80L18,95L19,78L20,81L21,93L22,99L23,91L24,93L25,100L26,118L27,121L28,106L29,126L30,145L31,144L32,145L33,144L34,160L35,148L36,152L37,170L38,190L39,197L40,200L41,197L42,179L43,174L44,167L45,170L46,172M0,149L1,121L2,108L3,104L4,103L5,104L6,101L7,97L8,94L9,92L10,92L11,89L12,81L13,88L14,89L15,88L16,87L17,85L18,91L19,91L20,88L21,86L22,81L23,84L24,80L25,88L26,87L27,94L28,104L29,121L30,126L31,134L32,118L33,143L34,142L35,159L36,164L37,168L38,156L39,193L40,203L41,205L42,200L43,212L44,228L45,229L46,223M0,115L1,106L2,95L3,95L4,91L5,87L6,79L7,73L8,69L9,67L10,70L11,72L12,67L13,65L14,68L15,64L16,66L17,72L18,67L19,78L20,87L21,99L22,99L23,131L24,159L25,156L26,168L27,176L28,174L29,180L30,186L31,184L32,174L33,187L34,182L35,200L36,201L37,195L38,212L39,217L40,258L41,272L42,258L43,270L44,267L45,262L46,245M0,122L1,99L2,94L3,104L4,103L5,102L6,107L7,107L8,102L9,97L10,91L11,97L12,96L13,97L14,93L15,97L16,91L17,91L18,88L19,99L20,100L21,98L22,97L23,101L24,94L25,88L26,94L27,91L28,93L29,94L30,91L31,89L32,90L33,97L34,105L35,132L36,149L37,153L38,168L39,182L40,175L41,203L42,211L43,220L44,194L45,213L46,208M0,101L1,91L2,86L3,88L4,85L5,80L6,74L7,76L8,74L9,76L10,76L11,76L12,77L13,82L14,91L15,81L16,88L17,88L18,80L19,79L20,69L21,66L22,74L23,79L24,85L25,86L26,84L27,111L28,103L29,96L30,114L31,125L32,146L33,163L34,181L35,177L36,188L37,183L38,156L39,196L40,225L41,209L42,220L43,204L44,179L45,206L46,188M0,92L1,98L2,103L3,100L4,95L5,92L6,86L7,90L8,82L9,77L10,74L11,75L12,76L13,78L14,80L15,78L16,73L17,68L18,77L19,81L20,82L21,72L22,74L23,75L24,76L25,82L26,91L27,99L28,107L29,111L30,124L31,146L32,144L33,136L34,142L35,171L36,161L37,173L38,180L39,182L40,178L41,172L42,160L43,161L44,158L45,153L46,138M0,93L1,84L2,83L3,81L4,76L5,64L6,67L7,76L8,69L9,68L10,67L11,60L12,58L13,63L14,67L15,71L16,66L17,60L18,62L19,53L20,47L21,48L22,50L23,51L24,49L25,49L26,62L27,70L28,81L29,85L30,93L31,91L32,103L33,105L34,105L35,118L36,103L37,127L38,141L39,122L40,136L41,133L42,142L43,131L44,150L45,169L46,159M0,131L1,119L2,107L3,109L4,100L5,100L6,102L7,106L8,101L9,91L10,92L11,91L12,94L13,86L14,83L15,86L16,96L17,94L18,95L19,93L20,92L21,88L22,106L23,121L24,141L25,138L26,130L27,133L28,160L29,173L30,166L31,193L32,195L33,193L34,186L35,200L36,188L37,197L38,183L39,182L40,178L41,178L42,161L43,174L44,173L45,175L46,146M0,109L1,95L2,88L3,80L4,74L5,70L6,67L7,60L8,64L9,61L10,58L11,51L12,50L13,55L14,53L15,58L16,61L17,63L18,65L19,62L20,57L21,71L22,73L23,61L24,65L25,67L26,74L27,78L28,71L29,67L30,78L31,72L32,73L33,82L34,92L35,108L36,107L37,125L38,138L39,141L40,115L41,151L42,165L43,168L44,170L45,145L46,151M0,139L1,127L2,127L3,118L4,121L5,113L6,108L7,104L8,96L9,87L10,82L11,83L12,81L13,87L14,93L15,88L16,93L17,87L18,86L19,90L20,96L21,104L22,120L23,130L24,134L25,132L26,161L27,162L28,168L29,165L30,180L31,175L32,194L33,210L34,217L35,232L36,241L37,229L38,236L39,257L40,241L41,256L42,256L43,244L44,247L45,256L46,253M0,101L1,80L2,78L3,71L4,67L5,57L6,54L7,53L8,57L9,56L10,55L11,56L12,57L13,60L14,59L15,50L16,51L17,58L18,66L19,65L20,58L21,62L22,63L23,63L24,61L25,55L26,52L27,58L28,54L29,50L30,58L31,67L32,79L33,90L34,100L35,116L36,135L37,149L38,139L39,165L40,200L41,206L42,213L43,201L44,228L45,190L46,173M0,129L1,111L2,101L3,95L4,91L5,99L6,102L7,94L8,100L9,100L10,87L11,97L12,96L13,100L14,100L15,100L16,96L17,101L18,98L19,97L20,106L21,101L22,102L23,105L24,103L25,99L26,99L27,102L28,93L29,102L30,116L31,124L32,140L33,152L34,158L35,173L36,175L37,209L38,198L39,205L40,187L41,213L42,240L43,236L44,259L45,267L46,270M0,125L1,117L2,117L3,113L4,100L5,98L6,96L7,82L8,77L9,79L10,74L11,73L12,74L13,81L14,78L15,84L16,81L17,68L18,76L19,76L20,75L21,83L22,85L23,86L24,91L25,94L26,93L27,85L28,92L29,86L30,94L31,86L32,82L33,86L34,76L35,82L36,86L37,92L38,92L39,94L40,104L41,117L42,119L43,117L44,130L45,139L46,127M0,110L1,97L2,94L3,93L4,96L5,101L6,102L7,102L8,88L9,93L10,90L11,84L12,89L13,94L14,108L15,120L16,126L17,138L18,139L19,172L20,183L21,185L22,181L23,204L24,236L25,221L26,226L27,221L28,227L29,211L30,236L31,245L32,239L33,245L34,259L35,273L36,285L37,282L38,269L39,271L40,245L41,252L42,249L43,263L44,259L45,242L46,277M0,120L1,111L2,115L3,107L4,101L5,96L6,101L7,100L8,90L9,87L10,82L11,88L12,82L13,80L14,80L15,78L16,79L17,72L18,84L19,82L20,85L21,82L22,86L23,85L24,83L25,83L26,79L27,76L28,83L29,91L30,89L31,89L32,93L33,96L34,95L35,107L36,115L37,122L38,133L39,113L40,118L41,144L42,169L43,153L44,167L45,141L46,131M0,129L1,116L2,114L3,114L4,109L5,106L6,106L7,102L8,105L9,100L10,97L11,102L12,105L13,105L14,102L15,100L16,100L17,103L18,104L19,99L20,101L21,94L22,92L23,97L24,92L25,92L26,87L27,84L28,91L29,89L30,88L31,89L32,81L33,84L34,88L35,92L36,96L37,101L38,109L39,124L40,115L41,145L42,129L43,131L44,147L45,171L46,177M0,108L1,108L2,90L3,78L4,79L5,82L6,78L7,67L8,70L9,68L10,58L11,61L12,62L13,60L14,67L15,70L16,66L17,68L18,58L19,53L20,57L21,59L22,54L23,58L24,67L25,73L26,78L27,78L28,81L29,65L30,75L31,87L32,117L33,124L34,112L35,105L36,113L37,132L38,140L39,125L40,149L41,180L42,186L43,180L44,189L45,191L46,170M0,135L1,123L2,110L3,107L4,105L5,99L6,85L7,92L8,88L9,81L10,85L11,95L12,82L13,91L14,87L15,91L16,80L17,88L18,88L19,81L20,86L21,87L22,84L23,92L24,88L25,92L26,90L27,90L28,91L29,86L30,97L31,92L32,85L33,83L34,84L35,83L36,91L37,90L38,82L39,81L40,88L41,87L42,86L43,90L44,101L45,117L46,113M0,109L1,102L2,99L3,92L4,82L5,83L6,79L7,85L8,87L9,87L10,82L11,80L12,78L13,80L14,81L15,78L16,78L17,79L18,74L19,65L20,77L21,72L22,78L23,88L24,99L25,101L26,104L27,129L28,141L29,139L30,141L31,169L32,188L33,171L34,174L35,167L36,197L37,185L38,191L39,218L40,222L41,228L42,239L43,249L44,236L45,249L46,250M0,112L1,112L2,104L3,105L4,111L5,111L6,96L7,91L8,90L9,88L10,86L11,90L12,87L13,96L14,95L15,93L16,92L17,90L18,101L19,99L20,102L21,102L22,99L23,95L24,91L25,104L26,121L27,122L28,121L29,136L30,143L31,160L32,155L33,160L34,190L35,205L36,211L37,231L38,224L39,222L40,227L41,236L42,236L43,219L44,247L45,252L46,247M0,98L1,84L2,77L3,89L4,97L5,91L6,95L7,91L8,93L9,84L10,86L11,84L12,84L13,84L14,79L15,85L16,88L17,94L18,89L19,91L20,88L21,88L22,89L23,92L24,109L25,128L26,138L27,144L28,148L29,173L30,162L31,171L32,163L33,183L34,202L35,198L36,186L37,183L38,170L39,216L40,225L41,232L42,245L43,232L44,245L45,243L46,233M0,94L1,83L2,78L3,73L4,72L5,68L6,76L7,69L8,68L9,61L10,56L11,56L12,58L13,58L14,56L15,58L16,62L17,62L18,71L19,60L20,66L21,65L22,64L23,67L24,69L25,60L26,63L27,75L28,89L29,113L30,140L31,157L32,138L33,161L34,158L35,164L36,174L37,159L38,180L39,190L40,206L41,221L42,205L43,207L44,229L45,224L46,209M0,126L1,118L2,116L3,109L4,104L5,91L6,91L7,99L8,91L9,94L10,88L11,88L12,89L13,96L14,94L15,104L16,102L17,99L18,90L19,91L20,94L21,91L22,98L23,97L24,99L25,94L26,117L27,150L28,120L29,142L30,147L31,148L32,136L33,141L34,138L35,95L36,115L37,125L38,140L39,140L40,145L41,123L42,134L43,167L44,164L45,162L46,151M0,105L1,90L2,82L3,87L4,84L5,76L6,73L7,72L8,80L9,79L10,74L11,81L12,71L13,76L14,76L15,73L16,76L17,79L18,77L19,76L20,73L21,75L22,87L23,88L24,104L25,109L26,110L27,106L28,118L29,120L30,122L31,116L32,134L33,152L34,130L35,137L36,145L37,150L38,137L39,152L40,130L41,152L42,151L43,132L44,135L45,134L46,136M0,106L1,98L2,90L3,80L4,76L5,73L6,80L7,78L8,76L9,70L10,68L11,71L12,63L13,67L14,65L15,59L16,61L17,65L18,61L19,54L20,48L21,52L22,57L23,58L24,57L25,50L26,42L27,52L28,54L29,71L30,82L31,86L32,97L33,94L34,98L35,96L36,99L37,112L38,89L39,120L40,96L41,111L42,136L43,136L44,145L45,142L46,148M0,80L1,82L2,68L3,63L4,68L5,71L6,69L7,70L8,75L9,67L10,66L11,73L12,71L13,71L14,67L15,77L16,78L17,68L18,62L19,78L20,89L21,95L22,112L23,114L24,123L25,128L26,144L27,144L28,162L29,151L30,172L31,177L32,149L33,169L34,175L35,177L36,150L37,193L38,196L39,187L40,195L41,235L42,241L43,249L44,225L45,232L46,246M0,125L1,113L2,104L3,97L4,96L5,96L6,100L7,100L8,96L9,102L10,104L11,99L12,108L13,106L14,106L15,110L16,106L17,103L18,112L19,104L20,103L21,114L22,125L23,154L24,162L25,152L26,164L27,176L28,159L29,187L30,190L31,180L32,197L33,196L34,189L35,196L36,203L37,219L38,211L39,184L40,179L41,222L42,200L43,203L44,248L45,248L46,232M0,110L1,107L2,104L3,94L4,101L5,91L6,92L7,90L8,86L9,81L10,72L11,74L12,80L13,82L14,80L15,93L16,104L17,116L18,129L19,143L20,141L21,132L22,131L23,159L24,181L25,187L26,175L27,181L28,192L29,208L30,215L31,201L32,219L33,217L34,205L35,229L36,234L37,216L38,244L39,240L40,227L41,234L42,252L43,244L44,243L45,243L46,227M0,100L1,85L2,79L3,76L4,79L5,81L6,75L7,72L8,65L9,61L10,56L11,64L12,61L13,64L14,61L15,68L16,67L17,72L18,62L19,64L20,61L21,48L22,61L23,50L24,46L25,48L26,53L27,61L28,67L29,78L30,76L31,111L32,119L33,124L34,122L35,128L36,142L37,141L38,161L39,154L40,187L41,204L42,211L43,203L44,217L45,210L46,197M0,131L1,119L2,104L3,94L4,97L5,111L6,102L7,96L8,91L9,94L10,88L11,93L12,78L13,75L14,78L15,80L16,79L17,89L18,83L19,87L20,93L21,79L22,84L23,75L24,72L25,74L26,75L27,78L28,79L29,80L30,76L31,79L32,86L33,86L34,87L35,101L36,121L37,118L38,119L39,141L40,189L41,176L42,176L43,191L44,210L45,238L46,219M0,116L1,120L2,110L3,107L4,106L5,106L6,110L7,106L8,98L9,101L10,96L11,91L12,93L13,97L14,92L15,89L16,93L17,100L18,98L19,108L20,107L21,112L22,107L23,100L24,105L25,102L26,118L27,129L28,145L29,138L30,148L31,145L32,150L33,170L34,167L35,192L36,219L37,210L38,211L39,210L40,207L41,216L42,203L43,188L44,188L45,179L46,165M0,103L1,89L2,72L3,74L4,74L5,87L6,78L7,71L8,74L9,78L10,81L11,74L12,81L13,74L14,77L15,73L16,73L17,75L18,80L19,83L20,77L21,78L22,75L23,78L24,72L25,76L26,81L27,77L28,84L29,79L30,72L31,69L32,74L33,78L34,76L35,75L36,73L37,78L38,80L39,87L40,106L41,129L42,119L43,125L44,122L45,122L46,111M0,80L1,71L2,67L3,63L4,66L5,64L6,65L7,71L8,68L9,69L10,78L11,78L12,73L13,79L14,69L15,64L16,64L17,72L18,72L19,60L20,60L21,57L22,52L23,54L24,51L25,61L26,61L27,70L28,69L29,68L30,77L31,75L32,69L33,81L34,94L35,107L36,104L37,113L38,116L39,144L40,168L41,163L42,175L43,199L44,190L45,177L46,200M0,119L1,108L2,101L3,96L4,95L5,103L6,95L7,96L8,89L9,87L10,89L11,91L12,87L13,90L14,97L15,96L16,95L17,91L18,89L19,81L20,83L21,75L22,75L23,82L24,87L25,87L26,91L27,100L28,105L29,110L30,130L31,150L32,134L33,130L34,164L35,178L36,189L37,192L38,200L39,199L40,185L41,171L42,202L43,184L44,200L45,199L46,196M0,113L1,94L2,95L3,77L4,69L5,66L6,59L7,70L8,70L9,65L10,60L11,56L12,57L13,62L14,61L15,77L16,75L17,73L18,67L19,64L20,61L21,64L22,59L23,61L24,68L25,69L26,61L27,67L28,69L29,60L30,68L31,79L32,91L33,96L34,97L35,102L36,133L37,151L38,158L39,170L40,158L41,194L42,206L43,206L44,200L45,229L46,228M0,91L1,96L2,94L3,92L4,88L5,77L6,81L7,90L8,79L9,68L10,76L11,73L12,69L13,66L14,60L15,69L16,82L17,77L18,72L19,68L20,75L21,87L22,104L23,126L24,145L25,157L26,131L27,142L28,165L29,160L30,176L31,201L32,201L33,249L34,257L35,250L36,242L37,258L38,241L39,234L40,274L41,271L42,261L43,274L44,260L45,264L46,264M0,117L1,111L2,96L3,95L4,93L5,91L6,88L7,84L8,92L9,90L10,87L11,93L12,104L13,98L14,97L15,90L16,95L17,94L18,100L19,98L20,90L21,85L22,87L23,83L24,98L25,107L26,103L27,100L28,97L29,95L30,98L31,104L32,99L33,94L34,104L35,118L36,127L37,137L38,176L39,174L40,191L41,151L42,144L43,157L44,119L45,140L46,132M0,92L1,81L2,77L3,70L4,65L5,71L6,75L7,80L8,75L9,69L10,77L11,71L12,69L13,64L14,59L15,59L16,69L17,69L18,68L19,78L20,71L21,73L22,81L23,87L24,89L25,107L26,132L27,113L28,143L29,139L30,172L31,172L32,199L33,194L34,175L35,185L36,166L37,187L38,201L39,168L40,160L41,216L42,196L43,208L44,197L45,192L46,182M0,90L1,79L2,69L3,73L4,61L5,60L6,57L7,63L8,59L9,59L10,64L11,60L12,65L13,66L14,62L15,66L16,77L17,92L18,109L19,112L20,127L21,136L22,140L23,153L24,160L25,178L26,181L27,182L28,210L29,203L30,210L31,176L32,188L33,189L34,198L35,209L36,210L37,216L38,246L39,241L40,226L41,228L42,237L43,227L44,235L45,254L46,275M0,86L1,82L2,77L3,74L4,75L5,69L6,67L7,57L8,61L9,53L10,57L11,54L12,55L13,53L14,67L15,64L16,57L17,61L18,60L19,67L20,63L21,61L22,69L23,71L24,72L25,71L26,85L27,93L28,99L29,127L30,129L31,140L32,134L33,139L34,146L35,183L36,191L37,213L38,202L39,234L40,218L41,206L42,214L43,205L44,212L45,240L46,237M0,107L1,99L2,87L3,84L4,93L5,93L6,80L7,82L8,84L9,84L10,84L11,86L12,75L13,85L14,88L15,86L16,91L17,85L18,78L19,87L20,115L21,122L22,117L23,119L24,149L25,158L26,153L27,151L28,147L29,159L30,164L31,193L32,228L33,223L34,210L35,181L36,194L37,204L38,174L39,193L40,206L41,197L42,192L43,197L44,217L45,199L46,231M0,100L1,94L2,87L3,82L4,79L5,81L6,74L7,74L8,75L9,78L10,73L11,68L12,80L13,83L14,84L15,83L16,83L17,86L18,84L19,83L20,86L21,79L22,99L23,116L24,120L25,121L26,125L27,134L28,164L29,166L30,195L31,198L32,211L33,214L34,189L35,204L36,190L37,185L38,191L39,231L40,214L41,240L42,240L43,254L44,274L45,282L46,265M0,111L1,104L2,90L3,91L4,87L5,89L6,90L7,81L8,82L9,88L10,81L11,77L12,83L13,80L14,75L15,68L16,70L17,75L18,80L19,75L20,81L21,80L22,80L23,79L24,92L25,84L26,80L27,87L28,96L29,112L30,119L31,109L32,118L33,109L34,144L35,141L36,135L37,144L38,159L39,161L40,152L41,161L42,167L43,141L44,160L45,162L46,184M0,111L1,103L2,91L3,85L4,86L5,85L6,78L7,78L8,78L9,78L10,83L11,83L12,77L13,76L14,76L15,76L16,78L17,83L18,77L19,89L20,103L21,103L22,99L23,91L24,104L25,103L26,99L27,131L28,160L29,159L30,181L31,171L32,168L33,165L34,185L35,179L36,171L37,181L38,179L39,186L40,181L41,165L42,194L43,195L44,212L45,187L46,190M0,87L1,85L2,87L3,86L4,79L5,79L6,82L7,80L8,79L9,80L10,76L11,76L12,68L13,74L14,72L15,70L16,72L17,75L18,78L19,75L20,76L21,76L22,87L23,99L24,113L25,120L26,145L27,137L28,166L29,167L30,172L31,188L32,190L33,201L34,178L35,169L36,212L37,193L38,197L39,197L40,178L41,192L42,196L43,214L44,232L45,206L46,249M0,85L1,89L2,91L3,90L4,76L5,78L6,73L7,69L8,70L9,66L10,67L11,68L12,71L13,65L14,65L15,60L16,59L17,62L18,64L19,64L20,68L21,78L22,92L23,102L24,96L25,96L26,104L27,88L28,86L29,106L30,108L31,129L32,143L33,124L34,121L35,125L36,139L37,145L38,133L39,133L40,143L41,138L42,150L43,152L44,149L45,141L46,153M0,118L1,104L2,108L3,102L4,105L5,103L6,98L7,98L8,105L9,104L10,105L11,101L12,103L13,91L14,85L15,87L16,85L17,83L18,90L19,93L20,84L21,90L22,87L23,89L24,83L25,87L26,87L27,89L28,86L29,87L30,93L31,101L32,94L33,109L34,102L35,138L36,144L37,155L38,160L39,198L40,184L41,183L42,193L43,185L44,197L45,209L46,234M0,131L1,127L2,113L3,103L4,104L5,101L6,98L7,94L8,98L9,97L10,86L11,79L12,87L13,88L14,84L15,86L16,95L17,87L18,81L19,92L20,103L21,105L22,119L23,129L24,151L25,149L26,156L27,183L28,203L29,192L30,195L31,181L32,179L33,214L34,213L35,216L36,227L37,239L38,235L39,244L40,242L41,245L42,253L43,230L44,246L45,244L46,249M0,100L1,87L2,83L3,86L4,63L5,58L6,57L7,59L8,48L9,55L10,57L11,51L12,47L13,57L14,62L15,54L16,52L17,53L18,57L19,52L20,50L21,47L22,41L23,60L24,66L25,62L26,70L27,58L28,94L29,91L30,106L31,128L32,116L33,127L34,139L35,137L36,141L37,172L38,171L39,158L40,151L41,125L42,137L43,148L44,162L45,147L46,152M0,107L1,96L2,89L3,72L4,71L5,76L6,69L7,71L8,66L9,73L10,72L11,72L12,68L13,73L14,74L15,72L16,75L17,89L18,106L19,121L20,138L21,150L22,167L23,168L24,152L25,170L26,186L27,174L28,181L29,173L30,191L31,213L32,212L33,192L34,194L35,191L36,200L37,191L38,188L39,194L40,215L41,191L42,212L43,218L44,218L45,229L46,190M0,84L1,78L2,67L3,64L4,69L5,59L6,67L7,67L8,73L9,71L10,64L11,72L12,65L13,58L14,49L15,50L16,53L17,52L18,57L19,64L20,60L21,59L22,57L23,51L24,60L25,68L26,82L27,91L28,107L29,90L30,95L31,111L32,99L33,98L34,116L35,100L36,112L37,129L38,126L39,147L40,158L41,119L42,146L43,153L44,161L45,157L46,157M0,105L1,96L2,88L3,79L4,78L5,70L6,72L7,68L8,68L9,69L10,68L11,70L12,60L13,59L14,65L15,69L16,73L17,68L18,74L19,67L20,71L21,70L22,71L23,82L24,97L25,98L26,115L27,125L28,142L29,156L30,163L31,147L32,178L33,177L34,206L35,198L36,184L37,173L38,170L39,184L40,173L41,189L42,201L43,198L44,212L45,182L46,168M0,101L1,101L2,106L3,98L4,97L5,89L6,88L7,94L8,95L9,85L10,80L11,81L12,83L13,69L14,70L15,71L16,73L17,76L18,78L19,81L20,84L21,89L22,92L23,106L24,115L25,125L26,140L27,143L28,146L29,161L30,178L31,205L32,193L33,194L34,210L35,251L36,241L37,226L38,226L39,240L40,226L41,213L42,256L43,266L44,259L45,287L46,276M0,120L1,117L2,107L3,112L4,107L5,102L6,101L7,95L8,94L9,89L10,95L11,91L12,88L13,86L14,88L15,87L16,91L17,85L18,83L19,88L20,94L21,94L22,88L23,89L24,92L25,97L26,92L27,92L28,92L29,94L30,101L31,99L32,110L33,126L34,128L35,135L36,142L37,163L38,149L39,164L40,189L41,196L42,159L43,166L44,170L45,200L46,192M0,106L1,98L2,93L3,89L4,91L5,88L6,94L7,91L8,89L9,85L10,84L11,82L12,79L13,86L14,85L15,81L16,83L17,84L18,87L19,87L20,87L21,83L22,81L23,77L24,77L25,85L26,84L27,84L28,82L29,81L30,79L31,71L32,75L33,79L34,84L35,82L36,101L37,112L38,136L39,160L40,163L41,146L42,142L43,179L44,163L45,188L46,196M0,89L1,87L2,83L3,84L4,80L5,78L6,70L7,69L8,70L9,64L10,65L11,64L12,68L13,66L14,64L15,72L16,79L17,82L18,82L19,73L20,83L21,96L22,108L23,123L24,125L25,126L26,114L27,120L28,153L29,146L30,147L31,180L32,205L33,198L34,216L35,224L36,219L37,221L38,216L39,247L40,212L41,225L42,240L43,229L44,226L45,232L46,234M0,113L1,101L2,90L3,78L4,80L5,77L6,76L7,72L8,70L9,72L10,70L11,71L12,74L13,66L14,71L15,67L16,65L17,62L18,68L19,63L20,73L21,66L22,72L23,66L24,65L25,59L26,58L27,54L28,73L29,83L30,104L31,117L32,137L33,164L34,160L35,159L36,159L37,160L38,168L39,185L40,215L41,220L42,226L43,222L44,216L45,214L46,242M0,103L1,102L2,102L3,101L4,92L5,93L6,87L7,94L8,98L9,92L10,82L11,86L12,81L13,79L14,81L15,89L16,88L17,86L18,81L19,79L20,75L21,75L22,90L23,84L24,94L25,88L26,92L27,97L28,93L29,86L30,99L31,113L32,120L33,138L34,155L35,188L36,157L37,149L38,129L39,150L40,175L41,186L42,177L43,188L44,213L45,211L46,219M0,104L1,99L2,101L3,97L4,88L5,81L6,82L7,78L8,78L9,84L10,84L11,92L12,86L13,83L14,80L15,75L16,80L17,87L18,84L19,82L20,83L21,87L22,87L23,114L24,113L25,109L26,100L27,109L28,113L29,119L30,143L31,146L32,134L33,127L34,103L35,122L36,114L37,134L38,113L39,116L40,132L41,133L42,153L43,158L44,160L45,156L46,154M0,104L1,95L2,87L3,85L4,77L5,74L6,72L7,75L8,73L9,66L10,63L11,57L12,64L13,57L14,58L15,55L16,53L17,68L18,70L19,70L20,73L21,75L22,81L23,70L24,65L25,55L26,59L27,68L28,65L29,71L30,81L31,91L32,99L33,108L34,124L35,140L36,140L37,144L38,150L39,153L40,159L41,151L42,142L43,173L44,191L45,192L46,203M0,114L1,88L2,88L3,82L4,84L5,71L6,70L7,72L8,77L9,84L10,90L11,85L12,76L13,72L14,78L15,74L16,78L17,75L18,81L19,90L20,98L21,109L22,113L23,104L24,118L25,100L26,114L27,118L28,98L29,122L30,166L31,148L32,133L33,131L34,155L35,185L36,181L37,162L38,178L39,158L40,156L41,159L42,185L43,191L44,215L45,174L46,181M0,72L1,72L2,63L3,56L4,59L5,60L6,51L7,53L8,60L9,72L10,75L11,65L12,62L13,61L14,64L15,67L16,76L17,77L18,74L19,66L20,70L21,65L22,65L23,64L24,75L25,84L26,89L27,103L28,95L29,108L30,115L31,141L32,133L33,140L34,147L35,143L36,139L37,141L38,150L39,144L40,144L41,140L42,136L43,138L44,128L45,151L46,161M0,118L1,98L2,90L3,92L4,92L5,94L6,90L7,81L8,81L9,84L10,75L11,71L12,69L13,68L14,64L15,68L16,76L17,82L18,90L19,80L20,82L21,84L22,78L23,77L24,77L25,73L26,75L27,68L28,68L29,79L30,84L31,99L32,97L33,111L34,144L35,139L36,145L37,133L38,133L39,126L40,127L41,129L42,172L43,179L44,184L45,187L46,182M0,83L1,72L2,69L3,82L4,75L5,71L6,73L7,67L8,57L9,53L10,57L11,50L12,62L13,55L14,62L15,60L16,57L17,62L18,56L19,50L20,51L21,59L22,63L23,75L24,81L25,72L26,73L27,49L28,57L29,54L30,70L31,109L32,130L33,116L34,115L35,154L36,138L37,153L38,143L39,158L40,169L41,151L42,177L43,158L44,189L45,198L46,201M0,120L1,107L2,101L3,101L4,108L5,98L6,106L7,102L8,104L9,91L10,91L11,96L12,93L13,86L14,86L15,84L16,82L17,83L18,90L19,98L20,104L21,130L22,119L23,132L24,169L25,188L26,183L27,181L28,155L29,157L30,161L31,181L32,165L33,169L34,192L35,190L36,218L37,240L38,249L39,228L40,230L41,219L42,230L43,224L44,243L45,253L46,260M0,92L1,91L2,90L3,84L4,86L5,84L6,75L7,77L8,68L9,72L10,67L11,60L12,74L13,73L14,74L15,77L16,74L17,62L18,70L19,64L20,67L21,75L22,68L23,74L24,77L25,78L26,88L27,107L28,108L29,117L30,132L31,154L32,138L33,147L34,177L35,162L36,145L37,147L38,165L39,132L40,135L41,140L42,175L43,192L44,204L45,205L46,213M0,101L1,95L2,96L3,96L4,96L5,94L6,88L7,86L8,96L9,87L10,90L11,90L12,90L13,90L14,91L15,94L16,89L17,95L18,99L19,92L20,105L21,106L22,103L23,122L24,141L25,152L26,182L27,173L28,165L29,163L30,194L31,174L32,167L33,166L34,166L35,157L36,166L37,176L38,182L39,178L40,175L41,172L42,194L43,201L44,197L45,195L46,188M0,109L1,107L2,100L3,98L4,94L5,98L6,96L7,94L8,89L9,91L10,93L11,84L12,80L13,79L14,82L15,88L16,97L17,91L18,81L19,79L20,74L21,75L22,88L23,88L24,97L25,105L26,117L27,114L28,126L29,141L30,129L31,148L32,150L33,155L34,147L35,142L36,140L37,165L38,152L39,148L40,146L41,124L42,151L43,135L44,174L45,186L46,186M0,113L1,102L2,96L3,90L4,88L5,82L6,79L7,70L8,64L9,64L10,72L11,71L12,78L13,74L14,73L15,91L16,108L17,116L18,103L19,138L20,152L21,174L22,201L23,188L24,193L25,210L26,189L27,185L28,202L29,205L30,199L31,241L32,229L33,211L34,206L35,229L36,246L37,237L38,251L39,241L40,271L41,270L42,274L43,292L44,285L45,310L46,305M0,86L1,81L2,80L3,74L4,70L5,69L6,67L7,68L8,72L9,75L10,72L11,65L12,73L13,73L14,76L15,66L16,74L17,75L18,81L19,78L20,73L21,72L22,69L23,72L24,71L25,65L26,62L27,66L28,67L29,67L30,66L31,74L32,70L33,74L34,89L35,104L36,110L37,117L38,99L39,143L40,112L41,130L42,140L43,144L44,154L45,185L46,187M0,115L1,105L2,100L3,95L4,88L5,93L6,97L7,86L8,87L9,88L10,87L11,80L12,78L13,81L14,78L15,73L16,71L17,87L18,96L19,105L20,112L21,127L22,119L23,119L24,142L25,155L26,151L27,140L28,161L29,161L30,184L31,207L32,188L33,207L34,199L35,194L36,204L37,210L38,210L39,210L40,196L41,204L42,210L43,228L44,240L45,238L46,247M0,87L1,81L2,73L3,67L4,64L5,60L6,67L7,67L8,63L9,68L10,63L11,58L12,54L13,53L14,63L15,61L16,57L17,54L18,64L19,71L20,75L21,78L22,83L23,99L24,106L25,126L26,136L27,144L28,138L29,145L30,181L31,152L32,122L33,111L34,118L35,109L36,119L37,159L38,165L39,156L40,167L41,184L42,164L43,168L44,163L45,172L46,149M0,116L1,102L2,94L3,101L4,96L5,95L6,89L7,91L8,87L9,83L10,76L11,85L12,91L13,82L14,80L15,83L16,83L17,80L18,68L19,67L20,62L21,70L22,67L23,67L24,75L25,80L26,88L27,81L28,89L29,86L30,86L31,88L32,91L33,77L34,68L35,80L36,91L37,102L38,111L39,115L40,109L41,120L42,145L43,125L44,137L45,131L46,145M0,101L1,95L2,90L3,95L4,95L5,86L6,80L7,85L8,86L9,68L10,71L11,73L12,72L13,74L14,70L15,70L16,74L17,75L18,65L19,67L20,69L21,76L22,81L23,82L24,81L25,81L26,87L27,108L28,133L29,124L30,150L31,172L32,193L33,201L34,185L35,159L36,160L37,177L38,187L39,191L40,185L41,193L42,207L43,217L44,225L45,225L46,238M0,82L1,88L2,94L3,88L4,92L5,86L6,88L7,86L8,84L9,84L10,78L11,81L12,79L13,85L14,76L15,80L16,75L17,84L18,86L19,85L20,80L21,80L22,79L23,79L24,79L25,83L26,82L27,94L28,95L29,99L30,100L31,113L32,112L33,105L34,98L35,99L36,121L37,126L38,120L39,153L40,134L41,133L42,155L43,165L44,148L45,168L46,171M0,115L1,106L2,98L3,100L4,94L5,89L6,82L7,82L8,87L9,90L10,89L11,94L12,96L13,88L14,91L15,84L16,79L17,83L18,86L19,76L20,72L21,74L22,75L23,80L24,78L25,91L26,101L27,113L28,117L29,121L30,132L31,143L32,130L33,166L34,152L35,164L36,160L37,170L38,189L39,172L40,163L41,183L42,198L43,181L44,187L45,192L46,206M0,99L1,94L2,83L3,82L4,85L5,86L6,86L7,81L8,83L9,83L10,86L11,85L12,76L13,73L14,75L15,76L16,73L17,74L18,79L19,79L20,72L21,74L22,76L23,84L24,73L25,80L26,91L27,93L28,102L29,114L30,130L31,126L32,130L33,147L34,142L35,155L36,195L37,192L38,185L39,199L40,221L41,211L42,223L43,197L44,206L45,207L46,212M0,91L1,84L2,90L3,90L4,87L5,83L6,79L7,85L8,77L9,77L10,76L11,74L12,87L13,87L14,80L15,84L16,79L17,79L18,86L19,88L20,96L21,87L22,83L23,96L24,113L25,103L26,134L27,130L28,122L29,149L30,160L31,134L32,127L33,145L34,146L35,170L36,182L37,192L38,183L39,181L40,167L41,163L42,141L43,133L44,167L45,159L46,135M0,150L1,122L2,107L3,99L4,95L5,93L6,91L7,91L8,90L9,90L10,90L11,90L12,90L13,90L14,96L15,144L16,256L17,274L18,164L19,114L20,111L21,112L22,113L23,119L24,130L25,140L26,144L27,142L28,141L29,145L30,154L31,162L32,164L33,161L34,158L35,161L36,168L37,175L38,176L39,172L40,169L41,170L42,177L43,183L44,183L45,179L46,175" fill="none" stroke="#36b44a" stroke-width="0.34" stroke-linejoin="round" vector-effect="non-scaling-stroke" opacity="1.0"/>
<path transform="translate(282.80,195.3) scale(2.03542,-0.22950)" d="M0,76L1,68L2,69L3,69L4,69L6,73L8,75L10,76L12,76L14,84L16,84L18,76L20,73L22,77L24,78L26,75L28,83L30,87L32,81L34,89L36,83L38,82L40,76L42,84L44,84L46,76M0,110L1,94L2,81L3,75L4,70L6,80L8,75L10,70L12,74L14,73L16,78L18,87L20,88L22,87L24,81L26,81L28,85L30,78L32,75L34,78L36,75L38,68L40,70L42,73L44,70L46,76M0,88L1,83L2,78L3,67L4,72L6,78L8,76L10,76L12,82L14,85L16,86L18,90L20,84L22,83L24,87L26,82L28,85L30,76L32,79L34,84L36,83L38,88L40,87L42,84L44,84L46,85M0,105L1,97L2,91L3,88L4,87L6,90L8,85L10,90L12,91L14,92L16,92L18,88L20,88L22,87L24,98L26,91L28,102L30,89L32,93L34,90L36,90L38,87L40,88L42,86L44,92L46,85M0,112L1,91L2,82L3,75L4,69L6,74L8,69L10,69L12,72L14,74L16,67L18,72L20,76L22,76L24,80L26,79L28,83L30,81L32,82L34,75L36,76L38,76L40,84L42,90L44,92L46,90M0,113L1,96L2,92L3,91L4,85L6,81L8,79L10,84L12,80L14,86L16,90L18,85L20,85L22,81L24,88L26,80L28,82L30,82L32,79L34,82L36,85L38,84L40,85L42,79L44,77L46,75M0,124L1,111L2,103L3,101L4,101L6,99L8,95L10,98L12,97L14,93L16,99L18,100L20,105L22,103L24,107L26,101L28,105L30,101L32,95L34,94L36,100L38,100L40,94L42,97L44,103L46,97M0,87L1,85L2,80L3,86L4,89L6,82L8,89L10,86L12,91L14,93L16,94L18,88L20,90L22,89L24,86L26,85L28,84L30,85L32,84L34,86L36,97L38,90L40,88L42,89L44,87L46,88M0,72L1,66L2,67L3,68L4,75L6,73L8,71L10,70L12,68L14,68L16,69L18,60L20,50L22,54L24,64L26,62L28,68L30,73L32,82L34,76L36,74L38,65L40,71L42,75L44,74L46,61M0,111L1,97L2,97L3,102L4,103L6,88L8,91L10,97L12,94L14,96L16,103L18,101L20,99L22,94L24,98L26,102L28,105L30,106L32,106L34,105L36,107L38,106L40,109L42,102L44,103L46,103M0,96L1,96L2,88L3,88L4,93L6,91L8,82L10,80L12,85L14,87L16,85L18,85L20,79L22,83L24,76L26,79L28,76L30,80L32,83L34,87L36,86L38,89L40,84L42,79L44,82L46,89M0,109L1,108L2,108L3,104L4,93L6,94L8,98L10,104L12,106L14,105L16,98L18,100L20,95L22,97L24,96L26,90L28,98L30,99L32,97L34,104L36,106L38,97L40,106L42,98L44,98L46,99M0,120L1,113L2,108L3,106L4,106L6,109L8,112L10,105L12,94L14,91L16,98L18,95L20,94L22,98L24,101L26,108L28,102L30,105L32,106L34,99L36,105L38,104L40,107L42,107L44,104L46,110M0,121L1,110L2,107L3,109L4,107L6,103L8,97L10,96L12,97L14,99L16,99L18,101L20,105L22,100L24,114L26,145L28,95L30,96L32,91L34,91L36,91L38,89L40,90L42,99L44,102L46,97M0,116L1,108L2,105L3,99L4,99L6,100L8,108L10,106L12,97L14,92L16,96L18,97L20,98L22,96L24,92L26,93L28,87L30,91L32,103L34,102L36,96L38,92L40,104L42,103L44,98L46,100M0,82L1,70L2,76L3,72L4,62L6,69L8,73L10,74L12,76L14,70L16,73L18,65L20,65L22,78L24,83L26,80L28,80L30,77L32,78L34,77L36,72L38,71L40,64L42,64L44,68L46,72M0,133L1,117L2,118L3,105L4,100L6,101L8,104L10,104L12,103L14,105L16,99L18,106L20,101L22,102L24,97L26,96L28,102L30,104L32,102L34,105L36,118L38,100L40,91L42,96L44,91L46,99M0,116L1,89L2,84L3,77L4,82L6,79L8,73L10,71L12,72L14,80L16,77L18,73L20,72L22,76L24,94L26,85L28,82L30,79L32,78L34,75L36,64L38,73L40,80L42,77L44,77L46,70M0,113L1,101L2,96L3,94L4,99L6,84L8,86L10,85L12,79L14,81L16,88L18,82L20,80L22,79L24,79L26,91L28,134L30,102L32,80L34,83L36,79L38,84L40,85L42,79L44,83L46,88M0,122L1,108L2,98L3,99L4,97L6,90L8,89L10,88L12,88L14,94L16,97L18,89L20,98L22,87L24,87L26,98L28,98L30,99L32,96L34,96L36,91L38,97L40,93L42,90L44,83L46,96M0,116L1,112L2,108L3,101L4,103L6,96L8,94L10,103L12,103L14,97L16,96L18,98L20,101L22,102L24,106L26,91L28,99L30,92L32,94L34,98L36,105L38,101L40,96L42,95L44,100L46,112M0,101L1,88L2,83L3,85L4,79L6,72L8,73L10,68L12,72L14,77L16,74L18,79L20,83L22,88L24,81L26,81L28,83L30,83L32,85L34,83L36,84L38,85L40,84L42,83L44,82L46,80M0,98L1,100L2,95L3,83L4,84L6,86L8,94L10,94L12,96L14,92L16,90L18,84L20,91L22,92L24,89L26,91L28,98L30,100L32,102L34,104L36,102L38,99L40,98L42,99L44,90L46,94M0,95L1,84L2,85L3,76L4,74L6,71L8,69L10,70L12,73L14,72L16,76L18,78L20,71L22,72L24,71L26,66L28,60L30,69L32,72L34,77L36,82L38,81L40,79L42,81L44,77L46,73M0,90L1,96L2,89L3,85L4,82L6,81L8,83L10,84L12,88L14,77L16,81L18,90L20,89L22,86L24,95L26,90L28,92L30,91L32,89L34,84L36,87L38,88L40,96L42,87L44,81L46,87" fill="none" stroke="#4a4a4a" stroke-width="0.34" stroke-linejoin="round" vector-effect="non-scaling-stroke" opacity="1.0"/>
<path d="M282.8,103.5 V195.3M279.6,195.3 H282.8M281.0,183.8 H282.8M281.0,172.4 H282.8M281.0,160.9 H282.8M279.6,149.4 H282.8M281.0,137.9 H282.8M281.0,126.5 H282.8M281.0,115.0 H282.8M279.6,103.5 H282.8M282.0,195.3 H380.5M282.8,195.3 V198.5M295.0,195.3 V197.1M307.2,195.3 V198.5M319.4,195.3 V197.1M331.7,195.3 V198.5M343.9,195.3 V197.1M356.1,195.3 V198.5M368.3,195.3 V197.1M380.5,195.3 V198.5" fill="none" stroke="#666" stroke-width="0.6"/>
<text x="277.8" y="198.1" font-size="7.8" fill="#111" text-anchor="end" >0</text>
<text x="277.8" y="152.2" font-size="7.8" fill="#111" text-anchor="end" >1</text>
<text x="277.8" y="106.3" font-size="7.8" fill="#111" text-anchor="end" >2</text>
<text x="282.8" y="207.4" font-size="7.8" fill="#111" text-anchor="middle" >0</text>
<text x="307.2" y="207.4" font-size="7.8" fill="#111" text-anchor="middle" >6</text>
<text x="331.7" y="207.4" font-size="7.8" fill="#111" text-anchor="middle" >12</text>
<text x="356.1" y="207.4" font-size="7.8" fill="#111" text-anchor="middle" >18</text>
<text x="380.5" y="207.4" font-size="7.8" fill="#111" text-anchor="middle" >24</text>
<text x="331.4" y="95.6" font-size="7.8" fill="#111" text-anchor="middle" >Mitogens + CDH1(T129A)</text>
<path transform="translate(414.90,195.3) scale(2.03542,-0.22950)" d="M0,95L1,94L2,85L3,85L4,82L6,80L8,81L10,89L12,84L14,83L16,84L18,76L20,76L22,80L24,81L26,81L28,76L30,76L32,79L34,76L36,81L38,82L40,87L42,76L44,77L46,70M0,107L1,100L2,99L3,102L4,90L6,91L8,87L10,100L12,105L14,102L16,99L18,104L20,109L22,103L24,105L26,105L28,104L30,96L32,107L34,105L36,99L38,95L40,105L42,106L44,109L46,108M0,93L1,83L2,83L3,82L4,79L6,76L8,77L10,83L12,88L14,91L16,84L18,81L20,83L22,84L24,87L26,89L28,82L30,85L32,92L34,90L36,89L38,89L40,83L42,89L44,91L46,95M0,84L1,85L2,80L3,78L4,75L6,76L8,83L10,88L12,87L14,91L16,91L18,88L20,90L22,84L24,83L26,86L28,87L30,86L32,86L34,84L36,83L38,98L40,99L42,100L44,103L46,93M0,91L1,91L2,91L3,87L4,90L6,78L8,79L10,84L12,94L14,84L16,74L18,78L20,81L22,86L24,86L26,84L28,84L30,88L32,100L34,85L36,83L38,87L40,88L42,85L44,87L46,89M0,111L1,101L2,99L3,95L4,98L6,100L8,95L10,104L12,104L14,98L16,92L18,93L20,95L22,98L24,99L26,101L28,93L30,93L32,94L34,99L36,99L38,118L40,164L42,153L44,109L46,95M0,121L1,104L2,99L3,94L4,94L6,94L8,90L10,90L12,97L14,92L16,86L18,95L20,90L22,83L24,84L26,81L28,77L30,82L32,87L34,81L36,87L38,89L40,87L42,89L44,91L46,96M0,65L1,59L2,59L3,63L4,63L6,63L8,62L10,62L12,60L14,56L16,59L18,61L20,71L22,71L24,76L26,70L28,70L30,64L32,67L34,68L36,70L38,76L40,80L42,74L44,72L46,81M0,88L1,80L2,76L3,82L4,87L6,73L8,74L10,77L12,74L14,74L16,72L18,64L20,68L22,75L24,67L26,65L28,64L30,62L32,73L34,71L36,71L38,70L40,71L42,73L44,74L46,72M0,137L1,125L2,119L3,104L4,103L6,98L8,99L10,95L12,101L14,100L16,93L18,95L20,109L22,108L24,107L26,104L28,106L30,104L32,106L34,118L36,109L38,110L40,112L42,105L44,109L46,108M0,122L1,104L2,97L3,87L4,83L6,84L8,81L10,72L12,68L14,80L16,79L18,69L20,68L22,72L24,72L26,83L28,83L30,77L32,81L34,81L36,86L38,73L40,73L42,74L44,86L46,85M0,109L1,103L2,88L3,88L4,84L6,86L8,90L10,86L12,86L14,90L16,96L18,95L20,95L22,94L24,91L26,91L28,94L30,93L32,88L34,86L36,84L38,84L40,94L42,96L44,96L46,100M0,121L1,101L2,96L3,91L4,89L6,90L8,87L10,81L12,85L14,83L16,83L18,79L20,87L22,79L24,82L26,81L28,76L30,74L32,75L34,83L36,79L38,74L40,86L42,81L44,87L46,91M0,119L1,102L2,87L3,89L4,80L6,77L8,83L10,77L12,69L14,70L16,73L18,85L20,76L22,79L24,112L26,141L28,72L30,71L32,75L34,75L36,77L38,79L40,76L42,77L44,84L46,76M0,116L1,101L2,101L3,100L4,105L6,109L8,105L10,97L12,89L14,94L16,91L18,101L20,104L22,99L24,92L26,104L28,109L30,112L32,116L34,114L36,108L38,109L40,109L42,106L44,107L46,96M0,98L1,106L2,106L3,104L4,98L6,86L8,83L10,85L12,91L14,82L16,84L18,92L20,93L22,87L24,87L26,90L28,94L30,90L32,88L34,88L36,83L38,82L40,87L42,86L44,84L46,82M0,66L1,64L2,66L3,62L4,60L6,57L8,65L10,68L12,66L14,68L16,69L18,71L20,71L22,69L24,67L26,71L28,72L30,71L32,74L34,68L36,68L38,63L40,69L42,72L44,70L46,68M0,78L1,69L2,65L3,63L4,63L6,61L8,59L10,70L12,66L14,68L16,70L18,75L20,78L22,73L24,74L26,77L28,76L30,65L32,60L34,61L36,73L38,77L40,75L42,75L44,75L46,75M0,116L1,98L2,90L3,84L4,89L6,92L8,92L10,86L12,87L14,88L16,81L18,88L20,89L22,91L24,81L26,104L28,106L30,84L32,91L34,91L36,86L38,82L40,79L42,79L44,70L46,82M0,114L1,99L2,93L3,92L4,83L6,87L8,76L10,82L12,78L14,89L16,90L18,84L20,89L22,90L24,91L26,86L28,81L30,86L32,89L34,78L36,85L38,91L40,83L42,95L44,92L46,90M0,100L1,86L2,93L3,85L4,84L6,81L8,74L10,79L12,73L14,71L16,81L18,75L20,76L22,76L24,81L26,88L28,86L30,83L32,78L34,80L36,83L38,88L40,89L42,82L44,80L46,83M0,80L1,85L2,78L3,73L4,73L6,79L8,79L10,83L12,82L14,77L16,75L18,86L20,89L22,89L24,89L26,87L28,93L30,96L32,91L34,93L36,93L38,90L40,88L42,85L44,83L46,83M0,68L1,58L2,65L3,67L4,65L6,63L8,70L10,77L12,69L14,62L16,62L18,64L20,60L22,61L24,63L26,62L28,62L30,47L32,58L34,54L36,55L38,57L40,54L42,57L44,64L46,64M0,114L1,104L2,101L3,95L4,94L6,92L8,95L10,101L12,97L14,95L16,89L18,93L20,88L22,86L24,95L26,97L28,95L30,88L32,92L34,93L36,93L38,89L40,86L42,86L44,91L46,93M0,76L1,71L2,64L3,64L4,69L6,54L8,65L10,68L12,61L14,59L16,57L18,57L20,65L22,63L24,65L26,66L28,61L30,68L32,64L34,66L36,69L38,68L40,62L42,66L44,63L46,59M0,120L1,104L2,100L3,104L4,97L6,94L8,96L10,106L12,107L14,102L16,98L18,95L20,94L22,101L24,107L26,107L28,98L30,96L32,95L34,94L36,95L38,96L40,90L42,90L44,105L46,102M0,96L1,85L2,88L3,87L4,87L6,84L8,84L10,77L12,74L14,77L16,79L18,79L20,72L22,73L24,71L26,71L28,71L30,71L32,76L34,82L36,90L38,89L40,88L42,86L44,93L46,97M0,116L1,100L2,88L3,83L4,81L6,85L8,76L10,77L12,80L14,74L16,81L18,88L20,85L22,85L24,84L26,90L28,80L30,88L32,90L34,86L36,88L38,90L40,88L42,93L44,88L46,89M0,92L1,93L2,80L3,79L4,68L6,70L8,67L10,77L12,73L14,72L16,68L18,77L20,74L22,72L24,72L26,75L28,76L30,72L32,69L34,69L36,65L38,69L40,65L42,59L44,55L46,56M0,111L1,102L2,97L3,96L4,91L6,94L8,92L10,92L12,94L14,95L16,96L18,97L20,99L22,100L24,95L26,95L28,97L30,102L32,110L34,108L36,111L38,106L40,100L42,97L44,93L46,98M0,100L1,87L2,89L3,89L4,90L6,92L8,94L10,81L12,86L14,92L16,91L18,93L20,92L22,91L24,95L26,83L28,83L30,85L32,92L34,88L36,82L38,85L40,82L42,85L44,88L46,100M0,97L1,93L2,87L3,91L4,83L6,78L8,78L10,87L12,89L14,89L16,88L18,92L20,88L22,91L24,90L26,86L28,88L30,86L32,91L34,87L36,91L38,96L40,95L42,89L44,87L46,87M0,105L1,98L2,88L3,91L4,91L6,90L8,91L10,92L12,93L14,87L16,85L18,90L20,86L22,96L24,96L26,91L28,92L30,95L32,93L34,102L36,102L38,108L40,101L42,102L44,101L46,94M0,124L1,103L2,96L3,89L4,90L6,88L8,87L10,100L12,99L14,89L16,91L18,93L20,91L22,96L24,92L26,88L28,92L30,86L32,95L34,96L36,102L38,96L40,98L42,104L44,105L46,103M0,96L1,98L2,91L3,99L4,106L6,92L8,90L10,89L12,86L14,87L16,90L18,94L20,88L22,96L24,99L26,97L28,94L30,100L32,94L34,93L36,100L38,99L40,91L42,97L44,96L46,88M0,100L1,86L2,77L3,77L4,73L6,72L8,70L10,70L12,66L14,62L16,64L18,64L20,63L22,62L24,63L26,73L28,67L30,68L32,63L34,69L36,64L38,65L40,68L42,63L44,62L46,57M0,121L1,110L2,95L3,98L4,99L6,92L8,89L10,92L12,96L14,100L16,101L18,86L20,87L22,89L24,95L26,100L28,107L30,95L32,97L34,106L36,103L38,103L40,96L42,96L44,103L46,104M0,94L1,95L2,97L3,93L4,95L6,86L8,86L10,82L12,79L14,85L16,90L18,95L20,96L22,97L24,93L26,90L28,95L30,97L32,102L34,99L36,102L38,109L40,112L42,100L44,99L46,91M0,94L1,82L2,86L3,80L4,84L6,89L8,86L10,88L12,87L14,89L16,84L18,82L20,89L22,81L24,82L26,81L28,84L30,86L32,87L34,79L36,81L38,76L40,81L42,79L44,81L46,76M0,95L1,91L2,93L3,89L4,84L6,83L8,71L10,77L12,85L14,81L16,75L18,73L20,72L22,70L24,78L26,80L28,76L30,79L32,83L34,79L36,75L38,77L40,78L42,76L44,83L46,75M0,104L1,95L2,92L3,85L4,84L6,81L8,84L10,81L12,82L14,83L16,84L18,78L20,84L22,91L24,96L26,95L28,93L30,94L32,100L34,92L36,90L38,93L40,89L42,81L44,83L46,91M0,110L1,102L2,98L3,87L4,81L6,80L8,83L10,87L12,80L14,81L16,78L18,89L20,97L22,90L24,80L26,94L28,98L30,96L32,97L34,97L36,91L38,98L40,99L42,89L44,94L46,97M0,100L1,91L2,91L3,82L4,80L6,86L8,94L10,93L12,94L14,95L16,91L18,92L20,98L22,98L24,105L26,104L28,105L30,109L32,115L34,115L36,112L38,107L40,110L42,106L44,113L46,126M0,108L1,100L2,102L3,96L4,93L6,97L8,90L10,95L12,94L14,88L16,93L18,96L20,99L22,88L24,89L26,86L28,85L30,80L32,82L34,88L36,90L38,80L40,83L42,84L44,90L46,85M0,80L1,75L2,63L3,70L4,64L6,62L8,64L10,70L12,70L14,76L16,69L18,61L20,69L22,68L24,60L26,63L28,60L30,57L32,53L34,48L36,53L38,55L40,55L42,53L44,50L46,52M0,118L1,112L2,98L3,91L4,91L6,81L8,83L10,86L12,91L14,100L16,90L18,90L20,79L22,87L24,85L26,86L28,85L30,91L32,91L34,94L36,89L38,91L40,94L42,104L44,105L46,100M0,87L1,82L2,84L3,79L4,80L6,86L8,91L10,88L12,85L14,84L16,90L18,81L20,86L22,82L24,84L26,80L28,80L30,82L32,84L34,91L36,91L38,93L40,97L42,98L44,99L46,100M0,105L1,93L2,84L3,81L4,76L6,76L8,69L10,63L12,57L14,64L16,63L18,64L20,62L22,60L24,58L26,63L28,69L30,71L32,73L34,80L36,76L38,75L40,75L42,78L44,79L46,76M0,88L1,88L2,83L3,78L4,71L6,80L8,73L10,73L12,73L14,71L16,72L18,76L20,72L22,76L24,75L26,78L28,83L30,80L32,86L34,75L36,82L38,80L40,78L42,81L44,91L46,97M0,109L1,101L2,102L3,93L4,102L6,96L8,98L10,108L12,110L14,93L16,96L18,99L20,105L22,96L24,96L26,104L28,98L30,106L32,109L34,102L36,105L38,109L40,114L42,113L44,112L46,108M0,117L1,110L2,97L3,98L4,98L6,98L8,96L10,96L12,85L14,94L16,99L18,97L20,85L22,86L24,84L26,81L28,80L30,92L32,97L34,91L36,105L38,107L40,103L42,105L44,109L46,107M0,109L1,87L2,78L3,72L4,73L6,76L8,79L10,79L12,73L14,70L16,68L18,79L20,88L22,83L24,87L26,91L28,88L30,87L32,99L34,94L36,87L38,87L40,87L42,88L44,95L46,96M0,113L1,102L2,96L3,91L4,85L6,86L8,91L10,95L12,104L14,103L16,98L18,100L20,105L22,99L24,100L26,101L28,98L30,90L32,85L34,94L36,99L38,104L40,105L42,107L44,106L46,97M0,119L1,106L2,97L3,101L4,97L6,97L8,103L10,101L12,96L14,94L16,99L18,100L20,105L22,101L24,108L26,106L28,106L30,118L32,176L34,111L36,103L38,109L40,104L42,102L44,99L46,98M0,106L1,95L2,85L3,75L4,75L6,72L8,72L10,68L12,78L14,78L16,87L18,85L20,82L22,84L24,80L26,84L28,86L30,89L32,86L34,83L36,88L38,85L40,81L42,86L44,83L46,87M0,105L1,100L2,104L3,101L4,100L6,99L8,96L10,99L12,103L14,97L16,101L18,107L20,108L22,112L24,109L26,104L28,102L30,102L32,113L34,109L36,104L38,111L40,114L42,113L44,113L46,109M0,108L1,90L2,78L3,75L4,76L6,75L8,81L10,78L12,84L14,81L16,80L18,80L20,80L22,75L24,69L26,66L28,69L30,71L32,74L34,77L36,83L38,75L40,75L42,80L44,77L46,81M0,115L1,101L2,92L3,94L4,86L6,88L8,84L10,82L12,87L14,90L16,85L18,80L20,76L22,77L24,85L26,82L28,84L30,80L32,82L34,89L36,91L38,88L40,90L42,84L44,78L46,78M0,68L1,67L2,65L3,69L4,64L6,58L8,65L10,63L12,73L14,69L16,63L18,67L20,62L22,60L24,68L26,71L28,76L30,80L32,81L34,79L36,72L38,67L40,72L42,75L44,70L46,63M0,118L1,105L2,95L3,89L4,95L6,94L8,97L10,91L12,91L14,97L16,98L18,102L20,104L22,102L24,98L26,94L28,91L30,91L32,92L34,95L36,108L38,105L40,102L42,103L44,108L46,104" fill="none" stroke="#4a4a4a" stroke-width="0.34" stroke-linejoin="round" vector-effect="non-scaling-stroke" opacity="1.0"/>
<path transform="translate(414.90,195.3) scale(2.03542,-0.22950)" d="M0,80L1,73L2,70L3,73L4,81L5,82L6,74L7,75L8,66L9,67L10,56L11,51L12,55L13,58L14,59L15,65L16,65L17,75L18,100L19,119L20,138L21,144L22,151L23,159L24,169L25,204L26,198L27,206L28,183L29,195L30,210L31,200L32,204L33,217L34,206L35,209L36,220L37,234L38,247L39,235L40,263L41,277L42,278L43,267L44,261L45,297L46,315M0,108L1,94L2,68L3,64L4,64L5,71L6,67L7,65L8,68L9,68L10,66L11,56L12,64L13,68L14,67L15,93L16,110L17,126L18,134L19,140L20,142L21,134L22,159L23,164L24,171L25,183L26,175L27,163L28,146L29,151L30,173L31,195L32,211L33,218L34,214L35,198L36,186L37,181L38,179L39,164L40,176L41,191L42,181L43,154L44,157L45,188L46,170M0,87L1,76L2,64L3,58L4,67L5,68L6,76L7,67L8,68L9,84L10,97L11,102L12,128L13,138L14,143L15,154L16,170L17,175L18,185L19,213L20,204L21,214L22,213L23,211L24,223L25,211L26,233L27,257L28,216L29,210L30,246L31,265L32,231L33,239L34,272L35,288L36,288L37,290L38,275L39,259L40,278L41,260L42,281L43,282L44,281L45,287L46,285M0,95L1,84L2,83L3,85L4,82L5,74L6,71L7,71L8,72L9,66L10,57L11,63L12,70L13,71L14,64L15,75L16,80L17,79L18,72L19,69L20,76L21,62L22,55L23,69L24,100L25,123L26,140L27,163L28,198L29,213L30,200L31,215L32,191L33,212L34,232L35,263L36,241L37,242L38,220L39,245L40,229L41,230L42,235L43,256L44,240L45,233L46,222M0,113L1,106L2,95L3,102L4,104L5,98L6,96L7,83L8,73L9,71L10,73L11,75L12,71L13,81L14,87L15,102L16,111L17,128L18,112L19,120L20,163L21,153L22,174L23,160L24,162L25,153L26,157L27,147L28,207L29,178L30,194L31,182L32,198L33,186L34,182L35,171L36,159L37,164L38,162L39,168L40,182L41,170L42,204L43,201L44,184L45,179L46,192M0,91L1,84L2,75L3,74L4,69L5,67L6,72L7,61L8,65L9,60L10,59L11,59L12,72L13,83L14,76L15,81L16,78L17,69L18,71L19,60L20,62L21,59L22,46L23,47L24,55L25,54L26,71L27,98L28,121L29,147L30,157L31,136L32,144L33,180L34,151L35,172L36,181L37,209L38,189L39,170L40,185L41,162L42,189L43,207L44,208L45,224L46,243M0,126L1,108L2,111L3,92L4,79L5,73L6,79L7,88L8,90L9,94L10,84L11,86L12,85L13,68L14,69L15,74L16,80L17,81L18,74L19,80L20,87L21,99L22,98L23,94L24,115L25,126L26,146L27,130L28,154L29,176L30,149L31,174L32,155L33,183L34,179L35,192L36,172L37,195L38,210L39,228L40,248L41,249L42,238L43,230L44,225L45,209L46,211M0,95L1,87L2,87L3,83L4,72L5,82L6,82L7,91L8,93L9,88L10,83L11,79L12,78L13,96L14,110L15,118L16,129L17,130L18,143L19,163L20,160L21,190L22,194L23,201L24,195L25,222L26,253L27,248L28,248L29,219L30,258L31,253L32,260L33,256L34,223L35,216L36,214L37,220L38,266L39,274L40,267L41,248L42,264L43,251L44,230L45,242L46,255M0,112L1,101L2,88L3,76L4,76L5,83L6,79L7,68L8,72L9,75L10,74L11,73L12,78L13,75L14,84L15,78L16,65L17,68L18,72L19,84L20,72L21,71L22,74L23,67L24,93L25,106L26,136L27,134L28,128L29,134L30,126L31,142L32,154L33,173L34,178L35,176L36,172L37,150L38,148L39,133L40,143L41,164L42,177L43,198L44,189L45,177L46,193M0,114L1,102L2,102L3,89L4,86L5,89L6,86L7,101L8,109L9,109L10,98L11,100L12,120L13,136L14,142L15,145L16,154L17,172L18,162L19,193L20,183L21,185L22,174L23,151L24,174L25,191L26,188L27,185L28,190L29,178L30,156L31,192L32,199L33,206L34,210L35,200L36,170L37,171L38,180L39,170L40,191L41,200L42,205L43,207L44,191L45,188L46,194M0,120L1,112L2,105L3,112L4,112L5,103L6,108L7,101L8,100L9,92L10,86L11,92L12,92L13,108L14,125L15,137L16,146L17,164L18,149L19,154L20,178L21,188L22,179L23,191L24,191L25,187L26,210L27,179L28,169L29,195L30,210L31,212L32,195L33,198L34,205L35,212L36,230L37,192L38,193L39,214L40,209L41,220L42,222L43,239L44,240L45,243L46,204M0,108L1,97L2,89L3,89L4,89L5,94L6,92L7,89L8,86L9,81L10,81L11,68L12,75L13,94L14,119L15,127L16,148L17,163L18,195L19,193L20,178L21,162L22,189L23,221L24,203L25,208L26,258L27,243L28,241L29,255L30,227L31,228L32,212L33,214L34,227L35,209L36,223L37,246L38,246L39,244L40,229L41,229L42,251L43,256L44,280L45,252L46,239M0,104L1,87L2,87L3,84L4,74L5,58L6,58L7,55L8,52L9,58L10,53L11,59L12,77L13,96L14,107L15,141L16,146L17,154L18,174L19,182L20,179L21,178L22,183L23,168L24,180L25,208L26,217L27,220L28,254L29,245L30,231L31,230L32,229L33,256L34,262L35,242L36,245L37,247L38,269L39,275L40,262L41,277L42,284L43,285L44,281L45,280L46,275M0,111L1,92L2,79L3,75L4,72L5,67L6,75L7,69L8,64L9,73L10,75L11,74L12,73L13,96L14,119L15,130L16,129L17,156L18,154L19,141L20,155L21,126L22,136L23,169L24,171L25,171L26,213L27,221L28,228L29,218L30,214L31,239L32,236L33,231L34,225L35,233L36,233L37,226L38,209L39,198L40,208L41,212L42,220L43,200L44,162L45,152L46,160M0,121L1,107L2,98L3,93L4,95L5,81L6,87L7,91L8,91L9,104L10,99L11,98L12,98L13,100L14,115L15,117L16,117L17,143L18,155L19,118L20,148L21,175L22,185L23,156L24,161L25,175L26,191L27,171L28,194L29,201L30,187L31,171L32,165L33,167L34,145L35,160L36,175L37,183L38,184L39,225L40,212L41,194L42,203L43,194L44,188L45,213L46,233M0,106L1,98L2,96L3,98L4,96L5,103L6,106L7,97L8,98L9,93L10,86L11,82L12,83L13,89L14,89L15,90L16,85L17,75L18,84L19,97L20,96L21,124L22,149L23,170L24,191L25,211L26,191L27,187L28,188L29,209L30,196L31,165L32,196L33,186L34,182L35,176L36,166L37,188L38,193L39,196L40,204L41,189L42,174L43,203L44,198L45,186L46,169M0,116L1,105L2,102L3,86L4,95L5,95L6,92L7,105L8,98L9,106L10,107L11,103L12,101L13,109L14,91L15,98L16,93L17,101L18,112L19,120L20,130L21,128L22,109L23,101L24,122L25,114L26,126L27,165L28,209L29,233L30,262L31,248L32,257L33,229L34,230L35,185L36,188L37,205L38,233L39,218L40,252L41,266L42,272L43,261L44,264L45,265L46,287M0,108L1,105L2,101L3,98L4,101L5,105L6,100L7,90L8,83L9,78L10,81L11,82L12,81L13,77L14,76L15,84L16,76L17,77L18,95L19,110L20,122L21,141L22,161L23,191L24,188L25,208L26,219L27,222L28,191L29,175L30,181L31,184L32,211L33,211L34,223L35,226L36,193L37,205L38,205L39,232L40,232L41,243L42,230L43,238L44,246L45,239L46,278M0,133L1,121L2,114L3,110L4,99L5,103L6,97L7,106L8,99L9,93L10,105L11,102L12,107L13,106L14,111L15,115L16,120L17,141L18,157L19,162L20,154L21,151L22,158L23,168L24,170L25,188L26,196L27,193L28,206L29,233L30,200L31,197L32,204L33,191L34,201L35,216L36,221L37,223L38,221L39,234L40,238L41,218L42,215L43,204L44,187L45,183L46,199M0,99L1,99L2,90L3,81L4,75L5,80L6,75L7,87L8,76L9,79L10,76L11,72L12,84L13,108L14,126L15,134L16,155L17,179L18,179L19,148L20,167L21,171L22,185L23,218L24,216L25,232L26,257L27,213L28,234L29,211L30,205L31,210L32,207L33,223L34,216L35,216L36,233L37,222L38,186L39,200L40,199L41,187L42,236L43,244L44,237L45,237L46,192M0,114L1,104L2,101L3,93L4,102L5,91L6,97L7,98L8,86L9,73L10,75L11,83L12,78L13,75L14,66L15,75L16,77L17,78L18,72L19,69L20,72L21,77L22,69L23,76L24,78L25,73L26,78L27,92L28,108L29,128L30,140L31,159L32,184L33,194L34,194L35,209L36,210L37,220L38,238L39,250L40,243L41,244L42,252L43,247L44,243L45,268L46,289M0,125L1,112L2,87L3,76L4,80L5,77L6,78L7,77L8,69L9,59L10,63L11,64L12,71L13,72L14,61L15,59L16,59L17,62L18,56L19,46L20,56L21,51L22,58L23,67L24,97L25,123L26,146L27,139L28,137L29,152L30,178L31,166L32,141L33,141L34,173L35,176L36,146L37,139L38,155L39,172L40,180L41,200L42,191L43,190L44,186L45,195L46,185M0,87L1,85L2,83L3,73L4,67L5,68L6,64L7,56L8,71L9,68L10,59L11,78L12,90L13,104L14,115L15,119L16,135L17,118L18,137L19,162L20,179L21,191L22,191L23,210L24,218L25,180L26,178L27,164L28,169L29,212L30,203L31,222L32,205L33,185L34,180L35,192L36,193L37,168L38,176L39,195L40,201L41,193L42,182L43,188L44,218L45,244L46,282M0,83L1,78L2,79L3,71L4,74L5,71L6,74L7,68L8,65L9,62L10,64L11,63L12,58L13,61L14,69L15,74L16,74L17,83L18,105L19,113L20,149L21,170L22,181L23,188L24,216L25,185L26,174L27,184L28,185L29,204L30,212L31,198L32,184L33,221L34,207L35,192L36,188L37,191L38,211L39,214L40,193L41,231L42,255L43,249L44,217L45,229L46,237M0,127L1,115L2,118L3,117L4,118L5,104L6,105L7,100L8,89L9,104L10,109L11,110L12,96L13,92L14,110L15,147L16,168L17,172L18,186L19,174L20,172L21,169L22,155L23,182L24,155L25,163L26,169L27,145L28,132L29,152L30,145L31,156L32,155L33,161L34,157L35,159L36,178L37,152L38,143L39,160L40,171L41,184L42,186L43,145L44,171L45,161L46,164M0,131L1,104L2,102L3,101L4,110L5,107L6,111L7,104L8,88L9,75L10,84L11,87L12,87L13,94L14,91L15,87L16,112L17,130L18,139L19,148L20,162L21,188L22,184L23,188L24,194L25,174L26,159L27,167L28,165L29,153L30,151L31,132L32,164L33,176L34,197L35,154L36,161L37,170L38,161L39,180L40,179L41,186L42,183L43,177L44,170L45,173L46,196M0,89L1,89L2,79L3,75L4,77L5,77L6,86L7,77L8,79L9,84L10,72L11,70L12,73L13,73L14,73L15,80L16,83L17,73L18,67L19,62L20,73L21,91L22,106L23,125L24,141L25,137L26,110L27,115L28,107L29,101L30,113L31,158L32,151L33,166L34,176L35,173L36,155L37,188L38,181L39,208L40,200L41,188L42,181L43,168L44,156L45,169L46,155M0,124L1,117L2,107L3,107L4,99L5,95L6,94L7,91L8,96L9,86L10,79L11,71L12,74L13,75L14,72L15,79L16,73L17,70L18,83L19,80L20,83L21,93L22,113L23,134L24,151L25,175L26,186L27,199L28,198L29,208L30,219L31,243L32,235L33,223L34,227L35,227L36,233L37,262L38,256L39,288L40,301L41,291L42,282L43,280L44,263L45,274L46,281M0,97L1,81L2,81L3,84L4,75L5,71L6,74L7,74L8,69L9,65L10,73L11,62L12,56L13,61L14,65L15,62L16,59L17,69L18,95L19,117L20,142L21,158L22,189L23,214L24,203L25,199L26,208L27,208L28,225L29,225L30,258L31,236L32,214L33,214L34,214L35,214L36,212L37,207L38,225L39,230L40,229L41,210L42,229L43,256L44,250L45,248L46,266M0,110L1,103L2,93L3,85L4,86L5,74L6,71L7,71L8,69L9,57L10,59L11,58L12,67L13,85L14,112L15,140L16,157L17,145L18,173L19,227L20,222L21,254L22,274L23,274L24,269L25,291L26,251L27,248L28,234L29,248L30,251L31,258L32,266L33,298L34,310L35,296L36,281L37,295L38,291L39,298L40,244L41,267L42,282L43,234L44,243L45,254L46,228M0,112L1,102L2,100L3,93L4,87L5,93L6,93L7,84L8,79L9,72L10,69L11,67L12,63L13,81L14,93L15,99L16,105L17,104L18,116L19,128L20,128L21,159L22,171L23,191L24,194L25,206L26,181L27,184L28,208L29,201L30,211L31,190L32,171L33,163L34,214L35,227L36,214L37,225L38,225L39,234L40,227L41,228L42,248L43,257L44,254L45,259L46,255M0,104L1,102L2,105L3,103L4,105L5,91L6,90L7,86L8,74L9,76L10,77L11,78L12,80L13,79L14,88L15,83L16,81L17,70L18,84L19,98L20,113L21,129L22,139L23,148L24,144L25,176L26,156L27,157L28,140L29,165L30,163L31,166L32,148L33,183L34,172L35,193L36,190L37,188L38,184L39,173L40,185L41,196L42,231L43,192L44,187L45,173L46,169M0,106L1,99L2,93L3,91L4,86L5,93L6,89L7,84L8,81L9,83L10,78L11,97L12,117L13,135L14,146L15,140L16,140L17,156L18,161L19,154L20,136L21,132L22,151L23,121L24,164L25,125L26,125L27,161L28,159L29,156L30,130L31,135L32,151L33,144L34,154L35,148L36,146L37,145L38,175L39,193L40,207L41,177L42,156L43,144L44,147L45,167L46,191M0,130L1,129L2,125L3,111L4,108L5,108L6,98L7,107L8,103L9,107L10,102L11,110L12,138L13,166L14,190L15,220L16,207L17,191L18,221L19,228L20,256L21,266L22,261L23,265L24,258L25,245L26,254L27,250L28,253L29,253L30,235L31,242L32,254L33,243L34,261L35,253L36,292L37,246L38,271L39,296L40,292L41,269L42,267L43,298L44,285L45,287L46,282M0,129L1,120L2,105L3,95L4,89L5,88L6,90L7,91L8,82L9,75L10,93L11,90L12,83L13,90L14,82L15,81L16,88L17,90L18,98L19,94L20,95L21,87L22,86L23,94L24,90L25,106L26,113L27,132L28,165L29,176L30,202L31,203L32,184L33,196L34,186L35,193L36,216L37,214L38,213L39,191L40,188L41,195L42,177L43,202L44,219L45,222L46,210M0,121L1,100L2,92L3,88L4,88L5,77L6,77L7,81L8,83L9,76L10,94L11,116L12,134L13,154L14,145L15,150L16,164L17,180L18,201L19,173L20,179L21,179L22,182L23,176L24,184L25,202L26,208L27,212L28,204L29,239L30,208L31,217L32,221L33,231L34,218L35,224L36,206L37,205L38,227L39,223L40,245L41,246L42,223L43,224L44,207L45,211L46,231M0,116L1,106L2,97L3,100L4,92L5,92L6,92L7,88L8,92L9,94L10,95L11,100L12,96L13,97L14,89L15,122L16,141L17,148L18,166L19,196L20,205L21,198L22,192L23,216L24,191L25,179L26,208L27,219L28,222L29,212L30,198L31,191L32,184L33,179L34,189L35,168L36,210L37,184L38,178L39,186L40,189L41,190L42,186L43,202L44,189L45,201L46,194M0,104L1,93L2,94L3,91L4,100L5,84L6,89L7,86L8,88L9,101L10,89L11,90L12,84L13,87L14,78L15,82L16,88L17,85L18,92L19,96L20,93L21,101L22,98L23,97L24,97L25,94L26,101L27,115L28,127L29,125L30,174L31,169L32,178L33,206L34,236L35,225L36,228L37,226L38,210L39,215L40,201L41,223L42,252L43,231L44,234L45,223L46,252M0,106L1,88L2,89L3,86L4,71L5,71L6,60L7,70L8,67L9,62L10,67L11,62L12,60L13,63L14,67L15,69L16,72L17,70L18,88L19,99L20,112L21,131L22,131L23,160L24,143L25,160L26,165L27,173L28,194L29,209L30,252L31,256L32,239L33,238L34,239L35,241L36,223L37,216L38,246L39,224L40,214L41,243L42,238L43,221L44,238L45,258L46,236M0,121L1,109L2,104L3,92L4,97L5,91L6,99L7,101L8,108L9,99L10,103L11,100L12,102L13,90L14,100L15,102L16,92L17,93L18,98L19,89L20,96L21,86L22,83L23,84L24,83L25,107L26,125L27,145L28,161L29,176L30,188L31,188L32,197L33,219L34,240L35,243L36,246L37,270L38,247L39,231L40,242L41,234L42,242L43,230L44,243L45,253L46,257M0,118L1,107L2,99L3,95L4,95L5,94L6,89L7,96L8,89L9,87L10,74L11,72L12,84L13,111L14,130L15,155L16,166L17,171L18,196L19,206L20,196L21,231L22,242L23,234L24,244L25,263L26,259L27,239L28,201L29,222L30,231L31,242L32,248L33,242L34,240L35,267L36,245L37,239L38,231L39,253L40,283L41,268L42,275L43,254L44,235L45,269L46,253M0,127L1,110L2,115L3,99L4,90L5,90L6,85L7,87L8,90L9,109L10,131L11,141L12,163L13,175L14,189L15,185L16,188L17,191L18,236L19,250L20,241L21,221L22,223L23,237L24,249L25,275L26,270L27,287L28,273L29,267L30,285L31,265L32,304L33,285L34,306L35,280L36,272L37,259L38,264L39,276L40,293L41,296L42,290L43,265L44,251L45,297L46,267M0,115L1,89L2,80L3,80L4,77L5,80L6,78L7,72L8,68L9,64L10,60L11,59L12,70L13,71L14,70L15,58L16,61L17,58L18,79L19,88L20,121L21,131L22,139L23,129L24,113L25,146L26,170L27,182L28,190L29,168L30,180L31,169L32,190L33,198L34,194L35,211L36,180L37,190L38,226L39,215L40,220L41,226L42,208L43,226L44,246L45,244L46,222M0,86L1,95L2,91L3,91L4,91L5,88L6,74L7,78L8,88L9,87L10,78L11,86L12,73L13,79L14,68L15,78L16,82L17,83L18,86L19,78L20,71L21,102L22,121L23,143L24,146L25,181L26,181L27,211L28,218L29,194L30,180L31,174L32,152L33,148L34,150L35,173L36,182L37,184L38,199L39,193L40,193L41,191L42,168L43,186L44,207L45,225L46,207M0,110L1,98L2,93L3,92L4,92L5,90L6,76L7,84L8,75L9,83L10,100L11,115L12,123L13,111L14,115L15,125L16,167L17,166L18,160L19,174L20,185L21,183L22,190L23,161L24,153L25,193L26,170L27,149L28,132L29,134L30,176L31,207L32,223L33,254L34,258L35,249L36,197L37,213L38,195L39,194L40,169L41,174L42,148L43,186L44,208L45,199L46,168M0,91L1,88L2,84L3,80L4,76L5,61L6,54L7,59L8,63L9,67L10,64L11,56L12,65L13,75L14,91L15,99L16,110L17,111L18,108L19,125L20,128L21,139L22,147L23,149L24,148L25,138L26,153L27,171L28,164L29,188L30,185L31,197L32,167L33,167L34,160L35,135L36,121L37,145L38,184L39,135L40,139L41,170L42,178L43,165L44,127L45,139L46,171M0,136L1,124L2,106L3,100L4,96L5,99L6,108L7,105L8,106L9,116L10,94L11,103L12,101L13,107L14,109L15,108L16,96L17,126L18,149L19,165L20,188L21,206L22,232L23,234L24,232L25,249L26,253L27,225L28,247L29,239L30,223L31,219L32,209L33,215L34,206L35,197L36,200L37,225L38,228L39,233L40,240L41,245L42,236L43,248L44,255L45,215L46,211M0,127L1,113L2,109L3,106L4,91L5,82L6,84L7,75L8,88L9,81L10,82L11,88L12,82L13,77L14,81L15,76L16,82L17,84L18,88L19,86L20,81L21,76L22,68L23,62L24,85L25,97L26,113L27,107L28,119L29,122L30,135L31,131L32,136L33,169L34,158L35,144L36,170L37,178L38,178L39,209L40,209L41,191L42,199L43,185L44,175L45,189L46,164M0,110L1,94L2,84L3,80L4,87L5,75L6,72L7,75L8,89L9,83L10,84L11,83L12,75L13,75L14,80L15,97L16,119L17,139L18,142L19,143L20,144L21,191L22,188L23,217L24,210L25,238L26,224L27,208L28,223L29,243L30,234L31,238L32,231L33,223L34,248L35,274L36,276L37,284L38,276L39,271L40,254L41,266L42,269L43,281L44,283L45,261L46,238M0,79L1,69L2,65L3,59L4,59L5,55L6,45L7,41L8,42L9,42L10,35L11,44L12,49L13,42L14,44L15,40L16,38L17,35L18,66L19,90L20,118L21,130L22,133L23,153L24,183L25,221L26,205L27,203L28,181L29,178L30,204L31,215L32,203L33,180L34,186L35,227L36,199L37,204L38,187L39,184L40,196L41,184L42,189L43,190L44,190L45,196L46,170M0,120L1,111L2,113L3,106L4,100L5,102L6,98L7,98L8,103L9,102L10,104L11,104L12,111L13,109L14,107L15,103L16,106L17,94L18,89L19,101L20,107L21,125L22,150L23,155L24,176L25,168L26,170L27,200L28,200L29,189L30,188L31,209L32,227L33,243L34,198L35,182L36,186L37,215L38,203L39,187L40,141L41,142L42,186L43,224L44,226L45,227L46,226M0,123L1,110L2,97L3,88L4,95L5,89L6,83L7,76L8,79L9,84L10,75L11,62L12,62L13,67L14,72L15,100L16,128L17,151L18,150L19,162L20,165L21,175L22,178L23,187L24,169L25,179L26,153L27,152L28,144L29,146L30,162L31,187L32,176L33,198L34,186L35,182L36,161L37,160L38,203L39,202L40,207L41,210L42,174L43,166L44,176L45,156L46,180M0,85L1,91L2,88L3,88L4,93L5,83L6,79L7,83L8,84L9,86L10,75L11,78L12,78L13,82L14,73L15,72L16,87L17,124L18,151L19,161L20,166L21,180L22,152L23,174L24,215L25,234L26,208L27,213L28,244L29,227L30,228L31,219L32,216L33,214L34,179L35,220L36,238L37,240L38,252L39,252L40,250L41,257L42,270L43,277L44,272L45,296L46,285M0,130L1,110L2,104L3,104L4,111L5,109L6,112L7,115L8,114L9,112L10,111L11,109L12,99L13,89L14,86L15,98L16,113L17,121L18,126L19,149L20,168L21,171L22,165L23,134L24,162L25,169L26,166L27,167L28,163L29,173L30,171L31,167L32,180L33,155L34,161L35,154L36,119L37,85L38,129L39,176L40,183L41,199L42,209L43,199L44,191L45,212L46,207M0,143L1,129L2,112L3,108L4,108L5,98L6,103L7,92L8,100L9,104L10,110L11,95L12,96L13,96L14,98L15,94L16,103L17,104L18,118L19,124L20,131L21,120L22,128L23,129L24,147L25,131L26,146L27,171L28,174L29,180L30,172L31,174L32,186L33,184L34,205L35,186L36,187L37,203L38,223L39,191L40,204L41,199L42,203L43,207L44,206L45,216L46,212M0,94L1,81L2,83L3,82L4,78L5,68L6,69L7,69L8,70L9,72L10,70L11,67L12,67L13,51L14,60L15,65L16,67L17,62L18,64L19,63L20,64L21,71L22,90L23,120L24,144L25,164L26,177L27,183L28,204L29,202L30,211L31,223L32,223L33,229L34,254L35,256L36,253L37,241L38,228L39,233L40,238L41,259L42,238L43,258L44,251L45,250L46,262M0,113L1,106L2,95L3,85L4,82L5,81L6,72L7,79L8,76L9,97L10,120L11,137L12,163L13,186L14,198L15,183L16,214L17,234L18,212L19,198L20,209L21,230L22,240L23,222L24,237L25,251L26,262L27,259L28,249L29,241L30,262L31,267L32,268L33,274L34,283L35,285L36,295L37,266L38,284L39,293L40,276L41,284L42,268L43,274L44,265L45,222L46,249M0,98L1,98L2,92L3,86L4,84L5,83L6,89L7,94L8,104L9,88L10,78L11,75L12,82L13,83L14,92L15,95L16,92L17,89L18,101L19,93L20,95L21,125L22,151L23,173L24,195L25,186L26,200L27,194L28,207L29,189L30,188L31,196L32,207L33,179L34,201L35,199L36,211L37,228L38,254L39,266L40,274L41,278L42,242L43,230L44,230L45,231L46,252M0,98L1,81L2,68L3,71L4,74L5,64L6,54L7,58L8,54L9,62L10,63L11,63L12,47L13,60L14,59L15,53L16,57L17,56L18,60L19,70L20,61L21,67L22,60L23,70L24,85L25,111L26,122L27,137L28,138L29,137L30,135L31,118L32,107L33,120L34,150L35,164L36,197L37,175L38,176L39,183L40,212L41,198L42,213L43,234L44,250L45,237L46,233M0,88L1,84L2,87L3,84L4,100L5,96L6,92L7,86L8,72L9,73L10,76L11,79L12,98L13,122L14,139L15,142L16,136L17,162L18,157L19,151L20,138L21,137L22,158L23,170L24,169L25,182L26,196L27,201L28,162L29,164L30,159L31,191L32,212L33,206L34,181L35,195L36,185L37,172L38,191L39,188L40,184L41,168L42,158L43,190L44,174L45,149L46,179M0,101L1,88L2,81L3,77L4,86L5,82L6,84L7,78L8,70L9,67L10,57L11,72L12,62L13,71L14,66L15,64L16,61L17,59L18,55L19,58L20,61L21,49L22,44L23,52L24,63L25,65L26,58L27,80L28,89L29,98L30,107L31,105L32,146L33,140L34,148L35,138L36,134L37,140L38,147L39,159L40,147L41,171L42,185L43,188L44,177L45,197L46,191M0,106L1,90L2,75L3,80L4,83L5,86L6,81L7,87L8,91L9,92L10,89L11,84L12,80L13,76L14,75L15,83L16,111L17,142L18,161L19,190L20,229L21,206L22,204L23,208L24,214L25,216L26,230L27,232L28,240L29,245L30,255L31,216L32,258L33,257L34,273L35,297L36,271L37,274L38,273L39,279L40,251L41,246L42,276L43,265L44,261L45,244L46,253M0,119L1,109L2,106L3,110L4,104L5,104L6,104L7,102L8,100L9,91L10,94L11,92L12,87L13,107L14,137L15,154L16,175L17,197L18,199L19,186L20,203L21,209L22,237L23,225L24,217L25,192L26,190L27,168L28,144L29,163L30,179L31,210L32,202L33,212L34,211L35,196L36,196L37,200L38,199L39,205L40,214L41,195L42,194L43,207L44,195L45,219L46,204M0,100L1,74L2,72L3,70L4,64L5,68L6,66L7,67L8,75L9,81L10,73L11,76L12,90L13,121L14,140L15,139L16,150L17,159L18,162L19,138L20,151L21,146L22,160L23,184L24,202L25,195L26,195L27,170L28,196L29,211L30,221L31,214L32,192L33,207L34,228L35,252L36,251L37,263L38,234L39,259L40,285L41,264L42,245L43,252L44,268L45,260L46,224M0,130L1,117L2,101L3,101L4,97L5,92L6,88L7,85L8,74L9,80L10,80L11,86L12,79L13,79L14,76L15,94L16,119L17,142L18,149L19,162L20,201L21,229L22,237L23,237L24,229L25,228L26,222L27,206L28,196L29,202L30,236L31,226L32,205L33,225L34,230L35,232L36,233L37,221L38,247L39,270L40,255L41,257L42,254L43,254L44,255L45,220L46,216M0,87L1,83L2,69L3,71L4,75L5,83L6,86L7,76L8,80L9,67L10,68L11,71L12,63L13,62L14,60L15,58L16,68L17,67L18,66L19,68L20,66L21,72L22,63L23,60L24,82L25,98L26,114L27,130L28,150L29,161L30,167L31,170L32,209L33,218L34,224L35,205L36,194L37,206L38,223L39,239L40,241L41,249L42,246L43,239L44,237L45,237L46,252M0,108L1,91L2,80L3,73L4,66L5,59L6,59L7,53L8,53L9,55L10,52L11,51L12,51L13,57L14,54L15,50L16,55L17,62L18,55L19,63L20,55L21,62L22,66L23,65L24,90L25,122L26,153L27,171L28,190L29,213L30,205L31,168L32,170L33,166L34,189L35,215L36,196L37,208L38,189L39,201L40,210L41,203L42,204L43,212L44,227L45,228L46,205M0,114L1,103L2,100L3,91L4,82L5,82L6,85L7,90L8,81L9,76L10,80L11,81L12,74L13,76L14,75L15,81L16,87L17,87L18,85L19,84L20,84L21,109L22,123L23,132L24,142L25,156L26,168L27,188L28,164L29,140L30,143L31,159L32,123L33,132L34,161L35,135L36,122L37,106L38,110L39,171L40,138L41,135L42,139L43,149L44,171L45,189L46,165M0,118L1,96L2,86L3,80L4,79L5,67L6,59L7,67L8,63L9,63L10,72L11,73L12,76L13,71L14,66L15,70L16,70L17,64L18,58L19,81L20,96L21,108L22,124L23,116L24,115L25,151L26,176L27,195L28,210L29,226L30,221L31,223L32,239L33,253L34,211L35,214L36,223L37,198L38,205L39,222L40,226L41,239L42,195L43,189L44,195L45,194L46,239M0,118L1,101L2,97L3,87L4,70L5,67L6,73L7,76L8,70L9,71L10,76L11,71L12,76L13,73L14,78L15,84L16,84L17,89L18,79L19,93L20,104L21,105L22,129L23,121L24,91L25,99L26,106L27,121L28,147L29,160L30,177L31,190L32,188L33,181L34,194L35,196L36,195L37,179L38,191L39,154L40,142L41,151L42,156L43,176L44,201L45,170L46,179M0,143L1,121L2,119L3,115L4,108L5,92L6,87L7,94L8,94L9,88L10,82L11,85L12,79L13,76L14,91L15,86L16,85L17,83L18,100L19,127L20,147L21,169L22,183L23,196L24,199L25,213L26,203L27,223L28,223L29,228L30,213L31,203L32,210L33,218L34,220L35,184L36,189L37,212L38,204L39,207L40,212L41,215L42,177L43,184L44,193L45,164L46,164M0,117L1,92L2,103L3,109L4,103L5,99L6,99L7,100L8,97L9,90L10,93L11,86L12,89L13,88L14,87L15,94L16,91L17,95L18,94L19,118L20,128L21,143L22,159L23,171L24,190L25,196L26,206L27,238L28,238L29,219L30,245L31,260L32,220L33,243L34,228L35,230L36,228L37,233L38,244L39,265L40,248L41,249L42,258L43,250L44,223L45,245L46,234M0,134L1,119L2,117L3,119L4,121L5,114L6,105L7,102L8,97L9,91L10,97L11,81L12,87L13,88L14,91L15,95L16,116L17,131L18,157L19,175L20,177L21,194L22,201L23,204L24,187L25,180L26,167L27,167L28,184L29,200L30,211L31,217L32,202L33,224L34,254L35,240L36,242L37,249L38,243L39,259L40,241L41,264L42,244L43,262L44,265L45,250L46,261M0,104L1,92L2,86L3,82L4,77L5,84L6,84L7,82L8,76L9,70L10,71L11,78L12,81L13,80L14,69L15,81L16,72L17,70L18,72L19,91L20,92L21,96L22,101L23,131L24,155L25,172L26,175L27,177L28,169L29,181L30,205L31,208L32,215L33,193L34,211L35,198L36,179L37,197L38,218L39,187L40,171L41,197L42,223L43,231L44,245L45,265L46,271M0,88L1,85L2,73L3,71L4,66L5,67L6,62L7,57L8,62L9,71L10,68L11,80L12,96L13,110L14,122L15,139L16,143L17,163L18,165L19,157L20,161L21,178L22,193L23,182L24,210L25,190L26,155L27,136L28,117L29,134L30,133L31,140L32,130L33,141L34,133L35,136L36,156L37,156L38,167L39,143L40,115L41,138L42,142L43,138L44,112L45,119L46,127M0,118L1,108L2,98L3,86L4,79L5,93L6,90L7,84L8,87L9,83L10,80L11,85L12,84L13,73L14,63L15,63L16,59L17,66L18,70L19,69L20,84L21,95L22,113L23,120L24,135L25,142L26,139L27,164L28,159L29,156L30,194L31,196L32,190L33,195L34,197L35,203L36,206L37,212L38,219L39,205L40,182L41,156L42,148L43,189L44,214L45,178L46,185M0,112L1,111L2,102L3,106L4,95L5,83L6,83L7,93L8,85L9,88L10,98L11,91L12,85L13,78L14,80L15,81L16,92L17,101L18,103L19,103L20,99L21,94L22,114L23,114L24,123L25,145L26,144L27,133L28,149L29,148L30,162L31,173L32,207L33,182L34,207L35,206L36,179L37,180L38,167L39,154L40,150L41,140L42,164L43,215L44,224L45,209L46,190M0,103L1,96L2,84L3,74L4,70L5,56L6,66L7,59L8,57L9,53L10,46L11,44L12,42L13,32L14,37L15,42L16,50L17,48L18,48L19,54L20,60L21,65L22,63L23,93L24,113L25,144L26,158L27,145L28,166L29,191L30,212L31,233L32,243L33,255L34,250L35,270L36,296L37,307L38,292L39,289L40,271L41,265L42,266L43,287L44,277L45,291L46,254M0,132L1,112L2,103L3,98L4,100L5,96L6,100L7,98L8,102L9,106L10,100L11,105L12,100L13,94L14,94L15,105L16,105L17,111L18,101L19,118L20,124L21,133L22,153L23,150L24,162L25,147L26,145L27,156L28,192L29,202L30,213L31,206L32,182L33,181L34,205L35,227L36,209L37,182L38,198L39,208L40,206L41,169L42,199L43,247L44,253L45,257L46,248M0,108L1,90L2,88L3,89L4,89L5,81L6,71L7,71L8,72L9,70L10,62L11,76L12,98L13,112L14,133L15,150L16,149L17,164L18,162L19,183L20,184L21,183L22,181L23,178L24,165L25,167L26,165L27,214L28,224L29,228L30,224L31,217L32,231L33,211L34,208L35,191L36,204L37,233L38,211L39,200L40,227L41,219L42,239L43,234L44,231L45,224L46,226M0,83L1,79L2,79L3,74L4,75L5,80L6,75L7,73L8,71L9,71L10,62L11,86L12,112L13,139L14,169L15,174L16,150L17,172L18,179L19,209L20,196L21,206L22,196L23,207L24,239L25,256L26,259L27,267L28,265L29,256L30,275L31,282L32,275L33,282L34,278L35,287L36,250L37,236L38,232L39,240L40,236L41,244L42,236L43,248L44,283L45,263L46,254M0,115L1,102L2,100L3,104L4,90L5,85L6,89L7,89L8,88L9,87L10,85L11,72L12,59L13,55L14,69L15,76L16,81L17,85L18,83L19,81L20,100L21,115L22,135L23,133L24,161L25,189L26,174L27,154L28,170L29,173L30,181L31,180L32,167L33,193L34,178L35,197L36,207L37,199L38,206L39,218L40,230L41,236L42,176L43,212L44,234L45,207L46,203M0,103L1,88L2,86L3,70L4,56L5,65L6,66L7,66L8,69L9,74L10,66L11,79L12,109L13,133L14,140L15,164L16,161L17,186L18,188L19,173L20,180L21,148L22,156L23,166L24,174L25,184L26,195L27,206L28,212L29,200L30,221L31,227L32,225L33,222L34,217L35,168L36,170L37,170L38,160L39,181L40,206L41,212L42,199L43,203L44,207L45,191L46,199M0,125L1,112L2,108L3,101L4,100L5,100L6,90L7,84L8,80L9,76L10,85L11,84L12,93L13,99L14,106L15,134L16,153L17,180L18,168L19,172L20,210L21,205L22,222L23,239L24,239L25,244L26,246L27,247L28,218L29,238L30,255L31,239L32,218L33,223L34,224L35,233L36,232L37,231L38,214L39,235L40,229L41,244L42,243L43,217L44,228L45,236L46,231M0,106L1,84L2,73L3,78L4,77L5,68L6,61L7,51L8,56L9,57L10,65L11,70L12,93L13,114L14,121L15,152L16,173L17,191L18,174L19,171L20,166L21,172L22,183L23,183L24,161L25,181L26,188L27,184L28,196L29,182L30,182L31,197L32,210L33,210L34,196L35,201L36,198L37,190L38,209L39,180L40,183L41,211L42,166L43,195L44,206L45,203L46,167M0,97L1,97L2,87L3,87L4,88L5,84L6,84L7,84L8,80L9,81L10,74L11,72L12,86L13,107L14,110L15,120L16,146L17,181L18,185L19,236L20,239L21,232L22,234L23,232L24,222L25,222L26,239L27,234L28,246L29,249L30,243L31,243L32,261L33,263L34,252L35,237L36,239L37,231L38,266L39,260L40,248L41,237L42,243L43,231L44,252L45,223L46,220M0,123L1,109L2,105L3,98L4,91L5,88L6,85L7,89L8,95L9,86L10,85L11,90L12,98L13,97L14,86L15,88L16,85L17,84L18,83L19,85L20,88L21,74L22,83L23,77L24,100L25,118L26,150L27,171L28,164L29,178L30,178L31,170L32,181L33,186L34,166L35,163L36,166L37,164L38,185L39,182L40,179L41,175L42,202L43,205L44,188L45,188L46,204M0,101L1,88L2,80L3,83L4,76L5,62L6,64L7,58L8,54L9,56L10,58L11,63L12,69L13,68L14,60L15,85L16,111L17,125L18,151L19,139L20,162L21,153L22,136L23,146L24,151L25,160L26,187L27,178L28,177L29,168L30,178L31,172L32,184L33,203L34,196L35,219L36,224L37,225L38,211L39,254L40,239L41,205L42,220L43,239L44,204L45,217L46,207M0,118L1,99L2,90L3,81L4,75L5,73L6,78L7,77L8,82L9,74L10,73L11,66L12,68L13,81L14,80L15,82L16,77L17,86L18,109L19,143L20,141L21,164L22,170L23,182L24,187L25,212L26,207L27,216L28,209L29,240L30,230L31,230L32,235L33,253L34,234L35,223L36,201L37,206L38,216L39,253L40,225L41,225L42,208L43,213L44,213L45,227L46,226M0,125L1,114L2,104L3,98L4,94L5,98L6,102L7,96L8,98L9,100L10,97L11,116L12,129L13,146L14,168L15,175L16,214L17,210L18,232L19,215L20,211L21,234L22,222L23,221L24,239L25,221L26,232L27,236L28,256L29,226L30,229L31,223L32,206L33,216L34,233L35,260L36,253L37,257L38,244L39,284L40,311L41,279L42,250L43,244L44,253L45,250L46,237M0,79L1,85L2,94L3,89L4,81L5,68L6,60L7,66L8,66L9,64L10,75L11,76L12,67L13,68L14,75L15,64L16,78L17,102L18,112L19,129L20,152L21,158L22,165L23,160L24,157L25,206L26,175L27,174L28,161L29,156L30,169L31,166L32,185L33,168L34,166L35,186L36,163L37,146L38,138L39,144L40,168L41,160L42,171L43,159L44,159L45,135L46,115M0,119L1,95L2,78L3,69L4,68L5,71L6,72L7,68L8,65L9,45L10,41L11,57L12,66L13,79L14,96L15,101L16,96L17,123L18,138L19,135L20,119L21,160L22,140L23,144L24,138L25,146L26,148L27,142L28,171L29,173L30,162L31,158L32,190L33,190L34,201L35,201L36,215L37,201L38,200L39,185L40,158L41,181L42,192L43,198L44,206L45,194L46,187M0,109L1,97L2,93L3,99L4,83L5,86L6,85L7,84L8,72L9,74L10,77L11,87L12,88L13,81L14,79L15,68L16,69L17,71L18,74L19,87L20,111L21,128L22,141L23,135L24,148L25,149L26,140L27,118L28,97L29,113L30,110L31,132L32,146L33,146L34,175L35,154L36,157L37,136L38,154L39,129L40,147L41,132L42,158L43,159L44,183L45,161L46,178M0,113L1,91L2,88L3,77L4,75L5,71L6,69L7,65L8,62L9,61L10,62L11,71L12,73L13,73L14,73L15,86L16,94L17,104L18,132L19,141L20,164L21,169L22,162L23,137L24,141L25,184L26,225L27,229L28,222L29,219L30,226L31,214L32,249L33,272L34,242L35,254L36,240L37,259L38,261L39,265L40,265L41,243L42,244L43,219L44,217L45,210L46,230M0,121L1,110L2,99L3,101L4,105L5,100L6,87L7,83L8,95L9,93L10,84L11,97L12,92L13,88L14,85L15,86L16,84L17,90L18,109L19,127L20,150L21,177L22,170L23,194L24,188L25,214L26,205L27,253L28,250L29,256L30,260L31,240L32,234L33,222L34,223L35,250L36,232L37,189L38,197L39,192L40,197L41,160L42,167L43,198L44,229L45,250L46,247M0,92L1,94L2,85L3,65L4,71L5,77L6,78L7,81L8,80L9,100L10,122L11,139L12,158L13,176L14,179L15,216L16,219L17,194L18,214L19,250L20,226L21,224L22,226L23,222L24,223L25,242L26,231L27,245L28,240L29,246L30,254L31,228L32,245L33,200L34,209L35,230L36,238L37,232L38,233L39,266L40,251L41,220L42,228L43,233L44,222L45,238L46,232M0,102L1,99L2,74L3,64L4,61L5,56L6,59L7,57L8,59L9,58L10,56L11,51L12,63L13,64L14,82L15,92L16,76L17,105L18,139L19,157L20,156L21,156L22,171L23,197L24,232L25,219L26,214L27,213L28,227L29,212L30,222L31,204L32,223L33,254L34,219L35,185L36,177L37,172L38,191L39,208L40,200L41,187L42,195L43,190L44,185L45,197L46,182M0,114L1,95L2,89L3,83L4,82L5,76L6,81L7,79L8,70L9,67L10,104L11,128L12,131L13,130L14,153L15,161L16,162L17,140L18,155L19,158L20,140L21,156L22,165L23,154L24,155L25,148L26,197L27,182L28,213L29,228L30,245L31,246L32,215L33,204L34,191L35,185L36,204L37,216L38,222L39,220L40,250L41,241L42,233L43,228L44,226L45,218L46,220M0,110L1,96L2,95L3,85L4,82L5,80L6,72L7,71L8,67L9,70L10,61L11,64L12,80L13,94L14,95L15,112L16,123L17,134L18,136L19,134L20,153L21,149L22,166L23,158L24,168L25,150L26,171L27,161L28,169L29,176L30,178L31,171L32,149L33,143L34,132L35,115L36,143L37,146L38,163L39,171L40,165L41,158L42,172L43,178L44,185L45,199L46,188M0,75L1,79L2,70L3,66L4,61L5,62L6,55L7,59L8,60L9,72L10,107L11,134L12,142L13,164L14,163L15,181L16,177L17,171L18,192L19,192L20,193L21,201L22,215L23,206L24,215L25,213L26,237L27,259L28,243L29,224L30,203L31,238L32,260L33,260L34,238L35,228L36,232L37,261L38,217L39,227L40,233L41,249L42,253L43,241L44,238L45,228L46,223M0,80L1,78L2,75L3,77L4,66L5,66L6,65L7,75L8,78L9,74L10,68L11,61L12,63L13,68L14,75L15,67L16,67L17,70L18,72L19,63L20,68L21,80L22,97L23,109L24,131L25,153L26,172L27,157L28,171L29,169L30,185L31,203L32,196L33,177L34,186L35,196L36,181L37,188L38,187L39,209L40,197L41,192L42,183L43,196L44,212L45,214L46,228M0,109L1,100L2,80L3,85L4,86L5,81L6,87L7,84L8,86L9,76L10,73L11,70L12,82L13,104L14,118L15,136L16,154L17,157L18,169L19,179L20,189L21,183L22,162L23,170L24,156L25,149L26,124L27,149L28,139L29,139L30,140L31,136L32,143L33,151L34,164L35,158L36,172L37,182L38,159L39,157L40,147L41,138L42,112L43,135L44,120L45,151L46,161M0,115L1,102L2,96L3,93L4,90L5,86L6,83L7,78L8,77L9,100L10,114L11,127L12,145L13,175L14,198L15,194L16,207L17,224L18,232L19,269L20,253L21,242L22,248L23,237L24,229L25,224L26,240L27,241L28,242L29,254L30,239L31,273L32,265L33,244L34,240L35,244L36,251L37,249L38,220L39,204L40,233L41,267L42,298L43,296L44,274L45,293L46,275M0,126L1,117L2,109L3,94L4,99L5,102L6,99L7,100L8,109L9,103L10,100L11,93L12,117L13,120L14,125L15,126L16,137L17,161L18,161L19,144L20,174L21,177L22,176L23,169L24,184L25,201L26,180L27,197L28,189L29,193L30,163L31,206L32,198L33,185L34,151L35,168L36,190L37,198L38,184L39,181L40,173L41,222L42,206L43,211L44,195L45,211L46,212M0,81L1,72L2,75L3,61L4,68L5,69L6,71L7,59L8,61L9,58L10,49L11,36L12,58L13,79L14,92L15,92L16,116L17,157L18,152L19,151L20,147L21,167L22,160L23,218L24,226L25,231L26,204L27,226L28,245L29,259L30,247L31,232L32,216L33,227L34,185L35,220L36,233L37,257L38,275L39,263L40,280L41,273L42,295L43,301L44,270L45,276L46,278M0,89L1,82L2,84L3,86L4,82L5,81L6,77L7,80L8,83L9,81L10,75L11,76L12,77L13,74L14,80L15,76L16,75L17,71L18,90L19,120L20,139L21,149L22,138L23,120L24,118L25,126L26,131L27,120L28,131L29,142L30,161L31,147L32,127L33,133L34,112L35,97L36,112L37,122L38,125L39,140L40,149L41,145L42,138L43,156L44,163L45,182L46,184M0,95L1,93L2,91L3,88L4,83L5,78L6,81L7,84L8,73L9,86L10,106L11,121L12,120L13,147L14,166L15,162L16,171L17,160L18,158L19,154L20,165L21,170L22,169L23,181L24,167L25,160L26,134L27,144L28,156L29,142L30,158L31,158L32,168L33,170L34,149L35,144L36,148L37,170L38,156L39,181L40,151L41,150L42,142L43,151L44,154L45,162L46,170M0,84L1,84L2,73L3,78L4,79L5,74L6,69L7,68L8,78L9,90L10,90L11,90L12,118L13,134L14,158L15,167L16,180L17,199L18,220L19,209L20,229L21,240L22,222L23,222L24,207L25,227L26,212L27,211L28,213L29,237L30,243L31,237L32,243L33,246L34,236L35,245L36,232L37,221L38,222L39,230L40,222L41,211L42,198L43,213L44,214L45,238L46,232M0,128L1,113L2,93L3,93L4,82L5,93L6,100L7,106L8,88L9,87L10,68L11,84L12,113L13,132L14,159L15,155L16,173L17,195L18,217L19,210L20,208L21,208L22,210L23,204L24,212L25,221L26,225L27,206L28,224L29,203L30,189L31,198L32,176L33,184L34,210L35,211L36,187L37,192L38,192L39,183L40,179L41,199L42,211L43,205L44,206L45,200L46,207M0,104L1,90L2,87L3,87L4,81L5,81L6,89L7,98L8,98L9,90L10,82L11,83L12,84L13,78L14,97L15,118L16,133L17,144L18,171L19,176L20,186L21,167L22,184L23,166L24,179L25,159L26,176L27,179L28,186L29,173L30,193L31,184L32,169L33,195L34,206L35,231L36,212L37,197L38,203L39,229L40,241L41,239L42,239L43,222L44,211L45,211L46,203M0,94L1,68L2,64L3,62L4,57L5,62L6,61L7,73L8,62L9,71L10,71L11,71L12,68L13,57L14,57L15,72L16,93L17,120L18,128L19,132L20,141L21,159L22,158L23,169L24,205L25,214L26,217L27,199L28,220L29,217L30,232L31,221L32,202L33,223L34,205L35,207L36,221L37,226L38,198L39,207L40,237L41,244L42,221L43,245L44,240L45,213L46,239M0,86L1,86L2,75L3,81L4,76L5,87L6,79L7,75L8,74L9,82L10,84L11,85L12,92L13,81L14,86L15,91L16,104L17,112L18,133L19,129L20,143L21,146L22,140L23,138L24,129L25,139L26,195L27,174L28,168L29,173L30,181L31,183L32,164L33,156L34,154L35,154L36,158L37,174L38,178L39,194L40,183L41,205L42,194L43,194L44,193L45,207L46,172" fill="none" stroke="#36b44a" stroke-width="0.34" stroke-linejoin="round" vector-effect="non-scaling-stroke" opacity="1.0"/>
<path transform="translate(414.90,195.3) scale(2.03542,-0.22950)" d="M0,91L1,85L2,82L3,79L4,86L6,79L8,77L10,80L12,76L14,84L16,83L18,81L20,73L22,83L24,88L26,88L28,91L30,94L32,89L34,82L36,87L38,80L40,81L42,74L44,74L46,80M0,95L1,81L2,75L3,68L4,67L6,60L8,64L10,65L12,59L14,69L16,79L18,78L20,76L22,68L24,75L26,74L28,85L30,89L32,88L34,90L36,85L38,77L40,78L42,93L44,155L46,85M0,109L1,101L2,93L3,94L4,89L6,85L8,84L10,93L12,95L14,95L16,93L18,89L20,95L22,98L24,106L26,103L28,107L30,102L32,100L34,101L36,101L38,106L40,112L42,105L44,99L46,107M0,123L1,105L2,107L3,103L4,109L6,103L8,99L10,104L12,97L14,90L16,96L18,88L20,94L22,98L24,99L26,97L28,93L30,92L32,104L34,142L36,151L38,103L40,93L42,91L44,98L46,91M0,84L1,82L2,81L3,75L4,74L6,68L8,75L10,72L12,75L14,81L16,87L18,89L20,86L22,74L24,76L26,74L28,81L30,74L32,77L34,69L36,73L38,75L40,78L42,83L44,83L46,88M0,91L1,77L2,64L3,61L4,60L6,64L8,66L10,70L12,73L14,68L16,65L18,65L20,64L22,70L24,76L26,77L28,72L30,79L32,85L34,87L36,87L38,79L40,82L42,83L44,80L46,84M0,89L1,89L2,92L3,91L4,96L6,87L8,95L10,101L12,96L14,87L16,89L18,92L20,94L22,99L24,94L26,99L28,93L30,91L32,92L34,94L36,85L38,88L40,92L42,92L44,97L46,100M0,97L1,77L2,64L3,58L4,70L6,62L8,63L10,70L12,69L14,63L16,58L18,64L20,67L22,65L24,65L26,70L28,69L30,72L32,73L34,71L36,76L38,70L40,72L42,65L44,71L46,61M0,98L1,87L2,73L3,71L4,72L6,67L8,72L10,74L12,72L14,69L16,65L18,78L20,81L22,77L24,76L26,74L28,74L30,72L32,70L34,70L36,67L38,66L40,76L42,78L44,81L46,85M0,99L1,93L2,98L3,99L4,92L6,89L8,92L10,92L12,87L14,93L16,91L18,95L20,92L22,99L24,104L26,105L28,104L30,108L32,105L34,115L36,107L38,101L40,110L42,115L44,108L46,106M0,122L1,110L2,103L3,103L4,98L6,97L8,97L10,94L12,99L14,94L16,98L18,108L20,105L22,103L24,104L26,106L28,113L30,108L32,102L34,103L36,101L38,98L40,102L42,102L44,108L46,112M0,130L1,109L2,97L3,91L4,94L6,93L8,91L10,94L12,96L14,96L16,100L18,103L20,96L22,89L24,88L26,85L28,90L30,89L32,85L34,88L36,91L38,96L40,94L42,91L44,88L46,84M0,126L1,108L2,105L3,94L4,94L6,89L8,94L10,94L12,95L14,95L16,98L18,90L20,86L22,85L24,92L26,81L28,88L30,87L32,89L34,85L36,88L38,91L40,83L42,89L44,87L46,87M0,127L1,111L2,105L3,102L4,107L6,96L8,101L10,97L12,92L14,96L16,96L18,95L20,98L22,89L24,91L26,88L28,90L30,92L32,91L34,93L36,88L38,90L40,90L42,101L44,99L46,91M0,112L1,98L2,90L3,89L4,75L6,75L8,73L10,75L12,67L14,75L16,70L18,74L20,79L22,78L24,78L26,71L28,70L30,73L32,73L34,77L36,72L38,73L40,71L42,66L44,71L46,72M0,104L1,79L2,71L3,73L4,73L6,83L8,81L10,62L12,60L14,62L16,71L18,73L20,78L22,78L24,60L26,63L28,57L30,61L32,70L34,69L36,56L38,59L40,59L42,64L44,58L46,58M0,94L1,98L2,92L3,85L4,90L6,97L8,104L10,96L12,93L14,96L16,97L18,96L20,102L22,97L24,100L26,93L28,98L30,105L32,99L34,106L36,111L38,108L40,106L42,103L44,97L46,106M0,108L1,96L2,93L3,90L4,91L6,90L8,86L10,89L12,90L14,88L16,98L18,93L20,93L22,95L24,92L26,88L28,89L30,87L32,89L34,92L36,98L38,88L40,87L42,89L44,90L46,93M0,106L1,98L2,96L3,93L4,84L6,86L8,87L10,85L12,83L14,89L16,91L18,93L20,90L22,94L24,88L26,88L28,84L30,89L32,85L34,88L36,94L38,89L40,85L42,86L44,93L46,93M0,112L1,100L2,88L3,79L4,76L6,85L8,74L10,86L12,81L14,78L16,74L18,80L20,83L22,84L24,86L26,80L28,82L30,86L32,86L34,81L36,77L38,83L40,78L42,75L44,83L46,88M0,111L1,100L2,98L3,93L4,84L6,81L8,92L10,96L12,95L14,96L16,93L18,100L20,98L22,101L24,103L26,98L28,113L30,107L32,105L34,105L36,112L38,107L40,104L42,102L44,110L46,109M0,92L1,87L2,80L3,75L4,76L6,71L8,74L10,81L12,78L14,81L16,79L18,80L20,85L22,83L24,91L26,91L28,95L30,97L32,98L34,93L36,96L38,97L40,96L42,96L44,90L46,95M0,93L1,78L2,85L3,79L4,76L6,75L8,79L10,73L12,75L14,79L16,76L18,79L20,73L22,71L24,70L26,80L28,75L30,77L32,78L34,82L36,84L38,87L40,87L42,82L44,87L46,81M0,125L1,113L2,109L3,93L4,95L6,91L8,92L10,89L12,87L14,92L16,92L18,91L20,86L22,92L24,87L26,96L28,100L30,97L32,96L34,97L36,96L38,100L40,101L42,104L44,96L46,98M0,108L1,99L2,96L3,96L4,104L6,104L8,106L10,99L12,95L14,94L16,97L18,108L20,101L22,104L24,95L26,100L28,102L30,104L32,109L34,113L36,114L38,109L40,103L42,110L44,105L46,102M0,82L1,74L2,76L3,73L4,61L6,63L8,62L10,67L12,76L14,75L16,62L18,60L20,54L22,56L24,53L26,61L28,57L30,55L32,59L34,54L36,53L38,55L40,58L42,67L44,56L46,57M0,117L1,101L2,88L3,82L4,75L6,72L8,75L10,76L12,80L14,82L16,85L18,92L20,88L22,78L24,82L26,83L28,85L30,100L32,132L34,112L36,86L38,84L40,91L42,89L44,86L46,81M0,94L1,78L2,73L3,67L4,68L6,67L8,70L10,69L12,68L14,68L16,70L18,73L20,62L22,63L24,69L26,66L28,69L30,71L32,75L34,97L36,113L38,88L40,69L42,75L44,70L46,70M0,125L1,112L2,115L3,108L4,108L6,103L8,100L10,98L12,84L14,96L16,100L18,98L20,101L22,105L24,102L26,98L28,97L30,96L32,95L34,95L36,101L38,96L40,93L42,100L44,102L46,101M0,104L1,98L2,86L3,79L4,80L6,86L8,90L10,87L12,92L14,92L16,92L18,89L20,87L22,86L24,86L26,95L28,94L30,93L32,85L34,87L36,89L38,89L40,87L42,82L44,86L46,88M0,113L1,102L2,90L3,94L4,93L6,87L8,88L10,96L12,91L14,90L16,89L18,82L20,88L22,91L24,98L26,95L28,93L30,98L32,93L34,89L36,95L38,93L40,93L42,97L44,93L46,103M0,90L1,91L2,88L3,90L4,95L6,89L8,93L10,87L12,90L14,92L16,92L18,86L20,85L22,84L24,82L26,80L28,82L30,84L32,81L34,85L36,81L38,73L40,79L42,91L44,93L46,92M0,119L1,100L2,92L3,89L4,87L6,81L8,86L10,82L12,84L14,83L16,84L18,80L20,81L22,79L24,80L26,83L28,79L30,86L32,87L34,85L36,83L38,82L40,81L42,87L44,84L46,87M0,85L1,75L2,80L3,73L4,79L6,76L8,70L10,70L12,75L14,74L16,71L18,74L20,68L22,65L24,67L26,71L28,70L30,71L32,78L34,78L36,79L38,80L40,76L42,79L44,76L46,70M0,121L1,114L2,108L3,106L4,109L6,104L8,102L10,106L12,103L14,101L16,99L18,103L20,105L22,93L24,94L26,96L28,97L30,96L32,97L34,88L36,86L38,88L40,95L42,90L44,93L46,96M0,98L1,82L2,79L3,73L4,75L6,79L8,75L10,73L12,73L14,70L16,70L18,75L20,67L22,71L24,73L26,78L28,73L30,76L32,80L34,76L36,72L38,74L40,79L42,83L44,89L46,90M0,95L1,89L2,92L3,89L4,87L6,77L8,74L10,84L12,84L14,82L16,85L18,78L20,82L22,80L24,84L26,82L28,76L30,88L32,86L34,77L36,77L38,79L40,73L42,78L44,81L46,78M0,103L1,100L2,96L3,101L4,95L6,92L8,98L10,92L12,92L14,94L16,87L18,90L20,88L22,92L24,92L26,91L28,98L30,96L32,96L34,97L36,89L38,91L40,92L42,97L44,91L46,97M0,98L1,95L2,96L3,95L4,94L6,92L8,91L10,94L12,87L14,94L16,90L18,89L20,90L22,97L24,104L26,102L28,97L30,104L32,100L34,101L36,93L38,94L40,101L42,101L44,104L46,100M0,68L1,54L2,59L3,67L4,62L6,64L8,65L10,67L12,62L14,65L16,69L18,69L20,69L22,69L24,71L26,71L28,72L30,80L32,77L34,77L36,77L38,86L40,81L42,81L44,76L46,80" fill="none" stroke="#4a4a4a" stroke-width="0.34" stroke-linejoin="round" vector-effect="non-scaling-stroke" opacity="1.0"/>
<path d="M414.9,103.5 V195.3M411.7,195.3 H414.9M413.1,183.8 H414.9M413.1,172.4 H414.9M413.1,160.9 H414.9M411.7,149.4 H414.9M413.1,137.9 H414.9M413.1,126.5 H414.9M413.1,115.0 H414.9M411.7,103.5 H414.9M414.1,195.3 H512.6M414.9,195.3 V198.5M427.1,195.3 V197.1M439.3,195.3 V198.5M451.5,195.3 V197.1M463.8,195.3 V198.5M476.0,195.3 V197.1M488.2,195.3 V198.5M500.4,195.3 V197.1M512.6,195.3 V198.5" fill="none" stroke="#666" stroke-width="0.6"/>
<text x="409.9" y="198.1" font-size="7.8" fill="#111" text-anchor="end" >0</text>
<text x="409.9" y="152.2" font-size="7.8" fill="#111" text-anchor="end" >1</text>
<text x="409.9" y="106.3" font-size="7.8" fill="#111" text-anchor="end" >2</text>
<text x="414.9" y="207.4" font-size="7.8" fill="#111" text-anchor="middle" >0</text>
<text x="439.3" y="207.4" font-size="7.8" fill="#111" text-anchor="middle" >6</text>
<text x="463.8" y="207.4" font-size="7.8" fill="#111" text-anchor="middle" >12</text>
<text x="488.2" y="207.4" font-size="7.8" fill="#111" text-anchor="middle" >18</text>
<text x="512.6" y="207.4" font-size="7.8" fill="#111" text-anchor="middle" >24</text>
<text x="463.2" y="95.6" font-size="7.8" fill="#111" text-anchor="middle" >Mitogens + CDH1(T129D)</text>
<path d="M21.4,212.9 H514" stroke="#888" stroke-width="1.1"/>
<text x="267.5" y="222.8" font-size="7.8" fill="#111" text-anchor="middle" >Time after treatment (h)</text>
</g>
<g id="panel-b">
<text x="541.8" y="7.1" font-size="11" fill="#111" text-anchor="start" font-weight="bold" stroke="#111" stroke-width="0.45">b</text>
<rect x="598.8" y="123.7" width="13.2" height="7.6" fill="#4f4f4f"/>
<rect x="620.3" y="39.2" width="13.2" height="92.1" fill="#04a004"/>
<rect x="642.0" y="98.9" width="13.2" height="32.4" fill="#04a004"/>
<rect x="663.7" y="60.6" width="13.2" height="70.7" fill="#04a004"/>
<path d="M591.6,38.9 V131.3 M587.6,131.3 H684.8M587.6,108.3 H591.6M587.6,85.3 H591.6M587.6,62.2 H591.6M587.6,39.2 H591.6M605.4,131.3 V135.8M626.9,131.3 V135.8M648.6,131.3 V135.8M670.3,131.3 V135.8" fill="none" stroke="#686868" stroke-width="0.75"/>
<text x="583.8" y="134.1" font-size="7.8" fill="#111" text-anchor="end" >0</text>
<text x="583.8" y="111.1" font-size="7.8" fill="#111" text-anchor="end" >25</text>
<text x="583.8" y="88.1" font-size="7.8" fill="#111" text-anchor="end" >50</text>
<text x="583.8" y="65.0" font-size="7.8" fill="#111" text-anchor="end" >75</text>
<text x="583.8" y="42.0" font-size="7.8" fill="#111" text-anchor="end" >100</text>
<path d="M605.4,119.9 V124.6 M602.2,119.9 H608.6 M602.2,124.6 H608.6" fill="none" stroke="#111" stroke-width="0.6"/>
<path d="M648.8,88.4 V110.4 M645.5,88.4 H652.1 M645.5,110.4 H652.1" fill="none" stroke="#111" stroke-width="0.6"/>
<path d="M670.3,47.6 V72.5 M667.0,47.6 H673.6 M667.0,72.5 H673.6" fill="none" stroke="#111" stroke-width="0.6"/>
<circle cx="600.3" cy="123.8" r="1.85" fill="#000"/>
<circle cx="605.2" cy="121.1" r="1.85" fill="#000"/>
<circle cx="610.9" cy="119.7" r="1.85" fill="#000"/>
<circle cx="610.9" cy="123.8" r="1.85" fill="#000"/>
<circle cx="622.2" cy="39.2" r="1.85" fill="#000"/>
<circle cx="625.6" cy="39.2" r="1.85" fill="#000"/>
<circle cx="629.0" cy="39.2" r="1.85" fill="#000"/>
<circle cx="632.4" cy="39.2" r="1.85" fill="#000"/>
<circle cx="643.8" cy="91.1" r="1.85" fill="#000"/>
<circle cx="654.0" cy="90.0" r="1.85" fill="#000"/>
<circle cx="648.3" cy="103.1" r="1.85" fill="#000"/>
<circle cx="649.0" cy="109.4" r="1.85" fill="#000"/>
<circle cx="664.8" cy="52.1" r="1.85" fill="#000"/>
<circle cx="670.5" cy="55.1" r="1.85" fill="#000"/>
<circle cx="676.0" cy="53.9" r="1.85" fill="#000"/>
<circle cx="670.3" cy="78.6" r="1.85" fill="#000"/>
<text transform="translate(608.0,141.9) rotate(-45)" font-size="7.8" fill="#111" text-anchor="end">EV</text>
<text transform="translate(629.5,141.9) rotate(-45)" font-size="7.8" fill="#111" text-anchor="end">EV</text>
<text transform="translate(651.2,141.9) rotate(-45)" font-size="7.8" fill="#111" text-anchor="end">CDH1(T129A)</text>
<text transform="translate(672.9,141.9) rotate(-45)" font-size="7.8" fill="#111" text-anchor="end">CDH1(T129D)</text>
<text transform="translate(548.4,85.2) rotate(-90)" font-size="7.8" fill="#111" text-anchor="middle">Percentage of cells</text>
<text transform="translate(557.0,85.2) rotate(-90)" font-size="7.8" fill="#111" text-anchor="middle">entering cell cycle</text>
<text transform="translate(565.4,85.2) rotate(-90)" font-size="7.8" fill="#111" text-anchor="middle">(normalized to EV)</text>
<path d="M603.7,34.0 V30.1 H623.4 V34.0" fill="none" stroke="#444" stroke-width="0.6"/>
<path d="M627.5,34.0 V30.1 H648.3 V34.0" fill="none" stroke="#444" stroke-width="0.6"/>
<path d="M626.3,22.7 V18.1 H667.1 V22.7" fill="none" stroke="#444" stroke-width="0.6"/>
<text x="624.5" y="15.9" font-size="7.8" fill="#111" textLength="46.9" lengthAdjust="spacingAndGlyphs">NS (<tspan font-style="italic">P</tspan> = 0.13)</text>
<text x="586.0" y="28.9" font-size="7.8" fill="#111" textLength="37.4" lengthAdjust="spacingAndGlyphs"><tspan font-style="italic">P</tspan> &lt; 0.0001</text>
<text x="627.9" y="28.9" font-size="7.8" fill="#111" textLength="38.1" lengthAdjust="spacingAndGlyphs"><tspan font-style="italic">P</tspan> = 0.0036</text>
<rect x="581.0" y="197.0" width="11.8" height="5.4" fill="#4f4f4f"/>
<rect x="581.0" y="209.9" width="11.8" height="5.6" fill="#04a004"/>
<text x="597.3" y="202.5" font-size="7.8" fill="#111" text-anchor="start" >Quiescent</text>
<text x="597.3" y="215.4" font-size="7.8" fill="#111" text-anchor="start" textLength="51.7" lengthAdjust="spacingAndGlyphs" >Mit. stimulated</text>
</g>
<g id="panel-d">
<text x="541.6" y="244.2" font-size="11" fill="#111" text-anchor="start" font-weight="bold" stroke="#111" stroke-width="0.45">d</text>
<rect x="594.4" y="353.6" width="14.3" height="4.6" fill="#4f4f4f"/>
<rect x="615.9" y="266.5" width="14.3" height="91.7" fill="#04a004"/>
<rect x="637.0" y="338.0" width="14.3" height="20.2" fill="#04a004"/>
<rect x="658.1" y="276.0" width="14.3" height="82.2" fill="#04a004"/>
<path d="M587.6,266.2 V358.2 M583.6,358.2 H680.2M583.6,335.3 H587.6M583.6,312.4 H587.6M583.6,289.4 H587.6M583.6,266.5 H587.6M601.5,358.2 V362.7M623.0,358.2 V362.7M644.1,358.2 V362.7M665.3,358.2 V362.7" fill="none" stroke="#686868" stroke-width="0.75"/>
<text x="579.8" y="361.0" font-size="7.8" fill="#111" text-anchor="end" >0</text>
<text x="579.8" y="338.1" font-size="7.8" fill="#111" text-anchor="end" >25</text>
<text x="579.8" y="315.2" font-size="7.8" fill="#111" text-anchor="end" >50</text>
<text x="579.8" y="292.2" font-size="7.8" fill="#111" text-anchor="end" >75</text>
<text x="579.8" y="269.3" font-size="7.8" fill="#111" text-anchor="end" >100</text>
<path d="M601.4,351.3 V355.8 M598.2,351.3 H604.6 M598.2,355.8 H604.6" fill="none" stroke="#111" stroke-width="0.6"/>
<path d="M644.2,335.3 V340.8 M640.9,335.3 H647.5 M640.9,340.8 H647.5" fill="none" stroke="#111" stroke-width="0.6"/>
<path d="M665.3,264.7 V287.8 M661.5,264.7 H669.1 M661.5,287.8 H669.1" fill="none" stroke="#111" stroke-width="0.6"/>
<circle cx="596.2" cy="354.4" r="1.85" fill="#000"/>
<circle cx="601.4" cy="351.7" r="1.85" fill="#000"/>
<circle cx="607.1" cy="354.0" r="1.85" fill="#000"/>
<circle cx="617.7" cy="266.5" r="1.85" fill="#000"/>
<circle cx="622.7" cy="266.5" r="1.85" fill="#000"/>
<circle cx="627.9" cy="266.5" r="1.85" fill="#000"/>
<circle cx="644.4" cy="335.5" r="1.85" fill="#000"/>
<circle cx="640.8" cy="340.0" r="1.85" fill="#000"/>
<circle cx="647.3" cy="339.1" r="1.85" fill="#000"/>
<circle cx="661.9" cy="266.9" r="1.85" fill="#000"/>
<circle cx="668.7" cy="269.6" r="1.85" fill="#000"/>
<circle cx="665.3" cy="289.1" r="1.85" fill="#000"/>
<text transform="translate(605.4,369.4) rotate(-45)" font-size="7.8" fill="#111" text-anchor="end">EV</text>
<text transform="translate(626.9,369.4) rotate(-45)" font-size="7.8" fill="#111" text-anchor="end">EV</text>
<text transform="translate(648.0,369.4) rotate(-45)" font-size="7.8" fill="#111" text-anchor="end">CDH1(T129A)</text>
<text transform="translate(669.2,369.4) rotate(-45)" font-size="7.8" fill="#111" text-anchor="end">CDH1(T129D)</text>
<text transform="translate(553.5,312.4) rotate(-90)" font-size="7.8" fill="#111" text-anchor="middle">Percentage of colonies</text>
<text transform="translate(561.0,312.4) rotate(-90)" font-size="7.8" fill="#111" text-anchor="middle">(normalized to EV)</text>
<path d="M599.6,260.8 V257.4 H621.1 V260.8" fill="none" stroke="#444" stroke-width="0.6"/>
<path d="M623.4,260.8 V257.4 H645.4 V260.8" fill="none" stroke="#444" stroke-width="0.6"/>
<path d="M622.9,249.9 V245.4 H663.7 V249.9" fill="none" stroke="#444" stroke-width="0.6"/>
<text x="620.7" y="243.2" font-size="7.8" fill="#111" textLength="46.4" lengthAdjust="spacingAndGlyphs">NS (<tspan font-style="italic">P</tspan> = 0.24)</text>
<text x="582.6" y="256.1" font-size="7.8" fill="#111" textLength="38.0" lengthAdjust="spacingAndGlyphs"><tspan font-style="italic">P</tspan> &lt; 0.0001</text>
<text x="625.0" y="256.1" font-size="7.8" fill="#111" textLength="36.9" lengthAdjust="spacingAndGlyphs"><tspan font-style="italic">P</tspan> &lt; 0.0001</text>
</g>
<g id="panel-c">
<text x="0.0" y="243.6" font-size="11" fill="#111" text-anchor="start" font-weight="bold" stroke="#111" stroke-width="0.45">c</text>
<rect x="31.6" y="255.0" width="81" height="82" fill="#fcfcfc"/>
<g filter="url(#bl)">
<circle cx="72.1" cy="296.0" r="37.9" fill="#fdfdfd" stroke="#ababab" stroke-width="3.0"/>
<circle cx="72.1" cy="296.0" r="38.9" fill="none" stroke="#8c8c8c" stroke-width="0.7"/>
<circle cx="72.0" cy="296.0" r="36.9" fill="none" stroke="#7c7c7c" stroke-width="0.9"/>
<circle cx="73.0" cy="296.7" r="34.9" fill="#f8f8f8" stroke="#9a9a9a" stroke-width="1.1"/>
</g>
<g filter="url(#bl2)">
<ellipse cx="64.6" cy="277.0" rx="3.2" ry="4.2" transform="rotate(20 64.6 277.0)" fill="#e0e0e0"/>
<ellipse cx="68.1" cy="274.0" rx="3" ry="2" transform="rotate(0 68.1 274.0)" fill="#e0e0e0"/>
<ellipse cx="55.099999999999994" cy="280.0" rx="2" ry="3.5" transform="rotate(-20 55.099999999999994 280.0)" fill="#e0e0e0"/>
<ellipse cx="78.1" cy="268.0" rx="5" ry="1.8" transform="rotate(10 78.1 268.0)" fill="#e0e0e0"/>
<ellipse cx="84.1" cy="269.0" rx="2.5" ry="2" transform="rotate(0 84.1 269.0)" fill="#e0e0e0"/>
<ellipse cx="72.1" cy="310.0" rx="4.5" ry="3.5" transform="rotate(-30 72.1 310.0)" fill="#e0e0e0"/>
<ellipse cx="68.1" cy="313.0" rx="3" ry="2.5" transform="rotate(0 68.1 313.0)" fill="#e0e0e0"/>
<ellipse cx="85.1" cy="309.0" rx="2.5" ry="4.5" transform="rotate(15 85.1 309.0)" fill="#e0e0e0"/>
<ellipse cx="82.1" cy="317.0" rx="5" ry="2.5" transform="rotate(-15 82.1 317.0)" fill="#e0e0e0"/>
<ellipse cx="88.1" cy="315.0" rx="2.5" ry="2.5" transform="rotate(0 88.1 315.0)" fill="#e0e0e0"/>
</g>
<rect x="162.2" y="253.2" width="81" height="82" fill="#fcfcfc"/>
<circle cx="202.7" cy="294.2" r="39.4" fill="#fff" stroke="#444" stroke-width="0.55"/>
<g filter="url(#bl)">
<circle cx="202.7" cy="294.2" r="37.8" fill="none" stroke="#cfcfcf" stroke-width="1.0"/>
<circle cx="202.7" cy="294.2" r="35.9" fill="#fff" stroke="#333" stroke-width="2.4"/>
<circle cx="202.7" cy="294.2" r="34.3" fill="none" stroke="#8a8a8a" stroke-width="0.9"/>
<path d="M196.8,293.7h0M214.8,276.7h0M174.7,302.4h0M215.2,305.7h0M232.8,288.6h0M198.6,293.7h0M198.8,308.0h0M222.6,303.4h0M173.7,297.5h0M220.2,283.9h0M176.3,309.3h0M183.4,311.8h0M178.2,300.1h0M207.0,296.9h0M178.0,272.6h0M185.5,286.0h0M176.2,311.4h0M210.8,279.9h0M176.1,293.7h0M216.8,286.7h0M218.0,309.6h0M178.6,299.8h0M186.5,319.3h0M204.8,272.5h0M199.2,304.5h0M230.6,291.4h0M201.5,276.9h0M189.1,315.4h0M206.1,285.4h0M188.0,278.0h0M169.3,298.9h0M194.9,286.5h0M190.2,294.6h0M174.5,287.4h0M187.0,275.1h0M174.5,277.8h0M204.6,286.2h0M218.1,303.0h0M215.4,301.9h0M190.2,321.9h0M200.6,277.6h0M214.2,306.6h0M216.1,276.9h0M178.2,290.2h0M181.2,293.8h0M207.9,323.3h0M179.4,301.2h0M186.4,306.8h0M203.3,277.3h0M181.9,303.3h0M196.1,315.5h0M178.1,313.8h0M187.8,307.5h0M186.0,290.1h0M176.4,314.2h0M176.9,308.7h0M199.5,315.6h0M191.1,307.2h0M217.3,269.0h0M175.4,287.4h0M187.7,316.6h0M200.7,290.9h0M224.2,293.2h0M216.4,300.1h0M214.3,311.5h0M178.6,315.8h0M216.0,311.8h0M227.9,272.5h0M182.0,287.8h0M185.7,282.2h0M178.1,294.6h0M232.0,295.2h0M174.5,296.9h0M208.0,315.6h0M189.7,311.9h0M202.2,311.1h0M198.9,323.1h0M228.2,315.4h0M191.1,323.9h0M176.8,314.5h0M178.1,299.8h0M234.0,284.0h0M193.4,271.4h0M192.1,270.2h0M208.0,273.8h0M221.4,314.9h0M215.4,297.4h0M181.0,281.4h0M197.1,298.4h0M197.1,310.2h0M168.9,294.2h0M217.1,313.5h0M179.1,290.8h0M204.0,299.3h0M195.6,269.6h0M208.9,281.0h0M222.1,288.3h0M218.3,287.3h0M205.7,314.6h0M201.9,264.3h0M192.4,315.2h0M209.4,306.8h0M196.6,314.7h0M189.2,316.4h0M214.3,307.0h0M184.1,310.8h0M195.7,294.9h0M226.5,293.6h0M182.4,292.5h0M219.0,320.1h0M220.3,298.8h0M215.3,291.0h0M191.0,284.9h0M197.3,327.8h0M187.3,264.3h0M214.3,298.7h0M177.9,317.5h0M221.4,317.9h0M197.4,262.1h0M197.6,281.8h0M186.7,302.4h0M194.1,321.1h0M192.8,283.8h0M183.1,289.5h0M174.6,304.5h0M224.1,271.4h0M177.2,312.3h0M178.4,300.2h0M214.3,272.0h0M201.0,275.3h0M226.5,283.1h0M220.4,278.1h0M216.3,289.9h0M218.8,267.3h0M209.1,316.3h0M227.8,306.3h0M178.9,295.5h0M226.7,303.8h0M218.2,305.0h0M185.3,291.6h0M223.8,291.7h0M214.4,265.9h0M222.4,300.8h0M225.0,316.5h0M185.0,320.6h0M222.4,277.5h0M216.7,275.8h0M206.2,268.3h0M226.9,310.7h0M173.9,306.9h0M178.9,285.2h0M198.4,304.5h0M179.8,291.5h0M189.9,265.9h0M178.2,290.3h0M197.9,316.7h0M179.2,301.0h0M234.3,292.4h0M218.7,268.4h0M216.0,263.7h0M189.4,311.0h0M220.4,282.0h0M198.9,288.0h0M179.0,312.0h0M169.7,299.2h0M201.8,298.9h0M198.7,326.9h0M209.5,322.4h0M191.3,316.6h0M230.0,305.2h0M182.4,271.8h0M195.5,276.6h0M190.4,314.1h0M206.4,275.7h0M174.3,293.0h0M170.8,295.4h0M230.6,287.7h0M216.5,321.4h0M216.9,295.1h0M232.9,293.7h0M188.4,311.7h0M213.2,293.5h0M184.3,283.2h0M194.2,305.6h0M225.9,298.8h0M227.2,278.4h0M233.7,283.5h0M175.1,277.4h0M187.4,298.0h0M186.7,313.4h0M208.9,269.3h0M219.7,303.5h0M180.7,293.4h0M194.5,289.7h0M194.6,293.2h0M194.9,299.6h0M199.9,278.8h0M189.9,267.3h0M203.5,269.4h0M222.2,269.0h0M201.0,285.1h0M173.3,302.4h0M194.2,322.8h0M186.5,318.5h0M192.8,269.3h0M221.8,286.6h0M171.3,293.9h0M209.3,317.7h0M195.9,296.1h0M178.7,312.9h0M200.7,263.3h0M206.0,325.5h0M219.9,300.8h0M192.6,273.9h0M213.7,273.5h0M187.8,286.2h0M226.9,316.5h0M181.2,317.4h0M191.3,293.0h0M210.1,316.2h0M195.2,284.1h0M192.1,326.4h0M195.2,322.3h0M195.2,308.3h0M200.4,296.4h0M221.3,279.1h0M215.4,305.5h0M226.2,291.0h0M226.1,317.0h0" stroke="#606060" stroke-width="0.7" stroke-linecap="round" fill="none"/>
<path d="M178.5,301.3h0M206.1,275.0h0M174.6,296.5h0M208.9,283.2h0M206.3,320.7h0M171.1,295.9h0M230.2,290.8h0M208.7,283.5h0M231.6,289.8h0M209.2,281.7h0M199.6,293.8h0M229.6,298.2h0M219.1,275.3h0M231.2,296.6h0M189.5,310.3h0M198.7,271.1h0M223.0,312.1h0M194.3,304.7h0M188.2,279.7h0M203.0,279.3h0M187.0,306.4h0M176.4,312.3h0M190.7,282.8h0M220.3,293.4h0M209.4,308.1h0M188.3,306.5h0M225.4,313.8h0M172.4,297.2h0M216.4,271.7h0M220.9,316.7h0M230.1,298.8h0M204.0,313.1h0M179.0,301.9h0M213.7,277.0h0M231.2,290.4h0M194.5,270.0h0M218.7,270.8h0M174.8,310.7h0M223.0,302.4h0M214.5,290.9h0M185.9,291.4h0M210.2,317.4h0M194.5,315.5h0M209.1,280.1h0M214.5,321.6h0M202.8,275.9h0M183.3,285.0h0M228.5,276.6h0M219.0,314.4h0M193.7,317.0h0M207.1,291.4h0M218.3,290.5h0M222.0,303.3h0M224.3,292.8h0M178.6,272.4h0M221.3,266.6h0M170.9,288.8h0M223.9,303.6h0M190.6,293.6h0M183.7,293.0h0M211.6,271.6h0M225.1,311.6h0M227.2,282.1h0M177.6,301.9h0M222.1,291.8h0M185.3,312.9h0M198.5,318.2h0M190.8,290.8h0M235.7,294.8h0M214.6,313.5h0M207.9,296.6h0M192.4,311.5h0M186.5,291.6h0M209.0,269.9h0M224.8,294.2h0M208.7,323.0h0M204.9,261.4h0M202.6,323.7h0M190.9,270.0h0M181.7,315.0h0M204.4,260.3h0M183.6,292.3h0M231.8,282.6h0M206.4,277.7h0M197.2,289.3h0M231.8,280.5h0M180.6,304.0h0M180.0,284.0h0M210.1,264.9h0M184.0,309.7h0M182.4,309.5h0M226.7,287.3h0M224.6,310.4h0M208.6,296.4h0M182.9,278.0h0M185.1,275.5h0M192.0,316.0h0M201.4,286.5h0M223.2,312.7h0M196.0,295.3h0M210.2,281.0h0M184.0,266.5h0M175.0,309.0h0M223.5,312.1h0M209.5,268.0h0M179.5,310.7h0M192.0,313.0h0M232.1,308.8h0M204.1,302.6h0M181.4,294.0h0M217.8,324.4h0M228.4,308.9h0M176.8,276.9h0M173.0,299.3h0M203.7,276.4h0M181.7,295.2h0M217.2,314.8h0M218.9,324.2h0M202.9,269.9h0M218.2,274.7h0M234.0,283.4h0M197.0,326.3h0M194.4,311.9h0M228.9,273.6h0M220.9,265.5h0M196.8,275.5h0M206.7,267.6h0M229.9,303.1h0M228.6,304.0h0M195.4,261.7h0M221.4,268.1h0M198.2,327.5h0M219.3,316.5h0M182.1,300.7h0M232.4,292.8h0M212.3,322.1h0M219.9,265.0h0M229.2,289.9h0M187.0,310.3h0M208.0,285.2h0M178.2,286.6h0M169.1,296.1h0M212.1,324.8h0M187.2,288.7h0M188.2,291.9h0M227.5,271.0h0M219.3,301.9h0M187.0,316.6h0M188.0,276.4h0M184.8,274.8h0M191.2,306.7h0M207.9,284.3h0M188.7,266.5h0M218.5,299.9h0M197.5,281.1h0M212.8,316.4h0M227.0,308.7h0M191.3,305.6h0M178.2,271.3h0M200.1,305.4h0M193.4,298.0h0M208.2,267.5h0M202.2,270.8h0M220.5,308.8h0M230.1,310.7h0M225.2,308.8h0M174.7,306.4h0M176.7,288.8h0M180.9,309.0h0M198.0,280.1h0M217.4,311.4h0M211.0,318.8h0M187.6,291.5h0M200.3,295.4h0M224.9,268.3h0M224.6,270.5h0M231.4,309.8h0M235.0,289.9h0M197.0,302.8h0M170.5,295.7h0M199.4,304.5h0M192.9,284.6h0M171.8,290.4h0M201.9,270.0h0M209.4,318.5h0M206.8,327.4h0M218.1,294.2h0M186.5,286.0h0M185.4,308.4h0M228.8,277.9h0M184.0,277.2h0M195.5,290.7h0M173.6,305.9h0M190.4,304.5h0M183.1,270.9h0M193.0,299.2h0M181.0,285.0h0M220.8,319.1h0M197.8,265.0h0M187.9,290.8h0" stroke="#505050" stroke-width="1.1" stroke-linecap="round" fill="none"/>
<path d="M176.7,300.1l-0.7,0.1M211.6,320.8l-0.3,0.9M206.7,311.1l0.7,-0.2M196.0,293.2l0.2,-0.7M204.3,310.2l-0.6,0.8M223.6,283.3l0.9,-1.0M219.3,315.2l0.3,-0.1M205.6,308.0l0.6,-0.8M189.0,280.5l0.7,-0.9M190.4,302.6l-0.5,-0.7M231.0,280.6l0.9,0.4M220.4,282.9l-0.1,0.3M174.7,295.4l-0.5,0.4M218.7,277.3l-0.0,-0.9M230.8,306.2l0.4,0.8M216.5,302.5l0.7,0.1M198.4,306.3l0.1,-0.6M176.1,295.7l-0.8,-0.2M225.8,312.1l0.4,0.4M178.5,273.8l0.8,-0.4M179.1,309.6l0.0,0.4M208.1,263.8l0.8,0.4M184.5,294.8l-0.3,-0.4M185.8,287.4l-0.9,0.5M202.6,286.5l-0.9,0.8M214.4,287.1l-0.0,-0.3M183.9,314.5l-0.4,0.5M180.0,276.9l-0.4,-0.7M222.1,282.5l-0.1,-0.6M199.6,269.8l-1.0,0.4M216.0,320.9l0.6,-0.6M211.1,299.1l-0.8,0.3M219.8,280.9l0.3,0.9M217.1,275.2l0.3,0.5M199.3,285.0l-1.0,-0.6M195.5,311.9l1.0,0.3M218.3,316.3l0.9,0.5M226.8,285.5l-0.1,-0.2M225.8,311.6l0.1,-0.3M229.1,299.4l-0.5,0.8M199.8,326.7l0.2,-0.8M194.9,325.6l0.7,-0.6M182.5,274.3l-0.0,1.0M231.9,294.1l0.7,-0.2M226.0,290.9l0.7,0.4M204.8,271.3l0.7,0.4M207.5,307.9l0.6,-0.3M222.3,276.8l0.8,-0.6M224.4,301.6l-0.7,-1.0M223.7,301.6l0.5,-0.0M195.7,261.1l-0.5,0.1M208.7,314.5l-0.3,-0.5M194.1,304.5l-0.7,-0.5M197.7,273.0l-0.5,-0.4M174.5,281.8l0.3,-0.9M183.7,286.9l-0.5,0.3M217.1,321.9l-0.4,0.4M201.1,289.3l0.8,0.8M180.1,316.1l0.8,-0.9M203.6,284.6l-0.5,-0.8M217.2,316.9l-0.3,-0.4M186.4,290.7l0.4,0.8M227.1,270.5l-0.8,-0.1M208.9,273.7l-0.3,0.4M201.1,307.8l-0.5,-0.6M199.8,275.5l0.4,-0.2M191.6,322.7l-0.6,0.4M176.9,310.2l0.8,-0.5M210.7,279.0l0.7,1.0M198.8,270.2l0.3,-0.1M228.0,305.4l-0.3,0.5M196.8,316.3l-0.8,-0.7M214.8,288.6l0.5,-0.4M209.9,308.1l-0.5,0.6M171.7,287.0l0.9,-0.5M228.0,277.2l-0.6,-0.3M192.2,266.8l0.5,-0.6M188.9,323.9l-0.8,0.8M194.5,297.0l0.2,0.3M182.2,314.8l1.0,0.6M225.4,312.9l0.1,-0.9M193.7,322.2l-0.8,0.6M191.0,278.3l0.7,-0.9M190.7,277.8l-0.3,-0.4M226.0,276.7l0.3,0.1M190.6,278.0l-0.2,0.6M192.3,272.3l0.1,0.1M222.0,321.4l-0.8,0.6M174.5,278.1l-0.3,0.9M194.7,324.8l-0.8,-0.3M217.6,302.1l-0.0,-0.5M185.1,266.5l-0.4,-0.1M188.1,273.7l-0.3,-0.6M212.3,261.4l0.9,-0.8M181.4,281.5l-0.1,-0.5M227.2,301.3l-0.9,-0.9M207.8,299.4l-0.3,0.9M197.8,261.2l0.5,0.8M230.0,295.5l0.7,0.1M172.3,281.9l-0.5,0.2M222.2,277.3l-0.0,-0.8M190.6,266.2l0.6,-0.6M202.1,277.1l-0.5,-0.3M181.8,268.5l0.2,-0.2M172.8,295.5l0.5,0.3M222.6,280.1l0.9,0.3M209.5,281.3l0.3,-0.6M182.3,310.8l0.5,0.2M220.1,283.6l-0.6,0.4M207.0,276.6l-0.6,-0.6M183.2,286.1l-0.6,0.8M191.8,307.3l-1.0,-0.3M189.6,282.5l-0.9,-0.4M190.1,265.4l-0.3,0.9M183.1,272.2l0.6,0.8M215.3,280.1l-0.2,0.3M199.1,288.9l0.8,0.3M189.6,270.5l-0.0,-0.9M215.8,287.5l0.5,-0.8M200.8,262.4l1.0,0.7M183.8,315.5l-0.6,0.1M220.8,315.8l0.1,0.7M203.1,322.6l0.8,0.1M221.1,272.9l-0.1,-0.4M181.2,296.4l-0.8,-0.8M204.6,271.5l-0.2,0.8M215.0,286.6l0.8,-0.6M204.9,325.5l-0.5,0.1M217.2,319.9l0.3,0.7M185.2,305.2l-0.1,0.1M198.4,304.1l0.2,0.3M227.4,291.1l0.6,-0.0M194.6,275.7l0.9,0.5M186.1,287.1l-0.8,-0.3M187.4,292.2l-0.9,-0.1M186.9,311.0l0.9,0.4M224.8,277.1l-0.9,-0.4M180.2,302.3l-0.9,-0.0M184.2,313.5l0.2,0.9M191.0,277.7l-0.6,0.8M195.0,293.7l0.6,-0.2M197.5,315.1l-0.1,-0.0M196.4,310.8l-0.3,-0.1M204.7,296.4l-0.7,0.5M219.3,281.2l0.9,-0.2M198.6,321.9l-0.2,0.0M186.2,273.3l-0.4,-1.0M205.4,269.9l0.5,-0.7M230.7,280.0l0.1,-0.9M197.9,306.2l0.2,-0.3M182.2,269.9l-0.9,0.3M206.4,312.6l0.7,1.0M210.2,322.8l-0.8,0.2M185.0,291.3l-0.3,0.5M193.3,302.6l-0.9,0.9M221.1,312.5l-1.0,0.1M225.2,269.1l-0.4,0.1M177.5,299.3l0.8,0.2M179.9,283.3l-0.1,0.7M188.1,284.8l-0.2,0.9M203.3,321.0l0.5,0.1M183.8,321.7l0.6,-0.9M185.8,284.6l-0.5,0.3M217.4,313.5l0.2,-0.2M175.6,305.7l0.3,0.1M213.4,317.6l-0.8,0.7M189.5,301.0l-0.3,0.0M191.2,282.8l0.9,0.6M221.0,308.5l-1.0,-0.9M226.4,279.2l-0.3,0.4M216.7,302.2l-0.4,0.9M193.0,301.3l0.4,-0.4M193.1,323.8l0.8,-1.0M174.0,290.4l0.1,-0.8M185.2,280.2l0.8,-1.0M227.1,277.3l0.6,-0.4M229.8,286.4l-0.1,-0.6M180.8,271.4l0.2,-0.5M192.7,278.8l0.5,0.4M177.1,291.1l0.4,-0.1M221.4,302.9l-1.0,0.5M224.7,287.9l0.7,-0.3M223.1,269.6l-0.5,-0.4M171.6,299.7l0.8,-0.4M219.4,301.2l-0.0,0.7M200.8,317.8l-0.6,-0.1M233.0,291.6l-0.3,-0.7M189.0,297.3l-0.8,0.6M186.4,306.2l-1.0,-0.0M221.5,317.4l0.3,-0.7M213.6,264.5l0.4,0.1M218.2,290.5l-0.5,0.8M172.1,294.3l0.6,-0.3M211.6,316.7l0.3,-1.0M212.5,323.3l-0.8,0.4M177.4,313.8l0.0,-0.4M194.8,292.5l0.9,0.5M214.2,302.6l-0.3,-0.9M209.0,268.9l-0.2,0.7M211.8,272.6l0.7,-0.1M221.7,269.2l-0.8,-0.1M190.6,313.4l-0.9,0.9M206.4,310.9l0.3,-1.0M229.5,294.5l0.5,0.5M189.7,286.4l-0.0,-0.1M177.7,280.9l0.6,0.9M191.6,295.0l-0.8,0.8M221.9,319.7l0.2,0.3M187.4,279.3l0.8,0.7M213.5,278.2l0.8,0.9M208.7,280.6l-0.7,-0.7M214.0,277.2l-1.0,-0.2M220.8,268.2l-0.2,-0.1M225.0,309.5l0.1,0.4M228.0,298.7l-0.1,0.9M218.0,275.4l-0.1,-0.0M205.0,260.7l0.0,-0.8M209.6,314.1l-1.0,0.1M174.8,276.3l0.1,0.3M213.5,269.8l0.8,-0.8M197.0,308.0l0.2,-0.2M194.3,271.4l0.8,-0.0M196.6,266.9l-0.2,-0.8M206.6,281.6l0.3,0.3M210.4,326.5l0.7,0.8M197.8,260.7l0.5,-0.2M200.0,309.2l0.8,-0.5M225.8,307.8l-0.7,-0.5M221.9,303.3l-0.4,-0.5M198.2,265.0l0.5,0.0M216.6,280.2l-0.0,0.7M188.9,266.9l-0.4,-0.5M229.4,297.3l0.0,-0.8M215.0,278.6l0.0,-0.6M223.1,316.8l0.3,-0.1" stroke="#464646" stroke-width="1.6" stroke-linecap="round" fill="none"/>
<path d="M178.2,301.7l-0.1,0.7M185.2,274.5l0.3,0.2M187.3,275.5l0.3,-0.2M205.4,272.2l-0.2,-0.6M216.8,288.7l0.2,-0.2M175.7,300.0l-0.5,0.6M217.5,276.6l0.9,0.4M189.7,318.9l0.6,0.5M230.5,280.2l0.3,0.4M211.2,262.8l-0.7,-0.1M235.2,294.2l0.9,-0.0M218.4,275.2l0.9,0.7M177.9,312.1l-0.8,-0.7M171.0,302.6l-0.5,-0.1M176.7,309.7l0.7,-0.2M211.3,320.9l-0.7,-0.6M171.5,302.8l0.0,-0.1M176.4,300.6l0.1,-0.6M230.1,294.2l1.0,-1.0M222.4,286.2l0.1,0.2M185.9,299.0l-0.3,0.5M214.7,308.2l-0.8,0.8M216.4,266.0l-0.2,-0.5M213.9,319.5l0.8,-0.8M199.6,273.7l0.1,0.8M211.1,266.0l0.1,0.7M172.6,298.6l-0.9,0.1M215.3,306.9l0.5,0.0M215.6,269.4l0.7,0.8M191.2,300.5l0.4,-0.4M185.1,290.9l-0.4,-0.8M172.7,299.0l1.0,0.6M221.7,281.3l0.2,-0.7M222.9,302.1l0.1,-0.7M216.6,288.1l0.5,0.6M181.4,312.7l0.9,-0.7M190.3,317.8l0.2,0.5M209.8,311.8l-0.6,-0.3M228.5,283.9l0.2,0.3M214.6,312.6l-0.8,-0.2M229.9,300.8l0.2,-0.1M230.1,304.0l0.2,0.5M177.9,299.6l0.8,-0.9M228.9,295.3l0.6,-0.8M231.9,289.7l-1.0,0.8M194.2,292.6l0.6,0.0M204.2,282.9l0.1,-0.5M199.6,277.0l-0.5,-0.6M181.7,292.8l0.4,0.7M183.2,274.6l0.8,-0.7M188.1,280.3l-0.6,-0.6M227.7,317.5l-0.8,0.8M205.9,269.8l0.2,-0.0M222.6,301.9l-0.0,0.4M184.4,288.5l-0.7,-0.6M201.2,261.7l0.2,0.4M230.8,283.6l0.2,-0.9M195.4,277.9l1.0,-0.7M177.8,313.0l-1.0,0.1M189.0,295.9l-0.9,-0.5M183.4,282.5l0.3,-0.7M177.9,314.3l-0.7,0.6M197.6,297.5l0.1,-0.6M195.9,304.9l-0.2,0.6M206.5,260.5l-0.2,0.4M199.7,295.6l-0.8,0.9M199.3,293.7l0.8,-0.9M190.0,313.0l0.0,0.1M230.6,281.4l-0.2,-0.2M214.3,312.5l-0.1,0.2M183.8,281.0l0.7,0.5M218.1,289.8l-0.6,-0.2M189.1,324.8l-0.2,0.6M207.9,305.3l-0.9,-0.4M216.2,317.4l-0.7,-0.8M227.0,307.2l-0.2,0.5M224.5,318.1l-0.4,-0.8M204.0,283.2l0.8,-0.8M181.9,282.0l-0.8,0.6M178.5,273.6l0.6,-0.5M197.9,309.3l-0.3,-0.0M222.8,298.3l0.5,-0.3M208.7,319.8l0.3,-0.3M209.2,267.6l-0.9,0.2M183.5,286.8l0.4,0.6M216.1,271.8l-0.6,0.4M174.5,306.0l-0.8,0.5M234.9,289.2l-0.8,-0.6M198.4,285.1l0.9,0.8M208.7,306.0l-0.6,0.8M204.4,290.5l0.9,-0.2M207.6,305.1l0.5,0.1M195.5,285.7l-0.3,1.0M211.4,266.0l0.2,-0.9M183.4,283.4l-0.5,0.9M211.3,268.0l-0.2,-0.0M195.3,290.8l-0.9,-0.7M171.4,282.9l-0.7,-0.4M169.8,293.6l0.6,1.0M189.9,274.6l0.9,0.3M187.1,292.4l-0.4,-0.6M191.7,274.5l0.6,0.7M228.3,284.7l0.4,-0.9M194.3,326.5l0.5,-0.3M224.7,283.0l-0.6,0.8M211.0,289.4l0.4,0.5M181.0,300.3l-0.6,-0.5M201.2,293.7l0.7,1.0M190.7,278.3l0.5,0.2M233.7,298.5l0.5,0.7M171.1,299.5l0.4,0.0M197.3,261.3l-0.1,0.3M210.9,282.2l-1.0,-0.2M201.1,320.9l-0.4,0.9M209.2,271.0l0.4,-0.8M181.2,280.2l0.4,-0.7M177.7,292.0l-0.7,-0.4M186.0,321.6l0.4,-0.9M222.4,321.4l0.8,-0.6M202.5,309.0l-0.9,-0.8M183.7,292.8l0.4,0.0M199.4,308.8l0.4,0.5M196.2,265.3l0.2,0.1M212.0,269.3l-0.6,-0.1M178.4,272.8l-0.7,0.4M223.1,285.4l-0.4,-0.4M229.5,279.3l0.7,0.9M193.8,313.8l0.1,0.2M208.2,316.3l0.2,0.0M207.6,276.4l0.6,-0.2M169.9,287.2l-0.7,-0.2M170.2,286.0l-0.2,0.3M187.0,283.0l-0.1,-0.5M223.9,272.0l-0.8,-0.7M181.5,279.5l-1.0,1.0M192.8,303.5l-0.6,0.5M198.0,305.9l-0.3,-0.6M234.5,298.1l0.1,-0.7M185.2,306.0l0.9,-0.8M202.8,286.7l0.7,-0.6M195.1,297.5l0.4,0.6M224.3,287.1l0.6,0.2M178.6,275.2l-0.1,-1.0M225.9,292.9l0.4,0.1M196.6,312.7l0.8,-0.4M220.3,308.5l0.9,0.0M224.0,317.3l0.7,-0.0M199.5,321.6l0.4,-0.8M203.2,295.4l-0.9,-0.7M206.5,320.9l-0.2,0.1M197.5,308.1l-0.9,0.2M229.8,277.5l-0.8,0.5M184.8,320.1l-0.8,0.3M211.3,271.9l0.7,0.6M196.0,287.1l1.0,-0.4M222.1,312.9l0.4,-0.7M201.5,263.0l-0.7,-1.0M201.6,276.2l-0.1,-0.7M219.9,307.2l0.5,-0.2M198.8,272.2l0.9,0.7M195.9,323.7l0.6,-1.0M217.3,286.1l-0.7,-0.5M179.3,306.7l0.3,0.9M228.6,272.4l-0.0,1.0M187.5,279.5l-0.2,0.2M188.1,301.3l-0.5,0.2M208.5,310.7l-0.3,-0.1M202.4,312.9l-0.8,-0.3M226.8,297.2l0.0,0.6M208.4,270.8l-0.2,0.7M213.3,267.1l0.4,0.0M207.3,311.3l-0.3,-1.0M213.7,307.6l-0.0,-0.2M223.6,274.5l0.9,-0.2M188.1,279.1l-0.4,-0.8M223.7,283.0l-0.7,-0.1M172.4,302.9l0.1,0.5M188.7,296.2l1.0,0.1M198.1,284.1l-0.8,0.8M232.1,288.5l-0.2,0.5M184.8,278.3l0.8,-0.4M169.3,294.4l0.3,-0.6M202.4,327.6l-0.7,-0.8M199.3,268.7l-0.2,0.7M203.9,303.9l0.4,-0.6M202.6,268.5l0.0,1.0M177.0,303.3l0.9,-0.5M235.6,290.3l0.6,0.1M227.2,280.5l-0.3,-0.4M186.2,307.2l1.0,-0.2M170.5,304.0l-0.9,-0.4M209.5,300.3l-0.6,0.2M226.0,308.0l-0.6,-0.1M206.2,273.1l0.7,-0.1M178.5,294.5l-0.6,-0.2M199.3,327.2l-0.8,-0.9M176.5,293.6l-0.3,-0.4M225.7,281.3l0.1,0.9M168.7,292.8l-0.5,0.7M178.7,302.0l-0.3,-0.3M193.8,322.9l-0.8,0.8M183.3,272.5l-0.7,0.9M211.8,276.5l1.0,-0.5M208.3,265.9l0.9,0.6M210.2,314.7l0.4,0.2M210.4,326.9l0.5,-0.8M199.5,292.0l0.8,-0.1M226.1,300.3l-0.5,0.2M229.0,313.5l0.5,0.2M213.0,279.8l0.9,0.3M206.4,270.7l0.3,0.4M219.6,294.6l0.3,0.9M209.3,266.3l0.1,-0.9M222.6,273.3l0.5,-0.6M204.6,292.2l-0.8,-0.8M216.5,306.2l1.0,0.7M199.7,290.4l0.8,-0.1M184.2,282.3l-0.0,0.6M217.9,295.6l0.9,0.4M196.5,267.6l0.9,0.0M185.0,265.2l0.1,0.8M209.9,281.7l-0.3,0.5M178.3,288.5l0.6,0.4M210.5,306.5l-0.7,0.8M181.9,290.6l0.8,-0.9M220.2,297.4l-0.0,0.7M205.5,324.2l0.9,0.9M172.9,288.0l0.4,0.1M212.0,301.0l-0.5,0.5M221.9,277.8l0.1,-0.9M208.9,271.2l0.8,0.5M219.4,277.3l-0.8,0.3M211.5,268.9l0.0,0.3M205.3,307.3l0.5,0.5M184.8,288.4l0.7,0.6M199.4,326.2l-1.0,-0.2" stroke="#404040" stroke-width="2.1" stroke-linecap="round" fill="none"/>
</g>
<rect x="295.3" y="256.3" width="81" height="82" fill="#fcfcfc"/>
<g filter="url(#bl)">
<circle cx="335.8" cy="297.3" r="37.9" fill="#fdfdfd" stroke="#b2b2b2" stroke-width="3.0"/>
<circle cx="335.8" cy="297.3" r="39.0" fill="none" stroke="#8a8a8a" stroke-width="0.7"/>
<circle cx="336.0" cy="297.3" r="36.7" fill="none" stroke="#707070" stroke-width="0.9"/>
<circle cx="334.6" cy="296.90000000000003" r="34.3" fill="#f9f9f9" stroke="#666" stroke-width="1.3"/>
<path d="M312.4,317.9h0M342.8,276.6h0M324.4,309.5h0M332.0,300.2h0M350.3,279.8h0M334.1,325.5h0M347.5,271.1h0M331.6,266.9h0M307.0,311.1h0M328.4,327.2h0M321.3,304.8h0M346.1,316.7h0M306.8,301.5h0M337.0,285.4h0M311.1,312.2h0M306.0,296.6h0M333.0,299.9h0M334.9,283.7h0M357.0,313.6h0M347.2,282.3h0M312.5,285.6h0M326.9,267.0h0M329.1,270.3h0M345.8,290.2h0M352.4,323.2h0M357.4,284.3h0M323.3,296.8h0M335.1,313.7h0M315.7,319.8h0M329.6,301.8h0M362.8,285.4h0M342.9,268.1h0M357.6,276.0h0M358.1,318.1h0M354.1,276.4h0M343.6,272.2h0M345.2,287.9h0M363.8,307.0h0M363.7,300.9h0M346.8,291.7h0M360.0,293.4h0M351.9,280.9h0M323.0,294.2h0M325.3,269.7h0M360.5,286.4h0M310.1,279.1h0M344.4,321.0h0M330.8,274.0h0M308.4,292.7h0M303.4,302.9h0M348.0,275.6h0M351.2,271.9h0M334.9,282.7h0M357.7,277.3h0M350.6,306.1h0M329.7,300.7h0M320.6,312.5h0M338.5,302.2h0M337.0,318.6h0M330.6,303.2h0M358.2,286.3h0M311.7,291.4h0M328.5,303.6h0M338.5,294.5h0M363.3,304.3h0M316.7,306.2h0M329.7,311.8h0M327.1,267.2h0M340.5,299.2h0M341.2,305.1h0M331.0,309.0h0M320.3,314.3h0M344.4,317.8h0M332.2,266.5h0M326.2,321.5h0M344.6,286.5h0M366.2,292.3h0M339.6,310.5h0M330.3,298.7h0M345.9,309.6h0M360.8,310.0h0M316.6,313.5h0M331.6,282.4h0M342.7,310.8h0M346.6,314.1h0M311.5,314.5h0M343.0,322.0h0M328.7,296.9h0M314.8,307.1h0M340.9,297.9h0M333.0,270.6h0M308.8,280.1h0M311.1,289.6h0M357.3,280.1h0M329.6,323.0h0M346.5,281.0h0M349.5,278.2h0M328.6,305.5h0M348.1,299.5h0M346.8,326.9h0M341.4,302.3h0M331.4,293.1h0M316.9,312.6h0M330.7,328.1h0M358.6,316.0h0M321.1,285.3h0M340.0,283.6h0M349.2,293.7h0M333.6,286.8h0M306.2,297.6h0M325.8,279.3h0M351.9,315.6h0M358.8,280.2h0M311.3,301.6h0M317.7,275.0h0M303.3,297.8h0M331.5,291.6h0M334.6,303.9h0M335.5,295.6h0M343.9,279.8h0M343.2,311.1h0M323.7,301.7h0M344.9,316.8h0M355.5,307.8h0M365.6,289.6h0M339.5,264.8h0M352.9,270.6h0M325.1,282.7h0M364.6,308.2h0M332.6,313.3h0M323.7,296.3h0M311.7,307.3h0M345.9,306.4h0M357.3,288.5h0M334.7,328.1h0M320.5,303.7h0M318.1,303.7h0M347.7,313.4h0M323.7,321.7h0M308.8,309.3h0M338.8,279.6h0M333.6,305.8h0M361.6,309.5h0M352.0,298.8h0M321.1,299.0h0M325.3,278.7h0M361.9,294.6h0M328.9,317.7h0M345.3,294.1h0M365.0,302.6h0M315.7,281.7h0M361.8,294.4h0M347.4,271.3h0M314.9,271.4h0M330.5,277.8h0M324.1,299.2h0M346.7,282.5h0M320.6,301.9h0M342.9,296.2h0M324.8,310.6h0M333.6,284.5h0M312.2,302.3h0M352.4,301.9h0M343.9,269.9h0M344.7,302.1h0M326.9,306.9h0M342.8,288.1h0M304.9,304.3h0M326.3,309.0h0M323.6,283.9h0M331.5,267.1h0M345.0,323.8h0M323.5,273.8h0M360.5,311.8h0M339.8,323.8h0M347.2,287.3h0M349.2,300.7h0M309.7,313.3h0M345.2,321.1h0M314.9,311.2h0M330.8,276.9h0M329.0,289.8h0M320.7,322.2h0M363.8,300.8h0M354.7,275.2h0M322.7,304.1h0M332.2,298.8h0M337.6,297.4h0M302.9,299.1h0M355.8,320.9h0M345.6,267.9h0M313.3,289.5h0M318.7,292.4h0M321.7,294.7h0M314.3,305.2h0M309.6,308.1h0M336.1,290.3h0M319.2,308.1h0M327.6,273.3h0M348.2,296.3h0M344.4,326.2h0M340.2,302.7h0M321.2,280.3h0M342.8,321.0h0M329.0,319.1h0M333.1,314.9h0M319.2,275.0h0M340.1,303.5h0M332.7,316.2h0M304.8,291.7h0M344.4,301.4h0M304.0,291.0h0M325.5,324.8h0M344.3,307.1h0M347.2,290.6h0M326.8,274.1h0M359.5,316.4h0M364.2,286.5h0M350.9,322.2h0M359.1,279.4h0M354.2,307.7h0M321.0,274.1h0M333.4,294.7h0M337.7,276.9h0M340.7,282.7h0M340.8,283.8h0M327.3,313.8h0M349.7,284.9h0M337.9,290.9h0M326.5,323.0h0M346.2,283.2h0M358.0,277.1h0M342.3,299.7h0M361.4,293.1h0M353.5,305.9h0M350.3,279.0h0M336.9,309.2h0M317.8,315.8h0M332.5,312.3h0M349.2,290.9h0M343.4,325.3h0M339.3,302.0h0M337.6,326.0h0M346.0,299.4h0M345.3,294.9h0M324.4,270.0h0M334.5,297.1h0M345.6,270.2h0M307.8,288.2h0M344.5,281.1h0M302.9,302.8h0M329.6,324.0h0M327.6,316.1h0M309.9,300.0h0M352.2,286.7h0M349.8,299.1h0M323.4,317.5h0M309.8,287.0h0M349.8,295.8h0M355.6,300.1h0M323.3,327.3h0M363.0,310.8h0M328.3,294.5h0M305.2,310.8h0M337.4,269.9h0M333.4,267.7h0M332.7,311.5h0M355.0,279.2h0M307.7,289.6h0M360.9,302.8h0M356.8,307.1h0M353.5,274.5h0M318.2,277.7h0M332.6,284.5h0M319.3,321.7h0M313.1,306.2h0M345.5,271.7h0M332.5,290.1h0M342.7,311.7h0M320.5,304.2h0M348.3,282.9h0M313.6,298.2h0M350.8,289.3h0M349.7,294.9h0M304.5,299.5h0M361.1,296.8h0M332.2,283.8h0M359.3,313.6h0M337.1,319.2h0M318.7,271.1h0M361.0,312.7h0M323.9,298.1h0M319.3,275.9h0M357.6,318.9h0M336.5,321.4h0M336.4,283.6h0M356.9,304.4h0M310.8,285.1h0M313.1,294.1h0M304.4,293.0h0M345.6,324.9h0M359.8,303.3h0M361.2,284.7h0M350.2,304.8h0M335.8,293.3h0M334.2,318.9h0M346.6,289.1h0M350.1,303.8h0M311.9,298.2h0M343.7,309.2h0M337.7,297.5h0M311.2,284.3h0M307.9,288.7h0M326.9,266.4h0M326.3,274.1h0M307.3,287.2h0M340.6,299.2h0M315.2,308.0h0M346.5,294.7h0M335.1,302.8h0M338.5,313.8h0M361.3,300.4h0M343.5,282.4h0M330.8,306.8h0M327.2,320.7h0M344.6,314.4h0M346.8,269.6h0M333.9,302.3h0M344.2,326.5h0M342.6,291.0h0M348.3,270.9h0M326.2,297.9h0M315.3,318.2h0M325.5,310.0h0M335.5,308.6h0M305.3,284.7h0M331.2,299.0h0M359.1,276.0h0M331.0,322.4h0M356.8,307.9h0M358.9,281.3h0M326.2,291.3h0M359.0,295.0h0M312.3,315.7h0M362.7,284.8h0M347.5,297.5h0M305.4,290.9h0M323.6,269.0h0M334.9,287.2h0M338.1,318.2h0M334.8,273.8h0M359.4,281.4h0M345.3,295.6h0M365.6,292.0h0M355.6,278.5h0M335.7,300.1h0M353.3,294.1h0M319.4,310.2h0M323.5,268.0h0M316.1,277.1h0M303.5,293.5h0M362.8,302.0h0M312.4,316.3h0M356.4,308.7h0M344.5,316.9h0M344.1,310.4h0M306.3,289.4h0M306.5,286.3h0M363.4,309.2h0M315.1,278.6h0M323.1,325.8h0M327.4,328.5h0M315.5,275.0h0M312.7,308.0h0M315.8,300.9h0M358.3,303.1h0M316.4,323.9h0M325.7,305.4h0M329.8,324.1h0M334.9,318.4h0" stroke="#b8b8b8" stroke-width="0.55" stroke-linecap="round" fill="none"/>
<path d="M340.7,275.8h0M351.6,308.8h0M341.9,282.6h0M329.1,303.0h0M356.4,317.1h0M354.0,285.9h0M362.4,310.6h0M335.3,326.8h0M334.9,267.4h0M352.0,316.2h0M345.5,298.0h0M312.5,304.5h0M319.2,297.7h0M334.9,269.0h0M365.2,307.0h0M316.0,274.4h0M307.9,289.0h0M330.6,325.5h0M335.3,283.3h0M309.4,314.4h0M364.1,308.7h0M319.8,274.3h0M328.8,291.9h0M330.6,282.8h0M335.6,304.3h0M346.3,318.8h0M327.5,280.9h0M362.0,284.6h0M363.2,286.7h0M357.2,320.2h0M310.2,308.6h0M325.1,320.5h0M338.8,313.8h0M352.8,274.4h0M359.0,299.2h0M339.9,317.9h0M337.3,269.6h0M355.0,274.7h0M310.2,277.7h0M338.0,316.7h0M345.3,325.2h0M356.7,287.6h0M325.0,275.5h0M327.5,317.9h0M318.1,276.9h0M345.9,301.4h0M329.5,266.5h0M337.3,311.7h0M366.6,294.1h0M314.2,294.8h0M334.5,276.6h0M357.6,279.5h0M360.1,312.1h0M360.9,310.2h0M326.4,311.3h0M332.0,269.0h0M336.0,264.9h0M362.5,304.1h0M325.2,291.9h0M314.7,285.9h0M342.8,315.1h0M360.5,277.3h0M332.9,318.0h0M325.7,299.2h0M342.7,310.4h0M356.9,275.7h0M337.7,296.4h0M331.8,315.5h0M309.3,279.2h0M313.9,290.2h0M318.0,293.1h0M324.8,297.2h0M318.6,293.9h0M322.7,306.5h0M311.5,290.6h0M334.3,324.6h0M319.1,316.6h0M314.6,316.9h0M322.0,284.0h0M313.1,297.7h0M345.3,303.7h0M357.2,283.1h0M307.3,306.4h0M360.1,276.9h0M337.5,306.4h0M313.0,291.3h0M343.8,311.3h0M334.1,316.3h0M352.0,322.8h0M348.8,287.6h0M315.3,298.2h0M319.5,305.9h0M322.5,308.0h0M316.2,319.4h0M317.0,295.8h0M320.8,319.7h0M343.8,269.7h0M345.8,297.6h0M351.5,283.4h0M322.9,294.6h0M322.4,316.0h0M352.3,304.5h0M328.5,283.0h0M331.8,265.6h0M315.4,271.5h0M326.2,318.9h0M321.2,287.0h0M333.9,315.3h0M315.7,322.6h0M316.4,278.1h0M303.5,296.2h0M339.1,268.2h0M365.8,295.8h0M334.9,268.4h0M333.1,302.9h0M331.3,329.2h0M320.3,305.9h0M350.0,320.4h0M322.2,282.6h0M333.5,272.9h0M341.0,287.0h0M335.8,321.6h0M332.6,309.1h0M336.5,293.2h0M329.4,307.4h0M351.4,270.3h0M335.4,298.4h0M360.3,304.0h0M313.4,309.9h0M351.0,303.3h0" stroke="#7c7c7c" stroke-width="0.8" stroke-linecap="round" fill="none"/>
<path d="M351.4,301.0h0M332.3,300.5h0M366.9,294.9h0M355.8,320.2h0M341.7,274.9h0M343.2,315.5h0M334.8,284.0h0M332.7,302.9h0M313.5,300.6h0M308.1,313.6h0M316.8,279.2h0M351.8,271.3h0M351.5,308.5h0M345.8,327.3h0M324.1,322.1h0M337.6,278.8h0M320.3,292.4h0M319.9,283.9h0M343.9,308.7h0M339.9,314.3h0M348.0,290.6h0M343.0,318.7h0M328.4,265.3h0M316.1,322.6h0M327.9,307.9h0M322.0,301.0h0M306.4,295.9h0M331.6,295.8h0" stroke="#484848" stroke-width="1.3" stroke-linecap="round" fill="none"/>
</g>
<rect x="427.6" y="253.0" width="81" height="82" fill="#fcfcfc"/>
<circle cx="468.1" cy="294.0" r="39.4" fill="#fff" stroke="#444" stroke-width="0.55"/>
<g filter="url(#bl)">
<circle cx="468.1" cy="294.0" r="37.8" fill="none" stroke="#cfcfcf" stroke-width="1.0"/>
<circle cx="468.1" cy="294.0" r="35.9" fill="#fff" stroke="#333" stroke-width="2.4"/>
<circle cx="468.1" cy="294.0" r="34.3" fill="none" stroke="#8a8a8a" stroke-width="0.9"/>
<path d="M454.6,309.8h0M445.1,313.2h0M499.2,292.8h0M459.3,320.2h0M464.4,263.6h0M449.6,302.0h0M449.1,281.8h0M471.9,319.0h0M484.6,320.3h0M449.9,276.2h0M489.6,311.8h0M492.3,298.1h0M494.2,281.6h0M470.3,306.6h0M463.2,289.8h0M490.8,281.9h0M489.9,317.4h0M455.9,320.5h0M445.0,313.2h0M443.2,305.7h0M461.8,288.7h0M437.6,295.2h0M498.0,277.7h0M473.6,308.7h0M450.5,304.7h0M457.5,317.8h0M449.7,309.2h0M493.7,280.8h0M478.6,320.8h0M484.1,306.9h0M438.1,295.9h0M477.8,314.2h0M486.6,294.7h0M447.9,304.1h0M445.2,301.2h0M478.5,284.0h0M485.7,271.1h0M454.1,306.7h0M486.7,270.6h0M470.8,283.8h0M442.8,308.7h0M498.0,286.5h0M489.6,284.7h0M475.5,272.0h0M449.6,306.2h0M440.8,280.9h0M488.9,313.1h0M454.1,297.4h0M488.3,304.8h0M474.6,321.0h0M463.9,264.7h0M446.9,311.8h0M472.7,307.4h0M499.5,302.3h0M453.1,321.4h0M449.6,292.2h0M435.4,288.4h0M441.0,291.4h0M443.6,306.5h0M496.1,275.4h0M461.3,271.0h0M443.3,287.3h0M470.5,319.4h0M440.7,310.1h0M443.3,302.5h0M446.5,281.6h0M466.4,290.8h0M492.7,284.3h0M442.6,309.4h0M474.0,311.1h0M483.5,310.0h0M452.5,275.5h0M438.0,277.4h0M492.6,318.1h0M489.0,296.8h0M472.0,262.2h0M467.9,274.2h0M483.3,308.6h0M489.7,295.3h0M447.3,294.9h0M475.5,281.9h0M478.3,278.5h0M446.9,272.2h0M484.5,290.8h0M476.7,301.6h0M470.9,269.7h0M477.1,315.4h0M481.4,313.9h0M473.9,285.4h0M481.7,309.6h0M478.5,286.1h0M454.3,312.0h0M461.9,294.0h0M435.0,302.4h0M444.7,306.6h0M487.4,285.7h0M461.2,314.0h0M480.3,304.1h0M476.3,289.6h0M442.7,298.0h0M462.8,285.9h0M470.4,311.4h0M442.4,303.6h0M494.3,298.5h0M479.5,291.4h0M488.7,298.0h0M484.3,280.1h0M454.9,318.9h0M446.8,306.3h0M460.0,296.6h0M462.4,278.7h0M465.9,314.1h0M448.0,275.9h0M500.6,297.2h0M458.8,314.4h0M484.2,280.6h0M444.0,273.0h0M442.3,273.8h0M475.7,289.7h0M490.4,296.6h0M455.7,278.2h0M455.2,287.6h0M468.3,288.9h0M475.7,263.3h0M447.0,305.5h0M474.0,276.2h0M450.0,295.9h0M444.9,294.3h0M482.6,276.0h0M478.6,273.6h0M458.0,302.1h0M479.4,309.6h0M496.5,283.3h0M445.9,306.5h0" stroke="#6a6a6a" stroke-width="0.6" stroke-linecap="round" fill="none"/>
<path d="M476.2,312.2h0M478.6,311.8h0M457.4,320.6h0M455.0,263.0h0M471.0,306.9h0M449.3,288.0h0M500.5,289.3h0M469.6,319.1h0M474.7,299.1h0M498.1,293.8h0M501.0,288.2h0M471.9,321.0h0M478.6,290.8h0M475.4,301.1h0M498.3,307.1h0M475.1,263.1h0M473.1,272.2h0M483.7,308.7h0M477.5,310.4h0M484.8,316.2h0M456.7,321.8h0M486.6,271.3h0M491.9,283.2h0M478.0,310.6h0M472.9,261.7h0M488.7,301.4h0M477.0,321.7h0M453.8,277.3h0M499.8,291.0h0M473.0,312.8h0M488.4,320.5h0M474.0,303.9h0M449.8,280.4h0M481.9,303.5h0M492.7,280.9h0M454.1,274.5h0M466.4,288.1h0M459.1,270.9h0M483.2,308.7h0M476.7,322.0h0M476.3,268.4h0M466.3,286.5h0M436.8,293.5h0M460.1,289.0h0M480.7,302.5h0M474.7,320.2h0M469.6,294.7h0M469.7,261.0h0M478.0,289.7h0M455.0,306.3h0M480.2,310.6h0M457.8,322.1h0M440.4,301.5h0M494.1,286.8h0M457.1,295.3h0M497.7,287.9h0M457.5,292.7h0M438.4,295.0h0M438.7,281.8h0M454.7,307.0h0M446.4,306.9h0M473.3,316.7h0M454.1,287.8h0M495.3,291.3h0M474.6,315.4h0M441.4,300.9h0M479.6,270.1h0M435.7,285.7h0M489.4,303.5h0M458.4,321.2h0M476.0,270.2h0M472.9,299.8h0M460.3,274.1h0M498.3,294.9h0M472.0,315.9h0M451.7,310.0h0M473.1,289.7h0M458.7,310.8h0M463.0,307.5h0M453.4,297.9h0M474.8,264.0h0M465.8,315.8h0M440.3,289.6h0M500.2,302.4h0M466.0,327.1h0M465.1,296.7h0M458.8,303.6h0M464.0,320.1h0M453.5,271.6h0M452.2,311.4h0M471.6,306.5h0M483.9,310.7h0M468.8,313.5h0M467.7,288.4h0M438.2,305.2h0M497.2,303.9h0M492.8,273.4h0M438.5,289.8h0M489.9,273.2h0M438.8,293.0h0M460.1,315.2h0M464.9,285.9h0M450.3,283.2h0M484.2,323.3h0M479.9,317.2h0M456.8,294.1h0M460.9,288.4h0M464.4,324.6h0M460.8,304.3h0M454.7,320.9h0M501.9,291.2h0M461.8,264.4h0M461.5,305.0h0M458.6,306.1h0M479.7,278.5h0M488.2,299.3h0M455.2,306.1h0M458.9,311.4h0M465.7,295.2h0M445.0,308.6h0M448.0,296.9h0M478.9,283.2h0M447.4,273.5h0M458.1,283.4h0M493.1,287.1h0M438.0,296.3h0M445.3,316.5h0M487.4,274.4h0M489.1,288.9h0M484.6,310.1h0M445.8,307.1h0M471.1,272.1h0M444.9,278.5h0M477.9,321.1h0M450.6,279.9h0M457.0,315.7h0M445.8,306.3h0M491.2,286.7h0M443.1,287.8h0M470.3,321.7h0M470.4,310.7h0M479.6,285.2h0M446.4,280.3h0" stroke="#4c4c4c" stroke-width="1.0" stroke-linecap="round" fill="none"/>
<path d="M459.3,321.1l0.8,1.0M471.9,308.6l0.3,-0.7M452.1,312.0l0.4,0.4M482.6,320.2l0.9,-0.1M453.8,306.6l0.1,0.2M463.6,263.7l-0.3,-0.0M484.9,264.6l-0.2,-0.4M457.9,268.9l-0.6,-0.9M446.1,314.8l-0.5,-0.1M452.6,292.3l0.6,0.2M496.3,290.9l0.4,0.9M477.6,283.9l0.8,-0.7M463.4,261.1l-0.3,-0.4M461.3,325.2l0.4,-0.8M460.2,304.7l-0.4,0.6M461.3,304.3l0.4,-0.8M476.4,272.2l-0.2,0.6M471.3,315.5l0.7,-0.9M483.8,266.9l0.4,0.3M455.3,285.0l0.7,0.4M470.2,314.0l-0.8,0.3M453.9,295.8l0.2,1.0M483.4,307.2l-0.9,0.6M479.4,311.1l0.1,0.7M451.4,267.3l-0.6,-0.4M460.5,317.8l0.1,0.4M487.7,321.5l0.6,0.4M438.9,296.2l0.7,-0.5M486.9,289.7l0.5,0.7M459.7,304.0l-0.5,0.1M499.8,306.5l0.7,-0.2M471.8,318.3l0.6,-0.5M442.0,290.2l-0.4,-0.7M492.5,306.6l1.0,0.8M488.1,285.6l0.6,0.2M456.7,292.8l-0.7,-1.0M464.3,292.6l-0.2,-0.8M461.9,320.6l0.7,0.4M461.7,274.7l-0.3,-0.1M451.6,291.9l-0.4,-0.9M465.1,303.3l-0.3,-0.4M455.4,320.2l0.9,0.6M451.0,293.7l-0.9,0.7M449.9,268.0l-0.7,0.5M464.2,271.0l-1.0,-0.1M446.0,305.6l0.5,0.6M493.8,300.6l-0.1,-0.1M440.8,291.3l-0.8,0.7M438.9,296.0l-0.6,0.4M468.6,310.6l0.8,0.1M462.3,286.1l-0.7,-0.7M462.5,315.2l0.2,-0.7M449.6,281.1l-0.5,0.5M484.5,292.3l0.0,-0.1M459.0,268.9l-0.5,-0.8M439.2,288.5l1.0,-0.9M469.8,310.2l0.4,-0.5M470.1,328.2l0.5,0.7M482.8,277.0l-0.7,0.0M466.4,264.0l1.0,0.2M444.7,305.4l-0.3,0.5M453.3,276.2l0.6,-0.1M481.3,324.0l-0.6,-0.3M498.9,287.5l-0.3,1.0M438.6,285.0l-0.3,0.9M495.2,277.8l0.1,-0.8M469.4,326.4l-0.6,-0.2M471.8,273.1l0.8,-0.1M486.6,311.0l0.9,-0.3M446.4,307.1l0.9,0.9M464.7,263.4l0.7,-0.9M436.9,284.5l0.8,-0.5M463.2,277.9l0.2,-1.0M483.0,314.3l0.1,-0.5M451.2,266.8l0.6,0.6M483.3,315.3l0.4,0.2M478.7,309.8l0.1,-0.2M492.0,292.1l1.0,0.8M462.5,287.1l0.6,0.6M458.0,308.3l-0.4,0.3M446.0,315.9l0.7,0.4M489.6,274.1l-0.7,0.5M442.0,289.4l0.4,-0.5M470.8,299.6l-0.0,0.6M454.6,278.8l0.7,-0.2M485.4,280.8l0.1,-0.3M443.0,282.5l0.9,-0.8M490.1,283.6l-0.5,-0.5M441.4,292.0l0.4,-0.3M456.5,300.3l-0.4,-0.5M447.5,316.5l0.6,-1.0M477.7,272.3l0.4,0.2M501.3,294.5l-0.4,-0.4M449.8,268.6l0.3,0.9M451.6,267.4l0.8,0.3M443.3,305.8l0.1,-0.5M458.8,292.1l-0.6,-0.5M464.0,322.1l0.1,0.8M448.3,266.9l-0.5,0.5M474.1,305.4l-0.7,0.2M496.9,303.6l0.0,0.8M469.1,291.3l-0.9,1.0M475.6,285.3l0.5,0.4M492.0,298.0l0.9,0.2M462.4,313.3l0.7,0.3M494.1,273.6l0.7,0.3M474.0,260.5l0.4,-0.7M487.7,322.1l-0.8,-0.8M477.7,263.5l-0.7,-0.4M501.0,293.8l-0.1,0.7M489.7,315.7l-0.0,0.5M458.7,310.9l-0.0,-0.5M484.2,292.7l0.0,-0.5M440.4,306.6l0.4,-0.9M448.2,270.4l-0.7,0.6M455.8,283.5l-0.0,-0.9M479.3,290.9l0.2,0.0M501.5,293.2l0.7,0.9" stroke="#3c3c3c" stroke-width="1.6" stroke-linecap="round" fill="none"/>
<path d="M463.5,263.1l-0.6,0.4M459.6,304.2l0.4,-0.1M476.4,303.9l0.0,-0.7M449.3,277.1l0.4,-0.7M467.6,278.5l0.7,0.2M489.2,316.8l-0.8,-0.6M450.4,304.1l0.5,0.7M498.4,306.2l0.2,0.1M459.3,297.7l-0.0,0.9M462.0,276.9l-0.3,-0.1M462.3,274.9l-0.6,0.9M487.0,297.3l0.6,-0.7M463.1,262.6l-0.3,-0.2M476.2,290.8l0.3,-0.4M450.3,276.2l0.2,0.5M454.1,298.2l0.4,-0.3M498.5,293.6l-0.4,0.7M456.0,294.9l0.2,0.1M472.2,320.8l0.7,-0.4M490.3,309.7l-0.4,0.3M460.7,326.0l0.1,-0.6M459.0,275.4l-1.0,-0.9M446.4,296.4l0.9,0.2M477.2,270.9l0.6,0.6M460.5,284.8l0.5,-0.8M494.7,280.6l-0.5,0.1M461.5,315.6l-0.2,-0.5M472.3,272.1l0.3,-0.4M441.6,309.4l0.3,0.9M490.7,308.2l0.6,0.3M488.7,302.9l-0.9,0.3M500.2,290.6l0.1,-0.6M477.4,271.9l-0.9,-0.6M465.2,288.1l0.7,-0.1M480.2,325.3l-0.4,0.0M452.7,291.1l-0.5,0.8M464.6,277.8l0.0,-0.9M501.3,285.3l0.7,0.0M483.6,290.2l-0.5,0.5M455.5,274.7l0.9,0.4M469.0,306.6l-0.8,0.7M455.2,313.1l-0.7,-0.5M460.3,324.2l0.2,0.4M476.3,317.0l0.6,0.1M464.3,292.1l0.1,0.3M439.6,283.2l0.4,-0.3M442.3,290.0l0.1,0.2M484.2,307.7l-0.1,0.5M486.4,299.8l1.0,0.6M482.6,280.7l0.5,-0.9M479.8,321.0l0.7,1.0M451.6,277.5l-0.4,-0.4M461.7,291.2l0.4,-0.3M456.7,301.8l0.6,-0.9M469.0,261.4l-0.4,-0.9M455.9,285.6l-0.3,0.6M439.2,304.5l-0.8,-0.1M475.0,286.9l0.9,0.4M471.0,261.7l-0.9,0.0M483.8,281.5l0.8,-1.0M462.2,286.8l-1.0,-0.1M462.3,296.8l0.6,-1.0M461.4,274.0l-0.1,-0.7M446.9,294.3l0.8,-0.4M479.0,291.8l0.6,0.1M444.8,296.6l-0.4,-0.3M486.9,289.9l-0.7,0.7M454.7,323.2l-0.3,-0.5M463.1,287.5l-0.3,-0.8M460.6,311.8l-0.6,0.3M478.3,311.5l-0.1,-0.8M485.6,269.4l-0.4,-0.8M468.5,311.2l0.1,-0.4M492.7,289.7l-0.8,-0.7M441.7,286.2l0.0,-0.9M488.1,292.4l-0.5,-0.4M483.9,281.7l-0.9,0.2M493.8,292.4l-0.2,0.6M440.0,305.2l0.1,0.4M456.9,303.6l0.0,-0.6M451.2,292.5l0.2,-1.0M471.6,266.7l-0.4,-0.7M499.5,301.0l1.0,0.8M475.3,293.4l0.6,0.2M443.4,289.4l-0.6,1.0M446.1,313.2l0.5,-0.2M485.5,276.7l-0.1,-0.7M478.8,288.6l0.5,0.7M454.2,319.7l0.7,-0.1M482.9,310.3l0.9,0.0M463.7,319.2l-0.3,-0.3M494.3,276.8l0.1,-0.6M460.2,302.1l-0.2,0.8M480.3,288.5l0.4,0.1M483.1,309.8l-0.4,0.8M466.1,302.6l-0.7,0.6M470.6,318.2l0.9,-0.2M489.7,283.4l-0.1,-0.2M449.6,291.8l-0.5,0.6M485.0,274.9l0.7,0.9M440.0,290.1l0.9,-0.8M469.7,315.2l0.8,0.2M453.8,276.9l-0.6,-0.5M442.4,283.4l0.9,-0.3M446.5,279.1l0.9,0.8M489.2,286.3l-0.8,0.2M493.7,296.8l-0.4,0.3M492.4,305.4l-0.2,0.8M450.2,316.7l-0.3,0.9M473.7,310.5l-0.4,0.0M452.5,266.9l0.9,0.2M475.9,296.5l-0.1,-0.7M485.5,294.0l0.5,-0.6M477.7,293.1l-0.4,0.5M438.3,293.6l0.4,0.2M467.1,293.4l-0.4,-0.6M495.6,304.3l-1.0,-0.9M458.4,266.1l-0.6,-1.0M443.4,304.3l-0.7,0.9M474.6,269.3l0.5,0.4M467.3,304.9l0.0,-0.5M459.8,265.7l-0.7,0.1M471.9,314.1l0.9,0.0M456.0,317.4l-0.5,-0.4M465.4,289.5l-0.7,0.2" stroke="#343434" stroke-width="2.3" stroke-linecap="round" fill="none"/>
</g>
<text x="71.4" y="250.7" font-size="7.8" fill="#111" text-anchor="middle" >Mock</text>
<text x="202.9" y="250.7" font-size="7.8" fill="#111" text-anchor="middle" >Mitogens</text>
<text x="335.0" y="251.2" font-size="7.8" fill="#111" text-anchor="middle" >Mitogens + CDH1(T129A)</text>
<text x="466.0" y="250.7" font-size="7.8" fill="#111" text-anchor="middle" >Mitogens + CDH1(T129D)</text>
</g>
<g id="panel-e">
<text x="0.0" y="362.2" font-size="11" fill="#111" text-anchor="start" font-weight="bold" stroke="#111" stroke-width="0.45">e</text>
<circle cx="128.2" cy="474.0" r="56.0" fill="#808080"/>
<path d="M128.2,474.0 L128.20,432.00 A42.0,42.0 0 0 1 162.73,497.91 Z" fill="#e6e6e6" stroke="#e6e6e6" stroke-width="0.5" stroke-linejoin="round"/>
<path d="M128.2,474.0 L162.73,497.91 A42.0,42.0 0 0 1 93.67,497.91 Z" fill="#d4d4d4" stroke="#d4d4d4" stroke-width="0.5" stroke-linejoin="round"/>
<path d="M128.2,474.0 L93.67,497.91 A42.0,42.0 0 0 1 117.12,433.49 Z" fill="#c6c6c6" stroke="#c6c6c6" stroke-width="0.5" stroke-linejoin="round"/>
<path d="M128.2,474.0 L117.12,433.49 A42.0,42.0 0 0 1 128.20,432.00 Z" fill="#b2b2b2" stroke="#b2b2b2" stroke-width="0.5" stroke-linejoin="round"/>
<path d="M120.21,418.57 A56.0,56.0 0 0 1 174.24,505.88 L162.32,497.63 A41.5,41.5 0 0 0 122.28,432.92 Z" fill="#ff2222"/>
<path d="M119.5,380.8 A21,21 0 1 1 146.2,401.0 C143.5,401.8 141.8,402.6 141.0,403.9 L120.3,403.9 Z" fill="#ff2222"/>
<path d="M120.3,403.7 L141.1,403.7 C138.2,407.5 135.8,412.5 135.8,418.6 L125.6,418.6 Z" fill="#808080"/>
<path d="M125.5,418.3 L135.8,418.3 L138,421 L124,421 Z" fill="#ff2222"/>
<path d="M125.6,418.3 C126.5,424.5 131.5,428.3 139.6,428.1 L139.3,430.7 L145.2,428.7 L140.6,422.7 L140.3,425.2 C134.5,425.4 130.6,423.0 129.7,418.3" fill="none" stroke="#fff" stroke-width="0.55" stroke-linejoin="round"/>
<path d="M129.08,457.22 A16.8,16.8 0 1 1 121.91,458.42" fill="none" stroke="#000" stroke-width="1.15"/>
<path d="M125.9,457.6 L120.5,456.5 L122.3,460.9 Z" fill="#111"/>
<text x="139.8" y="382.7" font-size="7.8" fill="#111" text-anchor="middle" >G0</text>
<text x="123.6" y="446.0" font-size="7.8" fill="#111" text-anchor="middle" >M</text>
<text x="99.7" y="469.9" font-size="7.8" fill="#111" text-anchor="middle" >G2</text>
<text x="154.4" y="467.3" font-size="7.8" fill="#111" text-anchor="middle" >G1</text>
<text x="127.6" y="505.7" font-size="7.8" fill="#111" text-anchor="middle" >S</text>
<text x="163.0" y="370.5" font-size="7.8" fill="#111" text-anchor="start" >G0/G1 transition</text>
<path d="M138.4,410.8 H155.4" stroke="#111" stroke-width="0.6"/>
<text x="160.2" y="413.8" font-size="7.8" fill="#111" text-anchor="start" >Mitogens</text>
<text x="57.9" y="387.9" font-size="7.8" fill="#111" text-anchor="middle" >Metaphase/anaphase</text>
<text x="57.7" y="396.4" font-size="7.8" fill="#111" text-anchor="middle" >transition</text>
<text x="41.7" y="414.9" font-size="7.8" fill="#111" text-anchor="start" textLength="20.2" lengthAdjust="spacingAndGlyphs" >CDK1</text>
<text x="80.3" y="414.9" font-size="7.8" fill="#111" text-anchor="start" >APC/C</text>
<path d="M65.2,406.9 Q70.4,400.6 75.6,405.0 M78.9,416.0 Q72.6,422.6 65.6,417.2 M67.6,414.8 L65.0,417.6 L68.6,418.6" fill="none" stroke="#111" stroke-width="0.7"/>
<path d="M73.1,404.8 L75.4,402.9 L77.0,406.9 Z" fill="#111" stroke="#111" stroke-width="0.4" stroke-linejoin="round"/>
<path d="M105.9,412.3 L121.4,425.8" stroke="#111" stroke-width="0.8"/>
<text x="186.7" y="482.6" font-size="7.8" fill="#111" text-anchor="start" >G1/S transition</text>
<text x="189.6" y="494.2" font-size="7.8" fill="#111" text-anchor="start" textLength="21.0" lengthAdjust="spacingAndGlyphs" >CDK2</text>
<path d="M199.5,496.8 V506.8 M195.9,506.9 H203.2" stroke="#111" stroke-width="0.6" fill="none"/>
<text x="188.4" y="517.6" font-size="7.8" fill="#111" text-anchor="start" >APC/C</text>
<text x="230.1" y="517.6" font-size="7.8" fill="#111" text-anchor="start" >EMI1</text>
<path d="M227.8,509.8 Q221.3,503.2 214.8,508.3 M218.0,507.2 L214.5,508.5 L216.8,511.3 M214.8,519.8 Q221.3,524.8 227.9,519.6 M225.3,517.6 L228.2,519.3 L228.2,522.0" fill="none" stroke="#111" stroke-width="0.7"/>
<path d="M168.8,501.4 L187.4,513.6" stroke="#111" stroke-width="0.8"/>
<rect x="3.8" y="459.2" width="7.4" height="6.8" fill="#ff2222"/>
<rect x="3.8" y="471.8" width="7.4" height="6.8" fill="#808080"/>
<text x="14.6" y="465.7" font-size="7.8" fill="#111" text-anchor="start" >APC/C on</text>
<text x="14.6" y="478.3" font-size="7.8" fill="#111" text-anchor="start" >APC/C off</text>
<rect x="203.9" y="391.1" width="170.0" height="68.5" rx="6" fill="#d9d9d9"/>
<text x="298.5" y="387.5" font-size="7.8" fill="#111" text-anchor="middle" >Transient APC/C inactivation</text>
<text x="213.4" y="407.4" font-size="7.8" fill="#ee2222" text-anchor="start" >Fast</text>
<text x="237.2" y="453.5" font-size="7.8" fill="#ee2222" text-anchor="start" >Delayed</text>
<path d="M206.0,411.2 H240.4" stroke="#111" stroke-width="0.7"/>
<path d="M238.8,409.4 L242.4,411.2 L238.8,413.0 Z" fill="#111"/>
<text x="247.2" y="414.0" font-size="7.8" fill="#111" text-anchor="start" textLength="31.9" lengthAdjust="spacingAndGlyphs" >mTORC1</text>
<path d="M283.4,411.2 H296.8 M296.8,407.2 V415.2" stroke="#111" stroke-width="0.7" fill="none"/>
<text x="302.6" y="414.0" font-size="7.8" fill="#111" text-anchor="start" >CDH1</text>
<path d="M328.0,411.2 H339.6" stroke="#111" stroke-width="0.7"/>
<path d="M338.0,409.4 L341.6,411.2 L338.0,413.0 Z" fill="#111"/>
<text x="345.4" y="414.0" font-size="7.8" fill="#111" text-anchor="start" >APC/C</text>
<path d="M373.8,411.2 H387.6 M387.6,407.2 V415.2" stroke="#111" stroke-width="0.7" fill="none"/>
<text x="392.6" y="414.0" font-size="7.8" fill="#111" text-anchor="start" >PFKFB3</text>
<path d="M427.4,411.2 H438.8" stroke="#111" stroke-width="0.7"/>
<path d="M437.2,409.4 L440.8,411.2 L437.2,413.0 Z" fill="#111"/>
<text x="446.7" y="414.0" font-size="7.8" fill="#111" text-anchor="start" >Glycolysis</text>
<path d="M464.0,418.4 V429" stroke="#111" stroke-width="0.7"/><path d="M462.2,427.6 L464.0,431.2 L465.8,427.6 Z" fill="#111"/>
<text x="464.0" y="440.6" font-size="7.8" fill="#111" text-anchor="middle" >Bioenergetics</text>
<text x="464.0" y="449.4" font-size="7.8" fill="#111" text-anchor="middle" >and</text>
<text x="464.0" y="458.2" font-size="7.8" fill="#111" text-anchor="middle" >cell cycle entry</text>
<path d="M206.0,411.2 C206.0,431 216,443.4 236,443.4 H292.4" fill="none" stroke="#111" stroke-width="0.7"/>
<path d="M290.8,441.6 L294.4,443.4 L290.8,445.2 Z" fill="#111"/>
<text x="299.3" y="446.2" font-size="7.8" fill="#111" text-anchor="start" textLength="22.6" lengthAdjust="spacingAndGlyphs" >PPase</text>
<path d="M312.2,436.8 V421.5" stroke="#111" stroke-width="0.7"/><path d="M310.4,423.0 L312.2,419.4 L314.0,423.0 Z" fill="#111"/>
</g>
</svg>
</body></html>
